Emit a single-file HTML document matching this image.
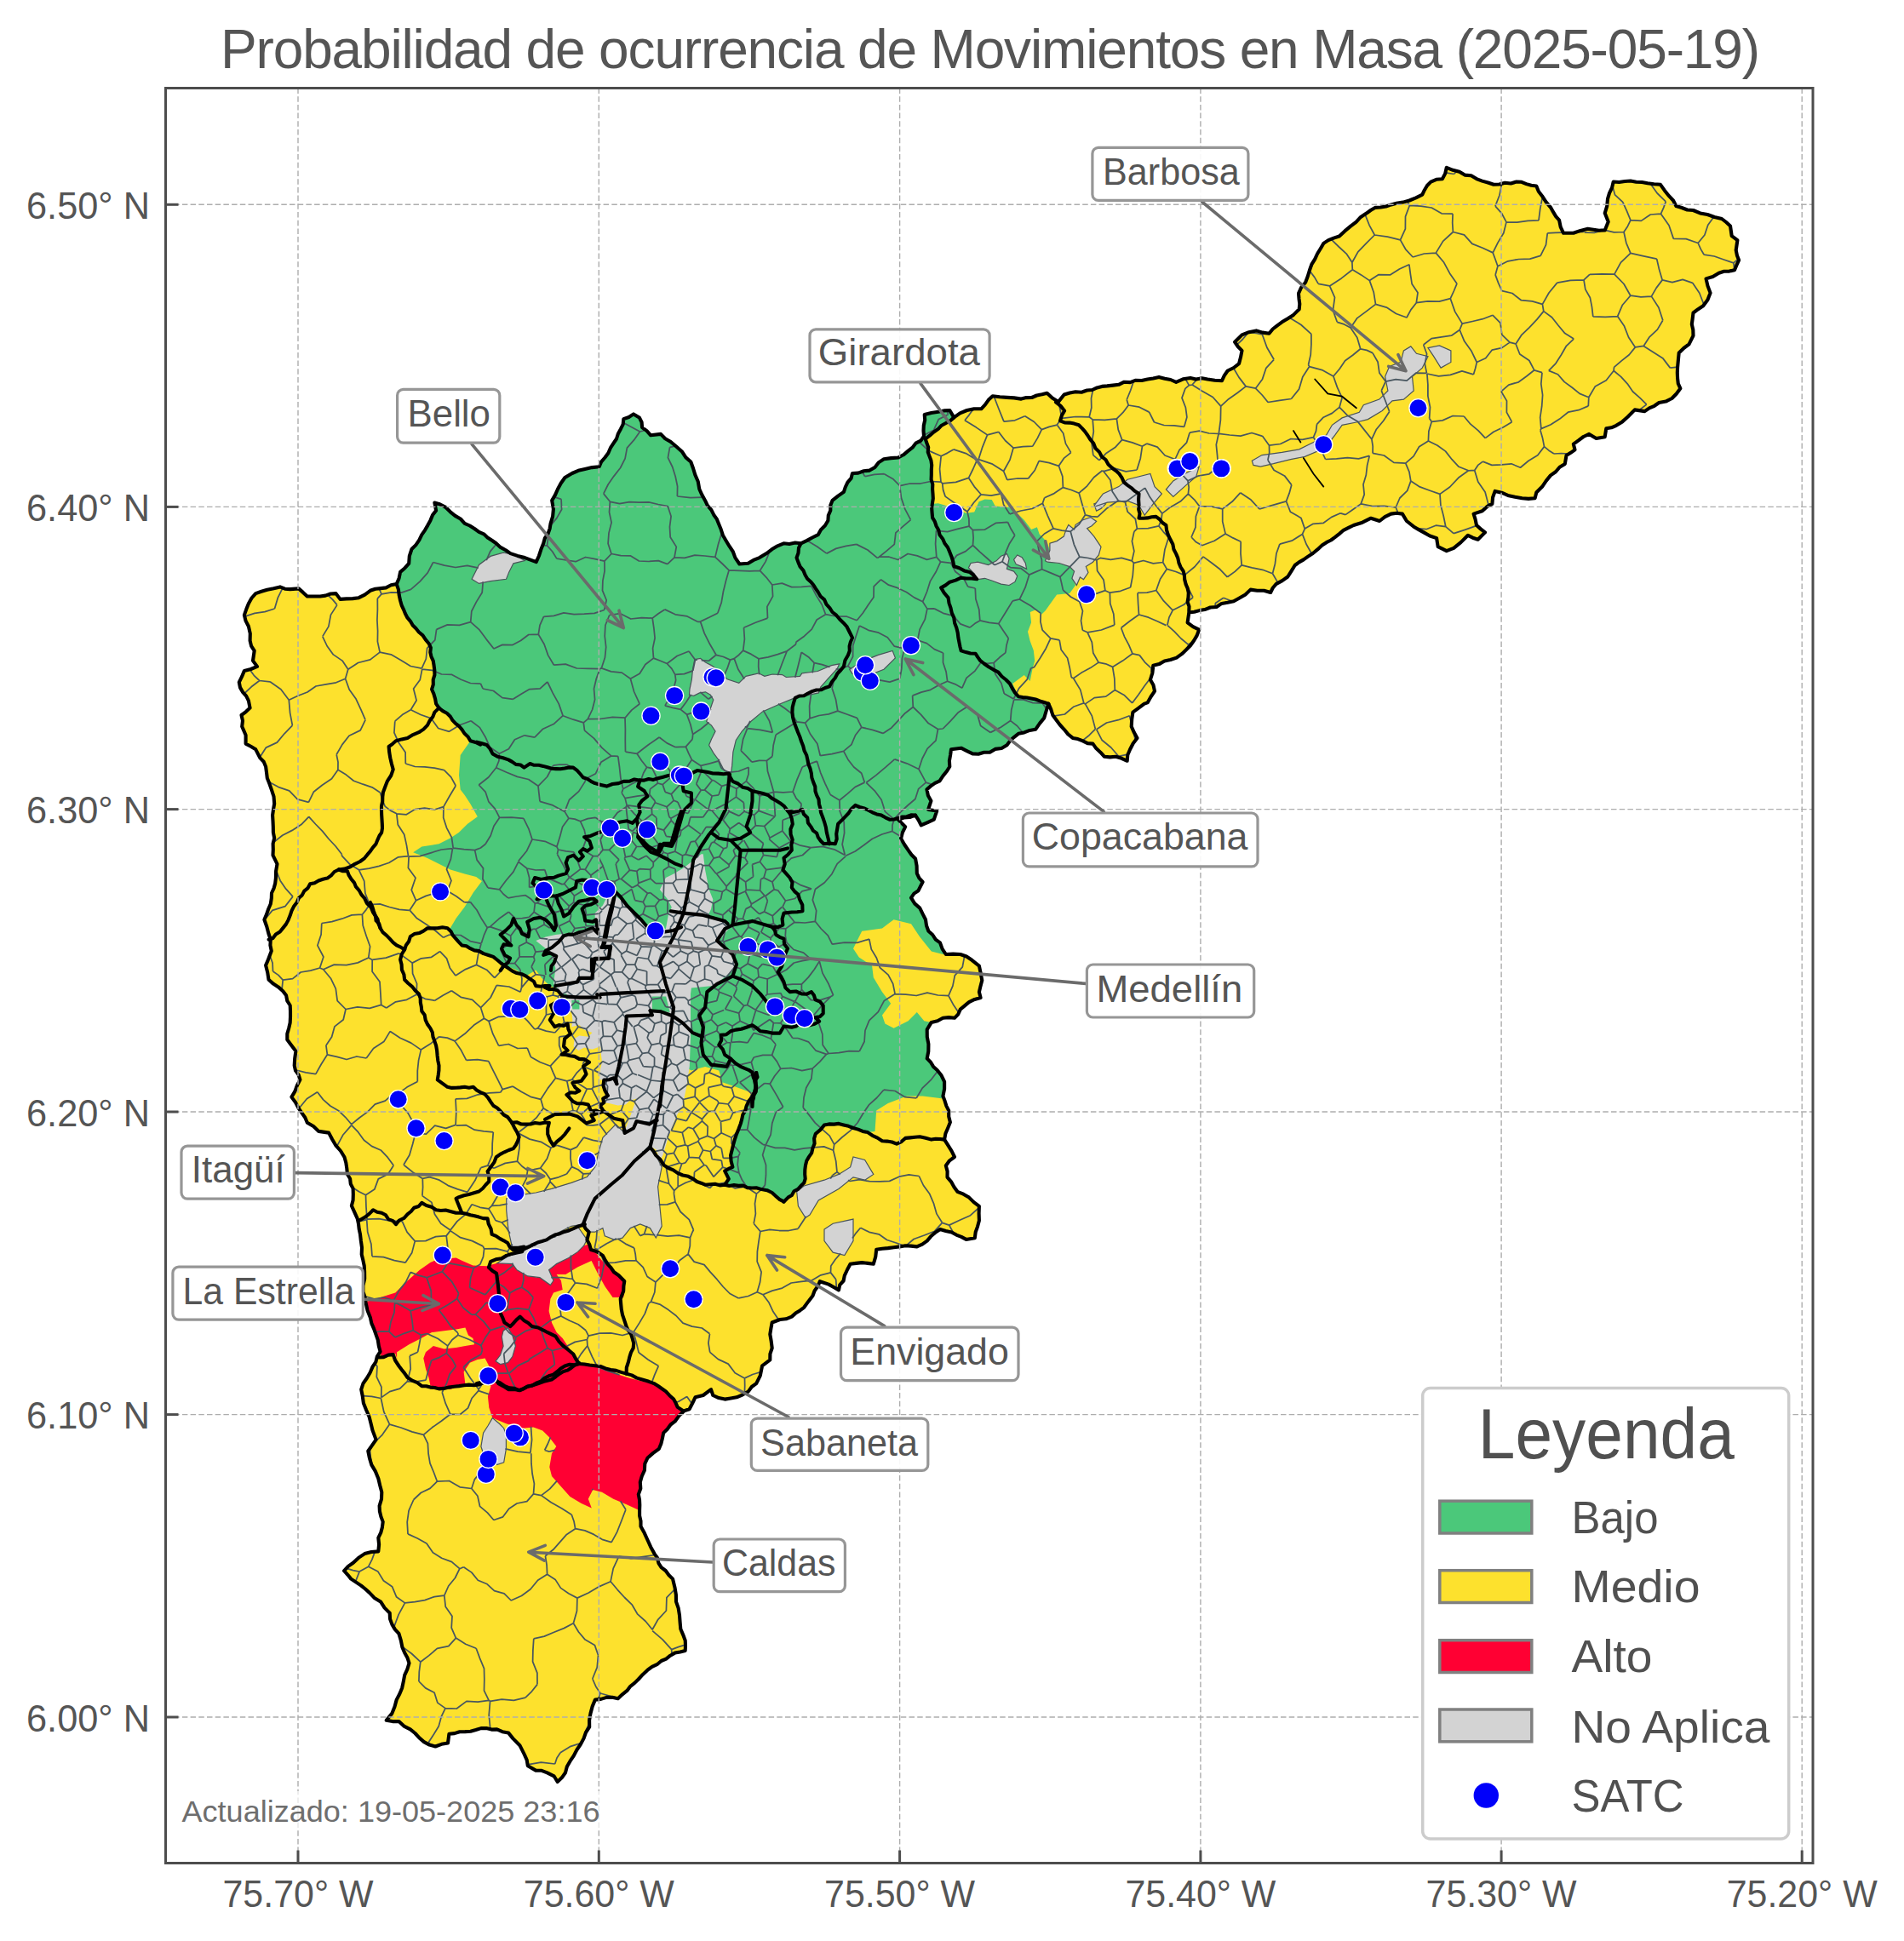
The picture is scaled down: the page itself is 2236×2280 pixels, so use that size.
<!DOCTYPE html><html><head><meta charset="utf-8"><title>Probabilidad de ocurrencia de Movimientos en Masa</title><style>html,body{margin:0;padding:0;background:#fff}body{width:2236px;height:2280px;position:relative;overflow:hidden}</style></head><body><svg width="2236" height="2280" viewBox="0 0 2236 2280" style="position:absolute;left:0;top:0">
<defs><clipPath id="mapclip"><path d="M300.3,697.1 L313.8,692.8 L328.9,689.4 L340.7,692.1 L350.8,691.4 L360.8,700.5 L376.0,700.5 L394.5,697.1 L399.5,703.9 L421.3,702.2 L434.8,693.8 L453.3,690.4 L465.7,686.1 L470.1,671.9 L480.2,661.8 L483.5,645.0 L495.3,628.2 L505.4,611.4 L512.1,599.7 L510.4,590.6 L515.5,591.9 L528.9,601.3 L545.7,614.8 L562.5,624.9 L582.7,638.3 L599.5,650.1 L616.3,655.1 L629.7,660.2 L638.2,638.3 L646.6,614.8 L649.9,598.0 L648.2,587.9 L655.0,574.5 L663.4,561.0 L671.8,556.0 L686.9,550.9 L703.7,548.2 L710.4,537.5 L720.5,520.7 L728.9,503.9 L732.3,492.1 L744.0,486.4 L750.8,490.4 L754.1,502.2 L764.2,511.3 L776.0,509.9 L787.7,519.0 L801.2,530.8 L811.3,542.5 L816.3,557.6 L821.3,574.5 L828.1,587.9 L838.2,604.7 L846.6,621.5 L856.6,641.7 L863.4,655.1 L868.4,662.5 L878.5,661.8 L891.9,655.1 L900.2,650.1 L920.3,638.3 L940.5,638.3 L960.7,628.2 L972.4,611.4 L977.5,587.9 L990.9,577.8 L1001.0,556.0 L1021.2,552.6 L1038.0,539.2 L1054.8,537.5 L1071.6,525.7 L1085.0,512.3 L1085.7,487.1 L1101.8,483.7 L1115.3,482.0 L1120.3,490.4 L1135.5,482.0 L1152.3,480.3 L1165.7,465.2 L1182.5,466.9 L1199.3,468.6 L1229.6,461.8 L1243.0,471.9 L1249.7,463.5 L1276.6,458.5 L1300.2,453.4 L1333.8,446.7 L1347.6,445.5 L1361.0,442.9 L1381.2,448.9 L1398.0,443.9 L1418.2,445.5 L1435.0,447.2 L1441.7,435.5 L1455.1,427.1 L1458.5,411.9 L1450.1,401.8 L1458.5,393.4 L1475.3,388.4 L1490.4,391.8 L1505.5,378.3 L1519.0,369.9 L1525.7,363.2 L1525.0,344.7 L1535.8,324.5 L1544.2,304.4 L1554.3,285.9 L1572.8,277.5 L1586.2,265.7 L1604.7,250.6 L1614.8,243.9 L1640.0,238.8 L1655.1,235.5 L1670.3,228.7 L1680.3,213.6 L1693.8,210.3 L1698.8,196.8 L1713.9,201.8 L1734.0,210.1 L1754.1,216.8 L1780.8,213.5 L1804.3,218.5 L1811.0,230.2 L1821.0,243.6 L1831.1,258.7 L1836.1,273.8 L1847.8,273.8 L1864.6,268.7 L1884.7,270.4 L1888.7,260.4 L1884.7,250.3 L1888.0,233.6 L1894.7,213.5 L1914.8,212.5 L1934.9,215.2 L1950.0,216.8 L1960.0,230.2 L1968.4,242.0 L1988.5,247.0 L2005.2,252.0 L2022.0,257.0 L2032.0,265.4 L2033.7,277.1 L2040.4,282.1 L2038.7,293.9 L2042.1,305.6 L2037.0,317.3 L2018.6,320.7 L2003.5,327.4 L2008.6,344.1 L2000.2,359.2 L1988.5,367.5 L1986.8,380.9 L1988.5,394.3 L1983.5,404.4 L1971.7,414.4 L1970.1,431.2 L1970.1,444.6 L1973.4,456.3 L1963.4,468.0 L1948.3,473.0 L1931.5,483.1 L1919.8,481.4 L1911.5,489.8 L1898.1,499.8 L1886.3,503.2 L1884.7,513.2 L1874.6,514.9 L1866.2,509.9 L1847.8,521.6 L1849.5,528.3 L1839.5,535.0 L1837.8,545.0 L1821.0,558.4 L1811.0,571.8 L1804.3,578.5 L1802.6,585.2 L1787.5,585.2 L1770.8,581.9 L1755.7,576.9 L1752.4,591.9 L1740.7,600.3 L1730.6,603.6 L1734.0,617.0 L1744.0,625.4 L1735.6,633.8 L1723.9,628.8 L1715.5,637.1 L1707.2,643.8 L1698.8,647.2 L1688.7,642.2 L1687.1,632.1 L1672.0,625.4 L1660.3,618.7 L1651.9,612.0 L1646.9,603.6 L1633.5,603.6 L1620.1,612.0 L1610.0,608.7 L1600.0,613.7 L1589.6,617.0 L1572.8,627.1 L1552.6,640.5 L1535.8,653.9 L1520.7,664.0 L1512.3,677.5 L1498.8,685.9 L1492.1,696.0 L1468.6,692.6 L1455.1,702.7 L1441.7,707.7 L1414.8,716.1 L1396.3,719.5 L1394.6,731.3 L1408.1,739.7 L1398.0,758.2 L1387.9,768.2 L1374.5,775.0 L1354.3,781.7 L1350.9,798.5 L1356.0,811.9 L1347.6,825.4 L1343.9,826.6 L1330.4,836.6 L1328.7,853.4 L1335.5,866.9 L1327.1,880.3 L1323.7,893.8 L1310.3,888.7 L1296.8,888.7 L1283.4,873.6 L1259.8,866.9 L1249.7,856.8 L1236.3,840.0 L1231.3,826.6 L1226.2,843.4 L1216.1,856.8 L1196.0,861.8 L1182.5,875.3 L1162.4,883.7 L1142.2,885.4 L1128.7,878.7 L1117.0,880.3 L1115.3,900.5 L1103.5,917.3 L1088.4,927.4 L1093.4,940.8 L1090.1,950.9 L1100.2,952.6 L1096.8,962.7 L1081.7,969.4 L1075.0,957.6 L1054.8,962.7 L1063.2,971.1 L1058.1,985.0 L1066.6,998.6 L1075.1,1008.8 L1076.8,1025.8 L1083.6,1036.0 L1078.5,1046.2 L1070.0,1054.7 L1080.2,1066.6 L1087.0,1080.2 L1090.4,1093.8 L1104.0,1107.4 L1110.8,1121.0 L1127.8,1121.0 L1141.4,1127.8 L1149.9,1134.6 L1153.3,1151.6 L1149.9,1165.2 L1151.6,1172.0 L1138.0,1177.1 L1127.8,1185.6 L1121.0,1195.8 L1107.4,1195.8 L1093.8,1200.9 L1088.7,1209.4 L1090.4,1226.4 L1088.7,1243.4 L1100.6,1257.0 L1109.1,1270.6 L1107.4,1287.6 L1114.2,1304.6 L1115.9,1318.2 L1109.1,1338.6 L1117.6,1352.2 L1121.0,1359.0 L1110.8,1369.2 L1112.5,1382.8 L1124.4,1399.8 L1138.0,1406.6 L1149.9,1416.8 L1149.9,1433.8 L1144.8,1454.2 L1134.6,1455.9 L1117.6,1447.4 L1104.0,1444.0 L1088.7,1457.6 L1076.8,1464.4 L1056.4,1464.4 L1042.8,1466.1 L1029.2,1467.8 L1025.8,1484.8 L1012.2,1483.1 L998.6,1484.8 L991.8,1498.4 L985.0,1515.4 L973.1,1508.6 L962.9,1505.2 L954.4,1522.2 L944.2,1535.8 L929.8,1546.6 L915.9,1550.0 L906.7,1553.5 L904.3,1567.4 L906.7,1583.5 L904.3,1597.4 L895.1,1604.3 L892.8,1615.9 L888.2,1625.1 L878.9,1634.4 L865.1,1641.3 L851.2,1643.6 L837.3,1639.0 L835.0,1632.1 L825.8,1639.0 L816.5,1641.3 L809.6,1655.2 L802.7,1657.5 L803.4,1657.6 L792.6,1669.7 L779.2,1683.1 L773.9,1701.8 L760.5,1712.5 L753.8,1734.0 L749.8,1755.4 L751.1,1774.2 L752.5,1792.9 L760.5,1809.0 L768.5,1825.1 L776.6,1841.2 L790.0,1854.6 L792.6,1865.3 L794.0,1881.4 L798.0,1897.4 L799.3,1913.5 L804.7,1926.9 L804.7,1939.0 L792.6,1941.6 L776.6,1951.0 L760.5,1961.7 L749.8,1972.5 L736.4,1985.9 L725.7,1995.2 L712.3,1993.9 L698.9,1996.6 L693.5,2012.6 L692.2,2028.7 L685.5,2042.1 L677.4,2055.5 L669.4,2068.9 L664.0,2082.3 L654.7,2093.0 L650.6,2086.3 L642.6,2082.3 L629.2,2079.6 L619.8,2074.3 L615.8,2060.9 L610.4,2050.2 L602.4,2042.1 L597.0,2035.4 L583.6,2031.4 L564.9,2030.1 L546.1,2034.1 L527.4,2036.8 L526.0,2047.5 L511.3,2051.5 L497.9,2046.1 L481.8,2031.4 L468.4,2022.0 L453.7,2020.7 L460.4,2012.6 L465.7,1996.6 L473.8,1975.1 L480.5,1953.7 L472.4,1934.9 L468.4,1918.9 L460.4,1908.1 L457.7,1894.7 L447.0,1881.4 L433.6,1870.6 L424.2,1862.6 L412.2,1854.6 L404.1,1845.2 L414.8,1835.8 L428.2,1825.1 L444.3,1822.4 L444.3,1806.3 L449.7,1787.6 L445.6,1768.8 L448.3,1752.7 L444.3,1736.7 L436.3,1720.6 L432.3,1704.5 L441.6,1691.1 L437.6,1680.4 L433.6,1664.3 L426.9,1648.2 L424.2,1632.2 L430.9,1618.8 L437.6,1605.4 L446.6,1587.7 L441.5,1567.6 L434.8,1547.4 L429.7,1530.6 L426.4,1510.4 L428.1,1493.6 L424.7,1473.4 L423.0,1449.9 L419.7,1431.4 L412.9,1416.3 L414.6,1396.1 L407.9,1379.3 L404.5,1359.2 L394.5,1345.7 L386.1,1330.6 L374.3,1328.9 L360.8,1318.8 L350.8,1302.0 L342.4,1288.6 L352.4,1268.4 L345.7,1251.6 L347.4,1234.8 L337.3,1221.3 L340.7,1201.2 L340.7,1181.0 L332.3,1164.2 L315.5,1150.8 L312.1,1133.9 L318.8,1117.1 L315.5,1097.0 L310.4,1080.2 L318.8,1055.1 L323.9,1031.6 L325.5,1014.8 L320.5,1004.7 L322.2,984.5 L320.5,964.4 L322.2,944.2 L318.8,927.4 L313.8,913.9 L312.1,900.5 L305.4,890.4 L300.3,880.3 L288.6,873.6 L288.6,863.5 L284.2,853.4 L283.5,840.0 L293.6,831.6 L291.9,823.2 L285.2,813.1 L280.8,801.3 L286.9,787.9 L302.0,782.9 L297.0,776.1 L298.7,764.4 L293.6,752.6 L291.9,735.8 L286.9,722.4 L291.9,708.9Z"/></clipPath></defs>
<rect x="0" y="0" width="2236" height="2280" fill="#fff"/>
<g clip-path="url(#mapclip)">
<rect x="200" y="150" width="1900" height="2000" fill="#fde12d"/>
<path d="M465.7,686.1 L440.0,600.0 L440.0,380.0 L1080.0,380.0 L1128.0,470.0 L1120.3,490.4 L1101.8,503.9 L1086.7,515.6 L1093.4,540.8 L1095.1,574.5 L1093.7,591.9 L1101.8,591.2 L1108.7,593.3 L1134.6,602.8 L1144.2,601.5 L1149.6,589.2 L1156.5,586.4 L1164.7,587.1 L1168.8,594.6 L1185.1,596.0 L1196.1,604.2 L1202.9,611.0 L1211.1,621.9 L1217.9,619.2 L1220.7,627.4 L1226.1,632.9 L1230.2,638.3 L1232.9,646.5 L1227.5,658.8 L1230.2,660.2 L1243.9,661.5 L1256.2,665.6 L1261.6,671.1 L1260.3,680.7 L1263.0,687.5 L1256.2,697.0 L1241.1,698.4 L1234.3,708.0 L1227.5,717.5 L1223.4,721.6 L1216.6,716.2 L1209.7,718.9 L1211.1,731.2 L1207.0,742.1 L1209.7,753.0 L1213.8,764.0 L1215.2,776.2 L1212.5,785.8 L1209.7,800.0 L1202.7,792.9 L1189.2,803.0 L1196.0,818.2 L1216.1,821.5 L1231.3,826.6 L1236.0,850.0 L1228.0,880.0 L1200.0,1000.0 L1200.0,1100.0 L1107.4,1121.0 L1093.8,1117.6 L1080.2,1100.6 L1070.0,1085.3 L1049.6,1080.2 L1042.8,1085.3 L1036.0,1090.4 L1012.2,1093.8 L1002.0,1114.2 L1008.8,1124.4 L1024.1,1134.6 L1025.8,1148.2 L1036.0,1165.2 L1046.2,1178.8 L1036.0,1192.4 L1039.4,1202.6 L1049.6,1207.7 L1066.6,1199.2 L1076.8,1189.0 L1085.3,1199.2 L1093.8,1200.9 L1200.0,1210.0 L1200.0,1285.0 L1105.7,1290.3 L1083.6,1287.6 L1064.9,1287.6 L1042.8,1296.1 L1029.2,1304.6 L1027.5,1329.1 L1019.0,1330.1 L1002.0,1325.0 L985.0,1319.9 L968.0,1321.6 L957.8,1331.8 L954.4,1348.8 L945.9,1369.2 L944.2,1389.6 L925.5,1406.6 L920.4,1411.7 L906.7,1401.0 L888.2,1395.2 L867.4,1392.9 L851.2,1391.7 L855.8,1384.8 L851.2,1375.6 L860.4,1370.9 L858.1,1357.1 L862.8,1338.6 L869.7,1320.1 L876.6,1299.3 L885.9,1283.1 L881.2,1283.1 L862.8,1276.2 L848.9,1271.6 L848.9,1273.7 L844.3,1257.5 L828.1,1252.9 L811.9,1257.5 L721.8,1206.7 L675.6,1183.5 L659.4,1167.4 L652.4,1160.4 L645.5,1158.1 L636.3,1148.9 L629.3,1139.6 L617.8,1146.6 L606.2,1139.6 L589.4,1132.2 L589.4,1132.3 L579.3,1123.9 L562.5,1117.1 L542.4,1110.4 L525.5,1090.3 L528.9,1090.1 L535.6,1078.7 L545.7,1065.2 L555.8,1048.4 L565.9,1035.0 L559.2,1029.9 L545.7,1026.6 L528.9,1021.5 L515.5,1014.8 L502.0,1008.1 L485.2,1001.3 L495.3,994.6 L515.5,991.3 L528.9,984.5 L539.0,977.8 L549.1,967.7 L560.8,959.3 L552.4,944.2 L545.7,934.1 L540.7,927.4 L539.0,910.6 L540.7,887.1 L552.4,870.3 L552.4,870.3 L542.4,856.8 L528.9,841.7 L515.5,831.6 L515.5,831.6 L512.1,826.6 L507.1,809.7 L510.4,792.9 L508.7,776.1 L503.7,756.0 L491.9,742.5 L478.5,725.7 L470.1,705.5 L465.7,686.1Z" fill="#4bc87a"/>
<path d="M429.5,1529.3 L464.3,1518.6 L476.8,1506.1 L492.9,1491.8 L505.4,1482.9 L514.3,1479.3 L535.7,1477.5 L542.9,1481.1 L555.4,1486.4 L571.4,1487.3 L583.9,1483.8 L601.8,1484.6 L607.1,1491.8 L619.6,1498.9 L633.9,1500.7 L646.4,1509.6 L650.0,1504.3 L644.6,1491.8 L653.6,1484.6 L667.9,1477.5 L678.6,1470.4 L685.7,1463.2 L691.1,1461.4 L700.0,1472.1 L707.1,1481.1 L719.6,1491.8 L730.4,1502.5 L733.9,1515.0 L732.1,1523.9 L719.6,1523.9 L710.7,1511.4 L701.8,1495.4 L694.6,1481.1 L678.6,1488.2 L664.3,1497.1 L653.6,1497.1 L658.9,1504.3 L660.7,1515.0 L650.0,1518.6 L646.4,1525.7 L644.6,1540.0 L648.2,1554.3 L653.6,1565.0 L660.7,1572.1 L667.9,1582.9 L675.0,1593.6 L678.6,1598.9 L685.7,1602.5 L703.6,1606.1 L721.4,1609.6 L723.0,1613.4 L739.1,1618.8 L755.1,1622.8 L768.0,1625.7 L781.9,1634.8 L791.0,1644.2 L795.9,1653.3 L802.6,1658.1 L819.4,1663.0 L808.7,1669.7 L781.9,1683.1 L776.6,1701.8 L763.2,1712.5 L756.5,1734.0 L752.5,1755.4 L751.1,1774.2 L736.4,1767.5 L720.3,1760.8 L706.9,1752.7 L696.2,1750.1 L690.8,1760.8 L694.8,1771.5 L682.8,1766.1 L669.4,1758.1 L658.7,1746.0 L648.0,1734.0 L645.3,1723.3 L648.0,1707.2 L653.3,1699.1 L645.3,1688.4 L637.2,1680.4 L626.5,1676.4 L613.1,1677.7 L594.4,1672.3 L578.3,1665.6 L574.3,1653.6 L572.9,1640.2 L576.9,1626.8 L578.3,1618.8 L576.8,1627.5 L571.4,1626.6 L560.7,1624.8 L551.8,1626.6 L541.1,1627.5 L528.6,1632.0 L516.1,1630.2 L505.4,1627.5 L492.9,1627.5 L478.6,1618.6 L469.6,1606.1 L466.1,1595.4 L464.3,1590.0 L458.9,1590.0 L451.8,1595.4 L447.3,1591.8 L442.9,1575.7 L435.7,1547.1 L426.8,1529.3Z" fill="#ff0033"/>
<path d="M466.1,1588.2 L480.4,1579.3 L494.6,1572.1 L507.1,1565.0 L521.4,1563.2 L535.7,1561.4 L546.4,1559.6 L550.0,1568.6 L555.4,1572.1 L557.1,1579.3 L546.4,1581.1 L535.7,1582.9 L521.4,1584.6 L508.9,1581.1 L500.0,1588.2 L497.3,1595.4 L500.0,1607.9 L503.6,1618.6 L505.4,1627.5 L492.9,1627.5 L478.6,1618.6 L469.6,1606.1 L466.1,1595.4Z" fill="#fde12d"/>
<path d="M546.4,1625.7 L544.6,1611.4 L551.8,1600.7 L560.7,1597.1 L569.6,1595.4 L573.2,1602.5 L576.8,1609.6 L578.6,1618.6 L571.4,1625.7 L560.7,1623.9 L551.8,1625.7Z" fill="#fde12d"/>
<path d="M554.1,680.3 L562.5,663.5 L576.0,653.4 L591.1,649.1 L602.9,651.1 L616.3,658.5 L602.9,661.8 L597.8,671.9 L594.5,680.3 L576.0,682.7 L562.5,685.4Z" fill="#d3d3d3" stroke="#4a545a" stroke-width="1.2"/>
<path d="M815.8,774.7 L822.7,773.5 L828.5,778.1 L835.5,781.6 L844.7,788.5 L853.9,797.8 L867.8,802.4 L875.9,794.3 L890.9,790.8 L897.9,794.3 L907.1,792.0 L918.6,792.6 L923.3,795.5 L939.4,794.3 L941.8,790.8 L960.2,788.5 L976.4,781.6 L985.7,779.9 L983.4,785.1 L971.8,797.8 L963.7,807.0 L961.4,813.9 L933.7,819.7 L916.3,826.7 L895.5,835.9 L881.7,847.5 L871.3,859.0 L864.3,869.4 L860.9,883.3 L859.7,899.4 L858.6,907.5 L850.5,905.2 L844.7,893.7 L837.8,884.4 L832.6,875.2 L835.5,868.2 L840.1,859.0 L835.5,852.1 L829.7,847.5 L834.3,832.4 L837.8,822.0 L834.3,816.3 L828.5,812.8 L821.6,813.9 L814.7,817.4 L809.5,816.3 L810.0,809.3 L812.4,797.8 L813.5,786.2Z" fill="#d3d3d3" stroke="#4a545a" stroke-width="1.2"/>
<path d="M997.6,786.2 L1014.5,776.1 L1031.3,769.4 L1048.1,764.4 L1051.4,772.8 L1038.0,786.2 L1021.2,792.9 L1001.0,791.3Z" fill="#d3d3d3" stroke="#4a545a" stroke-width="1.2"/>
<path d="M1137.4,667.0 L1140.1,661.5 L1148.3,660.2 L1160.6,663.6 L1170.1,658.8 L1175.6,653.3 L1182.4,650.6 L1185.1,656.1 L1182.4,668.4 L1190.6,671.1 L1194.7,676.6 L1192.0,683.4 L1185.1,687.5 L1175.6,686.1 L1164.7,682.0 L1156.5,679.3 L1148.3,680.7 L1144.2,673.8Z" fill="#d3d3d3" stroke="#4a545a" stroke-width="1.2"/>
<path d="M1190.6,657.4 L1194.7,652.0 L1200.2,654.7 L1204.3,661.5 L1205.6,668.4 L1200.2,665.6 L1193.3,662.9Z" fill="#d3d3d3" stroke="#4a545a" stroke-width="1.2"/>
<path d="M1284.8,591.9 L1293.0,589.2 L1298.5,591.9 L1293.0,597.4 L1287.6,600.1Z" fill="#d3d3d3" stroke="#4a545a" stroke-width="1.2"/>
<path d="M1227.5,658.8 L1232.9,646.5 L1232.9,638.3 L1241.1,635.6 L1249.3,630.1 L1252.1,621.9 L1254.8,616.5 L1261.6,621.9 L1263.0,616.5 L1271.2,611.0 L1280.7,607.6 L1287.6,612.4 L1282.1,617.8 L1276.6,620.6 L1284.8,630.1 L1293.0,642.4 L1290.3,652.0 L1283.5,660.2 L1275.3,665.6 L1278.0,672.5 L1272.5,680.7 L1268.4,677.9 L1264.4,687.5 L1258.9,679.3 L1261.6,671.1 L1256.2,665.6 L1243.9,661.5 L1230.2,660.2Z" fill="#d3d3d3" stroke="#4a545a" stroke-width="1.2"/>
<path d="M1285.4,593.4 L1295.5,580.0 L1313.9,571.6 L1324.0,563.2 L1350.9,556.5 L1356.0,571.6 L1364.4,580.0 L1354.3,591.8 L1344.2,605.2 L1337.5,593.4 L1324.0,588.4 L1300.5,590.1 L1285.4,595.1Z" fill="#d3d3d3" stroke="#4a545a" stroke-width="1.2"/>
<path d="M1369.4,575.0 L1377.8,564.9 L1391.3,556.5 L1408.1,548.1 L1404.7,559.8 L1392.9,569.9 L1377.8,583.4Z" fill="#d3d3d3" stroke="#4a545a" stroke-width="1.2"/>
<path d="M1470.3,541.3 L1482.0,534.6 L1505.5,531.3 L1525.7,527.9 L1542.5,519.5 L1557.6,511.1 L1564.4,499.3 L1576.1,490.9 L1596.3,484.2 L1601.3,475.8 L1619.8,469.1 L1629.9,459.0 L1626.6,442.2 L1631.6,430.4 L1645.0,425.4 L1648.4,411.9 L1656.8,406.9 L1663.5,415.3 L1677.0,418.7 L1670.3,432.1 L1658.5,442.2 L1660.2,459.0 L1648.4,469.1 L1635.0,470.8 L1623.2,482.5 L1606.4,492.6 L1592.9,496.0 L1576.1,499.3 L1567.7,511.1 L1556.0,526.2 L1532.4,536.3 L1515.6,539.7 L1495.5,544.7 L1480.3,548.1 L1471.9,546.4Z" fill="#d3d3d3" stroke="#4a545a" stroke-width="1.2"/>
<path d="M1677.0,408.6 L1690.4,405.9 L1703.9,411.9 L1703.9,425.4 L1692.1,432.1 L1683.7,418.7Z" fill="#d3d3d3" stroke="#4a545a" stroke-width="1.2"/>
<path d="M578.3,1665.6 L572.9,1675.0 L567.6,1683.1 L564.9,1699.1 L567.6,1707.2 L578.3,1712.5 L583.6,1720.6 L591.7,1717.9 L594.4,1701.8 L594.4,1685.7 L591.7,1677.7 L586.3,1672.3Z" fill="#d3d3d3" stroke="#4a545a" stroke-width="1.2"/>
<path d="M935.7,1399.8 L944.2,1393.0 L968.0,1386.2 L985.0,1379.4 L998.6,1370.9 L1002.0,1359.0 L1015.6,1362.4 L1025.8,1379.4 L1015.6,1386.2 L1002.0,1382.8 L985.0,1396.4 L961.2,1410.0 L951.0,1427.0 L945.9,1430.4 L937.4,1416.8Z" fill="#d3d3d3" stroke="#4a545a" stroke-width="1.2"/>
<path d="M968.0,1444.0 L978.2,1437.2 L1002.0,1432.1 L1002.0,1457.6 L991.8,1474.6 L978.2,1471.2 L968.0,1457.6Z" fill="#d3d3d3" stroke="#4a545a" stroke-width="1.2"/>
<path d="M823.5,1003.3 L825.8,1003.3 L828.1,1021.8 L832.7,1044.9 L837.3,1056.4 L835.0,1068.0 L830.4,1077.2 L851.2,1081.9 L855.8,1091.1 L844.3,1105.0 L860.4,1121.2 L865.1,1132.7 L858.1,1142.0 L846.6,1151.2 L837.3,1158.1 L811.9,1160.4 L811.0,1167.4 L663.1,1167.4 L659.4,1167.4 L650.1,1155.8 L652.4,1137.3 L647.8,1121.2 L640.9,1114.2 L629.3,1105.0 L640.9,1100.4 L652.4,1098.0 L670.9,1095.7 L689.4,1091.1 L698.7,1086.5 L698.7,1072.6 L707.9,1063.4 L712.5,1054.1 L721.8,1051.8 L731.0,1058.8 L740.3,1068.0 L749.5,1077.2 L758.8,1086.5 L768.0,1095.7 L781.9,1091.1 L785.3,1072.6 L788.8,1065.7 L784.2,1056.4 L774.9,1044.9 L781.9,1031.0 L791.1,1026.4 L802.7,1019.5 L811.9,1012.5Z" fill="#d3d3d3"/>
<path d="M663.1,1155.4 L811.0,1155.4 L811.0,1217.8 L809.8,1252.4 L806.4,1275.5 L804.1,1287.1 L801.8,1298.6 L794.8,1310.2 L790.2,1321.8 L785.6,1333.3 L782.1,1344.9 L778.6,1356.4 L775.2,1363.4 L770.6,1350.6 L762.5,1346.0 L767.1,1333.3 L770.6,1319.4 L769.4,1316.0 L762.5,1320.6 L747.5,1317.1 L744.0,1325.2 L733.6,1331.0 L734.7,1325.2 L740.5,1310.2 L747.5,1290.6 L739.4,1292.9 L734.7,1297.5 L725.5,1298.6 L716.3,1296.3 L709.9,1295.2 L708.2,1290.6 L713.9,1287.1 L710.5,1281.3 L709.3,1268.6 L704.1,1268.6 L704.7,1257.1 L707.0,1247.8 L705.9,1238.6 L704.7,1229.3 L695.5,1232.8 L686.2,1230.5 L679.3,1233.9 L673.5,1229.3 L674.7,1220.1 L680.4,1216.6 L690.8,1217.8 L695.5,1213.1 L686.2,1209.7 L680.4,1203.9 L671.2,1206.2 L672.4,1198.1 L671.2,1187.7 L666.6,1173.9Z" fill="#d3d3d3"/>
<path d="M723.2,1320.6 L733.6,1330.9 L744.0,1325.2 L747.4,1317.1 L762.4,1320.6 L768.0,1317.8 L765.7,1334.0 L762.4,1346.0 L744.9,1364.0 L731.0,1380.2 L717.2,1391.7 L698.7,1407.9 L689.4,1426.4 L684.8,1438.0 L670.9,1440.3 L652.4,1449.5 L636.3,1458.8 L615.5,1464.5 L601.6,1465.7 L597.0,1444.9 L594.7,1421.8 L594.7,1407.9 L613.2,1403.3 L629.3,1401.0 L647.8,1396.4 L670.9,1389.4 L689.4,1382.5 L698.7,1370.9 L703.3,1352.4 L707.9,1336.3Z" fill="#d3d3d3" stroke="#4a545a" stroke-width="1.2"/>
<path d="M762.4,1346.0 L770.3,1357.1 L777.2,1370.9 L772.6,1394.0 L774.9,1417.2 L777.2,1440.3 L770.3,1454.1 L763.4,1442.6 L751.8,1438.0 L740.3,1442.6 L731.0,1454.1 L721.8,1456.4 L710.2,1451.8 L707.9,1442.6 L698.7,1447.2 L691.7,1447.2 L684.8,1438.0 L689.4,1426.4 L698.7,1407.9 L717.2,1391.7 L731.0,1380.2 L744.9,1364.0Z" fill="#d3d3d3" stroke="#4a545a" stroke-width="1.2"/>
<path d="M583.9,1483.8 L596.4,1475.7 L614.3,1469.5 L632.1,1460.5 L650.0,1453.4 L667.9,1444.5 L678.6,1440.9 L689.3,1456.1 L685.7,1463.2 L678.6,1470.4 L667.9,1477.5 L653.6,1484.6 L644.6,1491.8 L650.0,1504.3 L646.4,1509.6 L633.9,1500.7 L619.6,1498.9 L607.1,1491.8 L601.8,1484.6Z" fill="#d3d3d3" stroke="#4a545a" stroke-width="1.2"/>
<path d="M591.1,1563.2 L596.4,1559.6 L601.8,1568.6 L605.4,1581.1 L601.8,1593.6 L596.4,1600.7 L587.5,1602.5 L582.1,1598.9 L587.5,1591.8 L591.1,1581.1 L589.3,1570.4Z" fill="#d3d3d3" stroke="#4a545a" stroke-width="1.2"/>
<path d="M765.9,1170.4 L782.1,1170.4 L786.7,1188.9 L765.9,1186.6Z" fill="#4bc87a"/>
<path d="M671.2,1175.0 L680.4,1175.0 L680.4,1185.4 L672.4,1185.4Z" fill="#4bc87a"/>
<path fill="none" stroke="#48565f" stroke-width="1.75" stroke-linejoin="round" d="M287.6,724.2 L299.0,720.4 L311.0,718.7 L322.5,715.0M332.0,690.6 L326.2,702.4 L322.5,715.0M292.9,785.9 L298.2,793.3 L304.7,799.5M304.7,799.5 L295.2,806.8 L286.5,815.0M304.7,799.5 L317.1,800.8M510.5,591.3 L511.8,593.4M511.8,593.4 L516.5,592.6M1709.6,200.4 L1709.7,202.1M1709.7,202.1 L1713.1,201.5M503.2,2046.7 L504.3,2048.7M651.7,2072.0 L635.4,2070.1 L619.3,2072.8M1938.0,215.5 L1946.2,227.0 L1956.3,236.8M384.9,698.9 L390.7,704.4 L395.9,710.6M395.9,710.6 L388.5,722.1 L385.9,735.9 L378.8,747.6M443.3,703.1 L448.0,697.8M445.4,691.8 L448.0,697.8M650.3,583.7 L659.1,586.4M1756.0,242.1 L1761.0,229.2 L1763.7,215.6M1709.7,202.1 L1707.5,204.5M2041.6,303.8 L2035.9,308.9M2035.9,308.9 L2036.9,317.3M448.0,697.8 L459.5,695.8 L471.4,696.2 L482.5,692.3M482.5,692.3 L493.1,683.2 L502.2,672.9 L508.7,660.5M659.1,586.4 L659.6,598.5 L653.8,608.6 L646.0,618.1 L644.0,629.5 L642.5,640.9M642.5,640.9 L637.3,640.7M508.7,660.5 L521.8,664.2 L534.9,666.5 L548.7,664.4 L561.8,667.1M583.2,638.8 L575.8,647.6 L571.2,658.2M1756.0,242.1 L1763.6,250.7 L1769.0,260.9M1811.5,231.1 L1808.8,244.9 L1807.0,258.9M1807.0,258.9 L1794.3,259.4 L1781.7,261.2 L1769.0,260.9M1817.3,273.8 L1826.6,273.4 L1835.9,273.2M1851.7,272.6 L1859.7,272.3M1859.7,272.3 L1860.0,270.1M1950.5,251.2 L1938.3,252.0 L1927.4,259.4 L1914.9,258.7M1956.3,236.8 L1953.6,244.1 L1950.5,251.2M1914.9,258.7 L1910.5,247.9 L1905.7,237.3 L1896.6,228.9 L1893.4,217.4M1970.1,431.1 L1961.4,432.1M2035.9,308.9 L2024.5,305.0 L2013.2,301.0 L2001.2,299.2M2001.0,357.7 L1995.8,344.3 L1987.7,332.3M1950.5,251.2 L1960.0,264.8 L1965.3,280.4M2013.0,254.3 L2005.8,264.2 L2001.9,276.0 L1994.1,285.5M1965.3,280.4 L1980.1,280.7 L1994.1,285.5M2001.2,299.2 L1997.3,292.6 L1994.1,285.5M407.3,1842.4 L414.6,1844.7 L422.1,1846.1M440.1,1823.1 L436.9,1831.9 L432.7,1840.2M422.1,1846.1 L432.7,1840.2M417.4,1858.1 L422.1,1846.1M462.7,1911.2 L468.1,1896.6 L475.5,1882.9M475.5,1882.9 L465.5,1875.7 L460.5,1863.7 L450.4,1856.7 L443.9,1846.1 L432.7,1840.2M485.8,1761.5 L480.1,1774.4 L478.2,1787.9 L479.0,1801.9M874.5,1618.9 L863.2,1612.7 L855.2,1602.1 L843.4,1596.6 L833.7,1588.3M874.5,1618.9 L874.7,1627.8 L874.4,1636.6M806.7,1640.6 L812.7,1648.9M804.7,1932.2 L796.6,1934.6 L788.7,1937.6M789.0,1943.7 L788.7,1937.6M317.1,800.8 L329.9,809.8 L339.3,822.2M305.0,889.7 L312.5,878.1 L325.4,872.1 L334.0,861.8 L343.4,852.2M339.3,822.2 L340.6,837.3 L343.4,852.2M1119.8,1448.5 L1114.7,1439.1M1114.7,1439.1 L1127.1,1433.3 L1139.6,1427.7 L1149.9,1418.4M1707.5,204.5 L1696.6,202.6M1961.4,432.1 L1953.0,421.1 L1941.6,413.7 L1930.2,406.4M1952.8,376.2 L1946.4,387.1 L1937.1,395.8 L1930.2,406.4M1895.1,435.5 L1895.5,431.3M1895.5,431.3 L1904.2,423.9 L1913.2,416.8 L1920.4,407.9M1933.7,475.1 L1925.9,467.3 L1917.5,460.0 L1911.2,450.8 L1903.7,442.6 L1895.1,435.5M1930.2,406.4 L1920.4,407.9M447.7,1180.4 L446.9,1166.8 L446.0,1153.2 L437.1,1141.2 L437.2,1127.4M447.7,1180.4 L434.1,1184.3 L419.8,1182.9 L406.0,1185.5M406.0,1185.5 L396.2,1175.6 L394.3,1161.3 L388.4,1149.2 L379.7,1138.7M379.7,1138.7 L392.4,1133.1 L406.8,1133.7 L420.2,1130.9 L432.8,1125.0M437.2,1127.4 L432.8,1125.0M453.7,1184.0 L464.7,1176.8 L477.7,1174.3 L489.1,1168.2M458.2,1211.4 L469.9,1219.2 L482.8,1225.1 L494.4,1233.1M510.6,1175.3 L499.3,1173.3 L489.1,1168.2M515.7,1217.8 L505.6,1226.1 L494.4,1233.1M468.6,1119.9 L453.2,1125.2 L437.2,1127.4M484.2,1131.1 L484.6,1143.6 L489.6,1155.5 L489.1,1168.2M468.6,1119.9 L476.4,1125.4 L484.2,1131.1M447.7,1180.4 L453.7,1184.0M412.8,1320.7 L405.6,1312.3 L397.6,1304.7 L387.8,1299.0 L379.5,1291.6 L372.7,1282.8M412.8,1320.7 L422.1,1313.0 L431.9,1305.9 L440.4,1297.2 L452.3,1293.1 L461.5,1285.2M430.2,1243.0 L418.9,1241.0 L407.0,1244.5 L395.7,1241.3 L384.4,1238.8M370.8,1261.6 L377.3,1250.0 L384.4,1238.8M412.8,1321.6 L402.7,1333.3 L395.4,1346.9M350.9,1302.2 L360.3,1290.8 L372.7,1282.8M458.2,1211.4 L450.8,1223.6 L438.6,1231.6 L430.2,1243.0M382.9,1227.9 L384.4,1238.8M382.9,1227.9 L389.6,1217.9 L392.9,1205.9 L403.2,1197.8 L406.0,1185.5M347.8,1257.0 L359.2,1259.9 L370.8,1261.6M833.5,1566.8 L831.9,1577.6 L833.7,1588.3M889.2,1517.7 L878.7,1522.5 L867.4,1524.9M874.5,1618.9 L883.8,1614.5 L893.7,1611.5M889.2,1517.7 L896.0,1520.7M896.0,1520.7 L903.0,1530.1 L908.0,1540.8 L914.6,1550.5M896.0,1520.7 L907.0,1516.1 L918.6,1513.1 L929.2,1507.0 L941.2,1505.3 L953.4,1504.1 L963.9,1497.8 L975.5,1494.9M982.4,1513.9 L981.7,1502.9M975.5,1494.9 L981.7,1502.9M1106.5,1436.3 L1097.6,1446.2 L1085.5,1451.0 L1073.1,1455.5 L1063.2,1463.9M1114.7,1439.1 L1106.5,1436.3M475.5,1882.9 L487.3,1881.7 L498.9,1879.6 L510.1,1875.6 L521.8,1874.1M479.0,1801.9 L490.2,1807.0 L501.0,1812.9 L508.4,1823.8 L518.7,1830.3 L530.5,1834.6 L539.8,1842.7M521.8,1874.1 L526.7,1863.0 L534.5,1853.5 L539.8,1842.7M480.6,1069.4 L468.9,1068.4 L457.4,1065.5 L446.1,1061.8 L434.1,1062.6M432.8,1125.0 L434.6,1111.8 L430.2,1099.5 L426.2,1087.1 L425.4,1074.2M434.1,1062.6 L430.0,1068.6 L425.4,1074.2M567.2,683.4 L566.2,696.0 L559.5,706.9 L553.8,718.0 L552.7,730.6M512.6,739.4 L525.4,733.9 L539.5,734.3 L552.7,730.6M512.6,739.4 L510.8,751.8 L501.6,761.4 L500.3,774.0 L495.3,785.2M564.5,803.2 L552.5,802.5 L541.4,798.3 L530.7,792.4 L518.6,792.0 L507.6,787.4 L495.7,786.2M552.7,730.6 L563.1,739.9 L571.3,751.1 L579.9,762.0M443.3,703.1 L443.4,715.7 L442.9,728.4 L443.6,741.0 L443.4,753.6 L446.1,766.1M495.3,785.2 L482.2,782.5 L470.8,775.5 L459.2,768.8 L446.1,766.1M378.8,747.6 L384.2,759.0 L391.4,768.9 L402.0,776.1 L408.8,786.3M446.1,766.1 L434.8,774.9 L420.6,778.5 L408.8,786.3M339.3,822.2 L350.0,817.2 L361.0,813.0 L371.0,806.0 L382.9,803.9 L394.7,801.8 L405.6,797.3M408.8,786.3 L405.6,797.3M1106.5,1436.3 L1100.0,1425.9 L1096.6,1413.9 L1091.8,1402.6 L1084.5,1392.5 L1079.3,1381.5M1101.3,1258.0 L1093.1,1268.7 L1083.2,1278.1 L1076.3,1289.8M653.8,656.1 L664.9,658.0 L676.1,659.7 L687.6,654.5 L698.8,656.6 L709.9,659.2M709.9,659.2 L710.1,670.7 L707.9,682.1 L707.5,693.6 L712.2,705.0 L709.6,716.5M709.6,716.5 L698.1,720.4 L686.2,721.2 L674.2,721.6 L662.0,719.9 L650.4,723.3 L638.5,724.3M642.5,640.9 L648.8,648.0 L653.8,656.1M632.3,745.2 L620.8,745.5 L611.5,752.5 L601.6,757.7 L590.0,757.4 L579.9,762.0M632.3,745.2 L634.0,734.3 L638.5,724.3M1933.7,475.1 L1924.4,482.1M1817.3,273.8 L1815.5,287.7 L1809.2,300.3M1809.2,300.3 L1796.8,304.2 L1783.5,304.5 L1770.8,306.8 L1758.9,312.7M1769.0,260.9 L1765.8,273.8 L1759.0,285.1 L1753.2,296.9M1753.2,296.9 L1756.1,304.8 L1758.9,312.7M1753.2,296.9 L1741.2,291.3 L1728.9,286.4 L1719.5,275.8 L1706.4,272.5M1706.1,251.1 L1705.7,261.8 L1706.4,272.5M1548.2,333.4 L1543.7,325.6 L1538.3,318.5M1987.7,332.3 L1976.1,328.3 L1963.9,331.7 L1952.2,328.9M1952.2,328.9 L1948.5,316.6 L1945.7,304.2M1952.8,376.2 L1947.9,361.3 L1939.4,348.1M1952.2,328.9 L1945.2,338.1 L1939.4,348.1M1920.4,407.9 L1912.6,396.3 L1907.5,383.1 L1899.6,371.6M1870.8,371.8 L1885.2,372.4 L1899.6,371.6M1828.7,332.1 L1819.0,344.0 L1811.4,357.4M1828.7,332.1 L1844.2,329.3 L1860.0,328.9M1812.8,365.6 L1822.5,372.8 L1830.0,382.3 L1837.8,391.6 L1848.2,398.1M1812.8,365.6 L1811.4,357.4M1870.8,371.8 L1869.5,360.7 L1867.4,349.8 L1861.8,339.9 L1860.0,328.9M1939.4,348.1 L1927.0,348.9 L1914.8,347.2M1899.6,371.6 L1905.4,358.2 L1914.8,347.2M412.8,1321.6 L420.7,1329.9 L427.4,1339.3 L436.5,1346.4 L447.6,1351.3 L455.4,1359.7 L462.2,1369.1M414.2,1395.0 L421.6,1399.8 L429.5,1403.7M429.5,1403.7 L439.8,1397.1 L444.3,1384.9 L455.6,1379.3 L462.2,1369.1M494.4,1233.1 L491.6,1245.4 L490.3,1257.8 L490.3,1270.4M461.5,1285.2 L466.6,1285.4M466.6,1285.4 L477.9,1277.1 L490.3,1270.4M534.2,1222.9 L541.6,1233.8 L547.6,1245.4M515.7,1217.8 L525.3,1219.1 L534.2,1222.9M437.1,1722.3 L435.3,1712.0 L434.3,1701.6M889.2,1517.7 L892.6,1506.0 L894.1,1494.2 L889.2,1482.0 L889.4,1470.1 L891.0,1458.3 L892.9,1446.5M892.9,1446.5 L903.9,1444.4 L915.1,1445.5 L926.3,1445.5 L937.2,1443.3M975.5,1494.9 L975.8,1486.9M1063.2,1463.9 L1052.5,1460.0 L1041.6,1456.5 L1032.1,1449.8 L1020.8,1447.3 L1010.6,1442.2M975.8,1486.9 L981.1,1479.3 L987.1,1472.4M1001.0,1454.5 L1005.5,1448.1 L1010.6,1442.2M1079.3,1381.5 L1067.4,1379.9 L1055.9,1382.2 L1044.6,1387.4 L1033.0,1387.9 L1021.2,1387.6 L1009.4,1385.7 L997.8,1387.5M937.2,1443.3 L942.0,1436.0 L946.7,1428.7M975.2,1384.4 L977.8,1380.4M892.9,1446.5 L885.2,1437.2M885.2,1437.2 L887.4,1425.7 L886.5,1413.8 L888.5,1402.2M888.5,1402.2 L893.9,1397.7 L898.4,1392.1M1037.8,1280.2 L1051.1,1281.5 L1062.9,1288.7 L1076.3,1289.8M979.7,1344.4 L988.8,1336.0 L998.6,1328.1 L1007.0,1319.0 L1013.4,1308.2 L1020.4,1297.9 L1029.7,1289.5 L1037.8,1280.2M979.7,1344.4 L978.6,1351.3M997.8,1387.5 L996.1,1386.2M986.7,1379.5 L983.0,1376.8M978.6,1351.3 L981.7,1363.9 L983.0,1376.8M977.8,1380.4 L983.0,1376.8M764.5,1529.1 L768.8,1518.0 L769.9,1506.1M833.5,1566.8 L824.4,1560.0 L812.7,1558.1 L802.0,1554.1 L794.0,1545.5 L784.9,1538.6 L775.5,1532.4 L764.5,1529.1M867.4,1524.9 L857.1,1519.5 L849.2,1511.5 L841.9,1502.7 L834.3,1494.4 L827.0,1485.6 L815.2,1482.1 L808.1,1473.1M808.1,1473.1 L797.9,1480.7 L790.6,1491.4 L778.9,1497.2 L769.9,1506.1M651.7,2072.0 L654.0,2064.9 L658.1,2058.8M658.1,2058.8 L669.4,2051.7 L682.1,2047.7M726.2,1994.8 L715.6,1992.0 L705.0,1989.0M685.9,2041.2 L688.5,2031.7 L692.7,2022.8M702.5,1995.9 L705.0,1989.0M485.8,1761.5 L494.3,1753.5 L505.0,1748.4 L513.4,1740.2M539.8,1842.7 L544.5,1840.7M513.4,1740.2 L527.5,1739.5 L540.1,1746.8 L553.8,1748.5M579.8,1785.5 L572.4,1776.9 L563.5,1769.3 L560.9,1757.3 L553.8,1748.5M472.2,1934.1 L483.5,1942.5 L493.8,1952.2M521.8,1874.1 L523.2,1887.2 L531.0,1898.5 L530.2,1912.1 L535.4,1924.1M535.4,1924.1 L526.8,1933.7 L513.4,1936.4 L503.8,1944.6 L493.8,1952.2M503.2,2046.7 L509.4,2037.3 L515.2,2027.7 L518.2,2016.7 L523.0,2006.6M523.0,2006.6 L513.8,2000.1 L510.1,1988.2 L499.7,1982.9 L491.9,1975.0M491.9,1975.0 L492.3,1963.6 L493.8,1952.2M316.8,1122.0 L320.1,1131.2 L320.5,1141.0M425.4,1074.2 L413.1,1074.9 L401.6,1079.2 L389.8,1082.6 L377.8,1084.5M379.7,1138.7 L375.6,1137.0M377.8,1084.5 L377.1,1097.7 L372.9,1110.6 L379.9,1124.0 L375.6,1137.0M331.0,1163.2 L332.2,1151.1M375.6,1137.0 L364.6,1140.1 L353.2,1142.0 L343.7,1149.6 L332.2,1151.1M320.5,1141.0 L326.9,1145.4 L332.2,1151.1M405.6,797.3 L410.2,810.0 L418.1,821.1 L423.8,833.3 L429.1,845.6M429.1,845.6 L423.2,857.9 L410.0,864.2 L401.9,874.6 L395.2,886.3M315.4,918.3 L327.1,924.6 L339.7,928.8 L349.4,938.9 L362.4,942.3M362.4,942.3 L368.3,930.3 L378.4,922.2 L389.5,914.8 L396.9,904.3M395.2,886.3 L397.0,895.2 L396.9,904.3M362.7,959.4 L353.8,968.6 L343.1,975.4 L331.7,981.2 L321.8,989.1M310.5,1080.6 L319.9,1069.4 L334.8,1064.7 L343.9,1053.1M324.7,1023.2 L329.1,1034.4 L335.8,1044.2 L343.9,1053.1M421.5,1021.8 L410.5,1014.9 L401.6,1005.4M421.5,1021.8 L433.5,1020.1 L445.2,1017.3 L456.7,1013.5 L467.3,1006.9 L479.5,1005.7M479.5,1005.7 L477.5,992.9 L474.7,980.2 L467.3,968.8 L465.8,955.8M401.6,1005.4 L401.3,1003.3M452.1,947.1 L458.6,952.1 L465.8,955.8M434.1,1062.6 L428.9,1049.3 L427.7,1034.8 L421.5,1021.8M520.9,947.6 L520.7,960.4 L524.5,972.3 L530.4,983.7 L532.2,996.1M480.1,1006.1 L493.3,1005.6 L505.9,1001.8 L518.4,998.0 L531.5,996.7M520.9,947.6 L510.2,951.0 L498.6,949.2 L487.6,950.6 L477.3,956.8 L465.8,955.8M362.7,959.4 L370.5,968.0 L378.7,976.4 L386.1,985.5 L394.1,994.0 L401.3,1003.3M446.5,931.0 L437.0,924.8 L426.2,921.2 L415.4,917.3 L406.5,910.1 L396.9,904.3M446.5,931.0 L449.0,939.2 L452.1,947.1M715.7,722.5 L710.9,734.5 L710.2,747.1 L711.7,760.1 L710.4,772.6 L706.4,784.8M632.3,745.2 L639.1,756.8 L643.6,769.6 L650.5,781.2M706.4,784.8 L704.4,785.7M704.4,785.7 L690.9,785.4 L677.3,785.0 L664.2,780.1 L650.5,781.2M567.1,809.0 L564.5,803.2M567.1,809.0 L579.5,811.5 L589.9,819.6 L602.5,821.3M602.5,821.3 L612.1,815.2 L621.9,809.6 L634.2,808.9 L642.9,801.0M521.6,904.6 L510.3,902.2 L498.9,900.8 L487.3,900.5 L476.3,897.0M527.5,859.3 L514.7,855.5 L506.4,843.9 L494.0,839.5 L482.4,833.7M476.3,897.0 L476.1,883.8 L468.3,872.6 L462.9,860.7 L463.8,847.2M482.4,833.7 L472.5,839.6 L463.8,847.2M535.2,923.0 L529.7,912.8 L521.6,904.6M520.9,947.6 L527.9,935.2 L535.2,923.0M553.1,846.7 L539.7,851.8 L527.5,859.3M495.7,786.2 L493.3,798.4 L485.6,809.0 L489.1,822.8 L482.4,833.7M534.2,1222.9 L545.9,1214.3 L556.4,1204.3 L568.5,1196.2M530.3,1163.8 L541.2,1171.3 L554.7,1174.3 L564.6,1183.7M510.6,1175.3 L520.2,1169.2 L530.3,1163.8M564.6,1183.7 L568.5,1196.2M573.8,1246.7 L560.8,1244.6 L547.6,1245.4M585.7,1228.3 L578.8,1214.4 L574.0,1199.6M568.5,1196.2 L574.0,1199.6M1125.5,1189.1 L1119.3,1179.7 L1113.9,1169.7M1113.9,1169.7 L1118.9,1158.2 L1121.3,1145.8 L1130.3,1135.9 L1132.6,1123.4M1468.1,390.6 L1475.2,391.5 L1482.3,392.8M1707.1,626.7 L1720.3,622.3 L1733.5,617.7M1707.1,626.7 L1697.8,618.7M1697.8,618.7 L1686.2,617.2 L1674.9,621.7 L1663.4,620.5M1465.4,391.4 L1459.4,398.5 L1452.7,404.9M1400.1,452.0 L1406.4,444.6M1400.1,452.0 L1396.4,452.6M1396.4,452.6 L1392.4,445.6M1427.4,708.4 L1436.8,702.2M1413.0,653.9 L1423.0,661.2 L1432.8,668.8 L1441.4,677.8M1391.0,675.6 L1403.0,665.8 L1413.0,653.9M1401.0,701.7 L1394.5,689.2 L1391.0,675.6M1427.0,712.3 L1427.4,708.4M1436.8,702.2 L1446.3,706.0M1706.1,251.1 L1693.0,250.8 L1681.2,244.0 L1668.4,242.1 L1655.4,241.3M1652.2,236.1 L1655.4,241.3M1780.1,404.0 L1773.0,402.1M1780.1,404.0 L1787.0,393.3 L1796.1,384.6 L1804.8,375.4 L1812.8,365.6M1811.4,357.4 L1799.4,353.8 L1786.5,352.7 L1776.0,344.5 L1763.8,341.7M1773.0,402.1 L1763.8,393.1 L1762.0,379.3 L1752.9,370.2M1758.9,312.7 L1756.1,322.9M1763.8,341.7 L1759.6,332.4 L1756.1,322.9M1548.2,333.4 L1561.5,335.9M1539.9,392.3 L1527.9,381.5 L1514.0,373.0M1561.5,335.9 L1567.5,349.4 L1565.4,364.5 L1570.3,378.3M1907.0,272.5 L1895.4,272.9 L1883.8,270.1 L1872.2,273.4 L1860.6,273.2M1907.0,272.5 L1909.8,285.3 L1914.9,297.4M1914.9,297.4 L1903.4,308.3 L1895.9,322.2M1866.9,322.3 L1881.4,321.8 L1895.9,322.2M1914.9,258.7 L1911.4,265.9 L1907.0,272.5M1945.7,304.2 L1930.3,300.8 L1914.9,297.4M1914.8,347.2 L1907.0,333.5 L1895.9,322.2M1860.0,328.9 L1866.9,322.3M466.6,1285.4 L470.4,1297.5 L479.1,1307.4 L485.2,1318.5 L487.9,1331.1M474.0,1368.2 L480.9,1356.7 L484.6,1344.0 L487.9,1331.1M535.0,1290.8 L535.8,1306.1 L535.1,1321.4M487.9,1331.1 L500.4,1332.2 L510.7,1322.2 L523.6,1325.4 L535.1,1321.4M568.6,1466.9 L567.5,1476.4 L563.8,1485.3M596.1,1470.1 L582.6,1466.7 L568.6,1466.9M596.1,1470.1 L598.5,1476.0M601.5,1483.6 L602.6,1486.5M602.6,1486.5 L592.9,1494.4 L582.3,1500.8M420.4,1435.2 L430.7,1432.6M437.0,1475.8 L435.9,1461.3 L431.7,1447.2 L430.7,1432.6M429.5,1403.7 L430.0,1418.0 L431.0,1432.2M495.9,1404.6 L496.6,1394.5 L496.3,1384.4M474.0,1368.2 L484.8,1376.9 L496.3,1384.4M431.0,1432.2 L444.8,1431.6 L458.5,1434.2 L472.3,1434.6M583.2,1157.4 L576.0,1172.0 L564.6,1183.7M580.8,1148.7 L571.5,1139.2 L559.5,1133.4M559.5,1133.4 L546.7,1138.6 L535.0,1145.9M484.2,1131.1 L494.7,1125.8 L506.7,1124.3 L516.7,1117.6M535.0,1145.9 L528.3,1136.9 L524.6,1125.9 L516.7,1117.6M425.5,1639.7 L436.5,1640.3 L447.4,1642.5M443.0,1604.8 L439.7,1601.2M443.0,1604.8 L442.3,1617.4 L447.9,1629.1 L447.8,1641.6M438.5,1695.6 L449.0,1685.3 L457.5,1673.1M447.4,1642.5 L450.8,1658.4 L457.5,1673.1M513.4,1740.2 L509.4,1729.5 L505.0,1718.8 L503.1,1707.5 L502.4,1695.7 L497.4,1685.3M457.5,1673.1 L470.9,1677.0 L483.9,1681.9 L497.4,1685.3M813.1,1447.3 L810.5,1453.9M810.5,1453.9 L797.4,1451.2 L784.1,1452.2 L770.9,1450.7M769.4,1450.6 L756.6,1449.6M759.7,1440.1 L756.6,1449.6M814.5,1444.8 L813.1,1447.3M808.1,1473.1 L810.3,1463.6 L810.5,1453.9M744.7,1465.9 L746.2,1473.2 L747.0,1480.7M769.9,1506.1 L760.1,1499.5 L755.2,1488.7 L747.0,1480.7M751.8,1451.6 L756.6,1449.6M544.5,1840.7 L553.9,1847.1 L561.3,1856.3 L572.1,1860.8 L580.5,1868.6 L592.1,1871.9 L600.2,1880.0M640.4,1827.7 L642.1,1838.4 L642.6,1849.2M642.6,1849.2 L631.6,1856.3 L623.0,1866.8 L612.5,1874.5 L600.2,1880.0M559.2,1936.2 L563.6,1948.1 L568.5,1959.9 L568.8,1972.8 L568.5,1985.9 L574.1,1997.4M626.8,1924.8 L625.9,1938.4 L625.6,1951.9 L630.9,1965.1 L631.0,1978.6M617.0,1994.2 L624.5,1986.8 L631.0,1978.6M617.0,1994.2 L603.4,1997.4 L589.3,1996.2 L575.6,1998.3M575.6,1998.3 L574.1,1997.4M535.4,1924.1 L546.8,1931.2 L559.2,1936.2M523.0,2006.6 L536.3,2007.0 L547.9,1998.4 L561.2,1999.1 L574.1,1997.4M705.0,1989.0 L699.7,1980.9 L695.8,1972.0M575.8,2030.9 L574.2,2014.6 L575.6,1998.3M673.0,1304.5 L677.2,1305.5M673.0,1304.5 L665.8,1269.8M677.2,1305.5 L689.3,1279.2M689.3,1279.2 L671.8,1268.1M671.8,1268.1 L665.8,1269.8M689.3,1279.2 L695.2,1278.8M677.2,1305.5 L682.4,1308.8M695.2,1278.8 L703.7,1295.4M682.4,1308.8 L692.0,1300.5 L703.7,1295.4M611.1,1165.2 L597.8,1159.0 L583.2,1157.4M574.0,1199.6 L585.7,1194.3 L598.5,1193.9 L610.6,1190.5M585.7,1228.3 L597.1,1226.5 L607.9,1231.5 L619.2,1231.0M610.6,1190.5 L619.7,1199.4 L627.9,1209.0M587.8,1115.7 L600.0,1107.0M587.8,1115.7 L595.2,1131.5M610.2,1123.7 L604.5,1131.5M610.2,1123.7 L609.4,1111.6M595.2,1131.5 L604.5,1131.5M1113.9,1169.7 L1101.4,1169.0 L1088.9,1166.1 L1076.2,1169.5 L1063.7,1168.1 L1051.1,1167.6M1051.1,1167.6 L1048.7,1155.7 L1043.1,1145.2 L1033.4,1136.6 L1029.4,1125.3 L1023.3,1115.1 L1020.8,1103.1M1062.3,761.9 L1059.4,773.4 L1058.8,785.4 L1056.8,797.1M1062.3,761.9 L1050.4,759.2 L1042.3,748.8 L1031.8,743.2 L1019.9,740.3 L1009.3,735.0M1056.8,797.1 L1044.8,801.1 L1031.5,798.6 L1019.8,804.2M1019.8,804.2 L1011.8,797.9 L1004.8,790.6M999.8,786.0 L995.8,782.4M1009.3,735.0 L1005.4,746.7 L1001.7,758.5 L1001.6,771.3 L995.8,782.4M983.8,835.1 L995.2,839.2 L1006.5,843.4M977.1,808.4 L981.5,821.5 L983.8,835.1M977.1,808.4 L979.9,797.0 L985.0,786.4M985.0,786.4 L995.8,782.4M1034.4,680.8 L1043.6,687.2 L1054.3,690.7 L1064.4,695.5 L1073.6,701.9 L1083.6,706.8M1099.8,654.4 L1104.6,659.8M1099.8,654.4 L1088.5,657.4 L1077.3,652.9 L1066.1,650.5 L1054.8,657.5 L1043.6,654.0 L1032.4,654.2M1032.4,654.2 L1030.3,655.4M1083.6,706.8 L1088.6,695.0 L1092.5,682.6 L1099.3,671.5 L1104.6,659.8M1083.6,706.8 L1088.9,715.1M1034.4,680.8 L1026.2,688.9 L1026.0,701.6 L1019.5,710.7 L1013.4,720.0 L1006.3,728.7M1062.3,761.9 L1070.3,757.5 L1077.6,752.0M1077.6,752.0 L1080.1,739.3 L1086.2,727.7 L1088.9,715.1M892.5,670.3 L900.0,678.3 L906.8,687.0M903.8,648.0 L899.1,659.6 L892.5,670.3M947.5,634.8 L959.5,642.0 L970.8,650.1M906.8,687.0 L918.4,685.1 L929.7,689.6 L941.2,689.3 L952.8,688.3M1030.3,655.4 L1019.0,646.0 L1005.8,639.4M970.8,650.1 L981.8,644.4 L993.6,641.3 L1005.8,639.4M1006.3,728.7 L994.5,724.2 L981.8,724.0 L969.6,721.7M952.8,688.3 L958.5,699.4 L965.1,710.0 L969.6,721.7M1400.2,754.2 L1395.5,757.1M1395.5,757.1 L1395.3,760.8M1351.9,784.9 L1352.5,790.4M1167.1,778.5 L1173.8,772.3 L1180.9,766.6M1179.3,814.7 L1175.9,802.4 L1168.7,791.4 L1167.1,778.5M1179.3,814.7 L1190.4,821.0M1210.7,784.8 L1206.2,798.1 L1196.6,808.6 L1190.4,821.0M1316.6,737.5 L1320.5,747.8 L1325.7,757.6 L1330.0,767.8M1277.1,742.8 L1293.4,740.0 L1308.8,734.1M1277.1,742.8 L1282.3,754.3 L1283.8,767.0 L1290.1,778.1M1330.0,767.8 L1318.6,776.1 L1306.6,783.4M1290.1,778.1 L1298.6,779.8 L1306.6,783.4M1325.7,885.9 L1313.6,888.3M1312.6,889.6 L1313.6,888.3M1050.0,962.3 L1048.0,969.2 L1047.9,976.4M1050.0,962.3 L1057.6,953.8 L1066.1,946.0 L1074.9,938.5 L1078.7,926.6 L1087.4,919.1M1058.8,983.2 L1047.9,976.4M1096.4,922.1 L1087.4,919.1M959.4,894.1 L963.6,907.6 L969.1,920.6 L975.2,933.5M975.2,933.5 L985.9,940.0M985.9,940.0 L995.3,932.4 L1004.4,924.4 L1015.4,919.1M963.3,887.7 L977.1,885.6 L990.7,882.3M990.7,882.3 L995.9,892.2 L1002.7,901.0 L1011.7,908.2 L1015.4,919.1M1411.7,640.8 L1426.2,635.3 L1439.1,626.9M1458.2,663.8 L1450.3,671.4 L1441.4,677.8M1458.2,663.8 L1457.0,650.1 L1457.2,636.3M1457.2,636.3 L1448.0,631.9 L1439.1,626.9M784.2,594.6 L773.0,592.5 L761.8,589.9 L750.4,590.1 L739.1,589.6 L727.6,591.6 L716.4,589.3M795.4,583.0 L795.6,571.2 L793.2,559.8 L789.7,548.5 L784.4,537.6 L786.6,525.4M716.4,589.3 L708.8,579.9M708.8,579.9 L714.2,569.0 L721.1,559.1 L728.6,549.5 L734.1,538.7 L736.4,526.1 L744.5,516.9 L751.5,507.0M751.5,507.0 L755.8,506.0M839.9,654.4 L827.9,653.0 L815.9,652.1 L804.0,655.4 L792.0,654.9M792.0,654.9 L794.3,642.4 L787.2,631.0 L786.5,618.9 L788.1,606.4 L784.2,594.6M826.2,584.2 L810.8,584.6 L795.4,583.0M848.0,624.4 L843.5,639.3 L839.9,654.4M718.0,650.5 L729.0,652.7 L740.3,652.8 L750.4,659.0 L761.7,659.5 L773.2,658.6 L783.8,662.6M718.0,650.5 L714.1,638.4 L715.0,626.1 L718.1,613.8 L715.5,601.6 L716.4,589.3M792.0,654.9 L783.8,662.6M718.0,650.5 L709.9,659.2M731.1,496.1 L741.3,501.6 L751.5,507.0M1012.6,554.0 L1015.6,559.7M756.5,504.4 L755.8,506.0M786.6,525.4 L793.4,524.0M839.9,654.4 L848.1,662.0 L856.1,669.8M892.5,670.3 L880.3,670.9 L868.2,670.4 L856.1,669.8M1580.1,604.6 L1589.2,598.3 L1598.2,591.9M1642.3,603.6 L1639.2,596.0M1598.2,591.9 L1611.8,594.5 L1625.6,594.4 L1639.2,596.0M1697.8,618.7 L1695.2,606.0 L1691.9,593.4 L1691.0,580.4M1691.0,580.4 L1679.2,576.2 L1667.4,571.9 L1656.8,565.1M1639.2,596.0 L1643.9,585.0 L1652.7,576.4 L1656.8,565.1M1678.6,491.6 L1679.5,478.3 L1676.9,465.3 L1676.9,452.1 L1675.9,439.0M1675.5,438.4 L1662.8,438.1 L1652.1,447.1 L1639.2,445.6 L1627.2,448.1M1631.7,483.5 L1627.1,471.2 L1622.3,458.9M1622.3,458.9 L1627.2,448.1M1598.2,591.9 L1602.2,580.9 L1601.0,569.1 L1604.3,558.0 L1605.6,546.6 L1608.3,535.4M1580.1,604.6 L1574.3,602.8M1556.6,539.5 L1569.6,538.9 L1582.4,537.7 L1595.5,538.8 L1608.3,535.4M1576.1,467.3 L1573.0,478.4M1631.7,483.5 L1624.7,494.3 L1616.4,504.2 L1610.9,515.9M1610.9,515.9 L1602.5,505.4 L1594.2,494.9 L1582.3,487.9 L1573.0,478.4M1650.7,544.2 L1636.9,543.4 L1625.4,535.0 L1612.1,532.4M1656.8,565.1 L1655.0,554.3 L1650.7,544.2M1400.1,452.0 L1412.0,459.4 L1424.3,466.5 L1433.7,477.2M1448.1,431.5 L1454.9,443.1 L1463.1,453.9M1433.7,477.2 L1442.9,468.7 L1453.2,461.5 L1463.1,453.9M1347.0,521.1 L1341.4,524.3M1335.1,552.0 L1339.3,538.4 L1341.4,524.3M1380.0,539.5 L1382.1,546.5 L1382.4,553.7M1380.0,539.5 L1368.1,535.0 L1359.2,525.1 L1347.0,521.1M1397.1,508.2 L1393.6,519.8 L1385.0,528.7 L1380.0,539.5M1390.7,501.3 L1378.9,499.9 L1367.0,499.5 L1355.5,496.0M1706.4,272.5 L1694.6,283.4 L1686.3,297.1M1711.0,333.2 L1702.6,321.2 L1695.7,308.3 L1686.3,297.1M1608.4,329.6 L1598.5,322.9 L1588.3,316.8M1608.4,329.6 L1619.1,322.6 L1632.8,322.8 L1643.5,316.0 L1654.9,310.7M1614.3,276.0 L1629.5,278.2 L1644.5,281.9M1614.3,276.0 L1604.4,285.9 L1594.8,295.9 L1587.9,308.2M1587.9,308.2 L1588.3,316.8M1644.5,281.9 L1650.7,292.8 L1659.2,302.0M1603.1,251.9 L1608.0,264.3 L1614.3,276.0M1655.4,241.3 L1650.5,254.4 L1650.4,268.9 L1644.5,281.9M1563.8,281.6 L1572.4,290.0 L1581.2,298.1 L1587.9,308.2M1561.5,335.9 L1575.3,326.9 L1588.3,316.8M1686.3,297.1 L1672.5,298.0 L1659.2,302.0M1570.3,378.3 L1578.5,380.9 L1586.1,384.9M1608.4,329.6 L1613.2,343.2 L1615.5,357.4M1586.1,384.9 L1593.9,373.6 L1604.7,365.6 L1615.5,357.4M1576.1,467.3 L1570.4,454.9 L1565.9,442.0M1565.9,442.0 L1573.2,433.2 L1579.6,423.7 L1588.9,417.0 L1597.7,409.8M1627.2,448.1 L1619.9,438.0 L1618.1,425.3 L1612.0,414.6M1612.0,414.6 L1605.1,411.4 L1597.7,409.8M504.5,1382.6 L496.3,1384.4M481.2,1592.6 L490.6,1588.2M481.2,1592.6 L482.2,1607.8 L478.4,1622.6M506.7,1598.0 L503.1,1609.6 L500.0,1621.2M500.0,1621.2 L489.3,1622.9 L478.4,1622.6M447.8,1641.6 L457.7,1634.6 L469.6,1631.2 L478.4,1622.6M535.4,1604.9 L528.1,1614.1 L524.4,1625.2 L519.2,1635.6M524.4,1589.6 L530.9,1596.5 L535.4,1604.9M524.4,1589.6 L515.9,1594.6 L506.7,1598.0M519.2,1635.6 L523.3,1648.7 L528.8,1661.2M497.4,1685.3 L507.5,1676.8 L518.3,1669.2 L528.8,1661.2M675.6,1506.9 L666.4,1520.1 L657.3,1533.4M675.6,1506.9 L689.0,1508.4 L701.6,1513.3M688.0,1562.8 L679.1,1555.8 L668.8,1551.3 L658.9,1545.9M657.3,1533.4 L658.9,1545.9M670.5,1474.6 L670.4,1488.6 L672.5,1502.5M672.5,1502.5 L675.6,1506.9M698.3,1465.9 L701.3,1467.7M709.7,1483.6 L706.4,1475.2 L701.3,1467.7M709.7,1483.6 L706.7,1498.7 L701.6,1513.3M764.5,1529.1 L761.7,1531.1M747.0,1480.7 L734.6,1480.9 L722.2,1483.2 L709.7,1483.6M691.1,1569.1 L688.0,1562.8M744.0,1564.9 L731.0,1568.5 L717.5,1565.9 L704.2,1566.1 L691.1,1569.1M761.7,1531.1 L757.3,1543.1 L750.8,1554.1 L744.0,1564.9M691.1,1569.1 L689.4,1573.5M658.9,1545.9 L646.0,1551.4 L634.8,1559.9M643.0,1583.4 L638.5,1571.8 L634.8,1559.9M643.0,1583.4 L648.3,1586.5M689.4,1573.5 L675.3,1576.4 L662.3,1583.0 L648.3,1586.5M558.4,1543.9 L568.0,1552.4 L575.9,1562.6M591.5,1557.7 L583.8,1560.2 L575.9,1562.6M558.4,1543.9 L565.0,1537.2 L571.1,1530.1M593.7,1540.2 L583.2,1533.3 L571.1,1530.1M563.8,1485.3 L556.3,1489.5M551.5,1512.5 L552.7,1500.8 L556.3,1489.5M551.5,1512.5 L560.7,1516.7 L569.8,1520.9M582.3,1500.8 L582.4,1506.0M582.4,1506.0 L576.1,1513.4 L569.8,1520.9M652.5,1453.3 L648.1,1450.8M628.1,1463.0 L632.6,1458.8M567.2,1463.9 L554.5,1457.6 L540.7,1453.7 L528.8,1445.6M528.8,1445.6 L524.2,1451.6M556.3,1489.5 L541.2,1486.3 L526.0,1483.6M568.6,1466.9 L567.2,1463.9M524.2,1451.6 L526.1,1467.6 L526.0,1483.6M495.9,1404.6 L506.9,1412.4 L510.5,1426.3 L517.8,1437.2 L528.9,1445.0M472.3,1434.6 L478.1,1447.4 L487.3,1457.9M524.2,1451.6 L511.7,1452.6 L499.9,1457.6 L487.3,1457.9M437.0,1475.8 L450.4,1476.7 L463.2,1480.7 L476.2,1483.1M487.3,1457.9 L483.8,1471.4 L476.2,1483.1M580.8,1148.7 L588.5,1140.5 L595.2,1131.5M559.5,1133.4 L561.7,1120.7 L565.1,1108.3M599.7,1099.2 L600.0,1107.0M599.7,1099.2 L588.0,1092.9 L575.5,1088.6M565.3,1108.1 L568.3,1098.7 L572.3,1089.7M575.5,1088.6 L572.3,1089.7M482.2,1494.4 L476.5,1506.1 L468.4,1516.4 L462.2,1527.8M462.2,1527.8 L451.3,1524.0 L439.4,1525.8 L428.4,1522.5M806.7,1640.6 L796.2,1646.7M793.0,1411.9 L791.4,1402.1M793.0,1411.9 L783.5,1414.8 L773.7,1415.2M814.5,1444.8 L809.3,1432.6 L799.2,1423.5 L793.0,1411.9M785.6,1390.5 L773.1,1386.3M791.7,1398.6 L785.6,1390.5M791.7,1398.6 L791.4,1402.1M876.5,1393.6 L863.4,1395.9 L850.7,1389.4 L837.6,1391.5M888.5,1402.2 L882.3,1398.2 L876.5,1393.6M837.6,1391.5 L833.5,1395.5M876.5,1393.6 L871.5,1386.1 L867.9,1377.9M838.0,1382.3 L848.7,1371.2M848.7,1371.2 L858.4,1374.1 L867.9,1377.9M717.1,1857.7 L725.1,1867.3 L733.5,1876.5 L742.4,1885.2 L748.8,1896.2 L758.2,1904.5 L766.1,1914.2M717.1,1857.7 L703.8,1863.6 L691.2,1871.0 L677.9,1877.1M673.4,1906.8 L677.5,1892.2 L677.9,1877.1M673.4,1906.8 L679.5,1917.0 L687.2,1926.1 L698.4,1932.4 L702.5,1944.3M792.7,1866.5 L782.9,1876.7 L782.4,1892.0 L772.8,1902.3 L766.1,1914.2M726.8,1828.1 L741.1,1830.6 L755.1,1828.6 L769.2,1826.5M726.8,1828.1 L720.2,1842.3 L717.1,1857.7M718.1,1811.6 L707.2,1808.3 L697.3,1802.4 L686.9,1797.9 L675.6,1795.7M640.4,1827.7 L649.7,1820.3 L657.6,1811.3 L665.5,1802.4 L675.6,1795.7M642.6,1849.2 L652.1,1855.4 L658.5,1865.4 L667.7,1871.8 L677.9,1877.1M626.8,1924.8 L639.2,1922.1 L650.7,1917.3 L662.3,1912.6 L673.4,1906.8M695.8,1972.0 L701.2,1958.6 L702.5,1944.3M788.7,1937.6 L778.1,1925.9 L766.2,1915.6M687.0,915.2 L699.5,908.7 L705.9,895.3 L717.7,887.9M665.5,898.1 L677.2,905.4 L687.0,915.2M686.5,858.2 L697.6,867.4 L706.9,878.4 L717.7,887.9M704.4,785.7 L700.3,797.2 L697.5,809.0 L698.6,821.7 L695.6,833.5 L690.3,844.7M642.9,801.0 L649.2,814.1 L656.3,826.9 L661.1,840.7M661.1,840.7 L673.1,845.2 L685.3,848.9M690.3,844.7 L685.3,848.9M632.0,923.3 L620.7,915.5 L607.5,912.4 L595.0,907.3 L582.7,901.8M632.0,923.3 L642.6,912.5 L649.7,899.2M586.3,885.2 L585.9,893.8 L582.7,901.8M586.3,885.2 L597.4,879.7 L604.5,868.7 L616.0,863.8M616.0,863.8 L627.9,866.2M634.0,941.3 L633.0,932.3 L632.0,923.3M562.3,922.0 L570.2,930.4 L573.8,941.6 L581.4,950.2 L586.6,960.4M586.6,960.4 L600.8,960.2 L614.9,961.3M562.3,922.0 L573.7,913.0 L582.7,901.8M687.0,915.2 L687.5,917.4M663.2,953.4 L668.5,939.5 L679.7,929.6 L687.5,917.4M665.5,898.1 L657.5,898.0 L649.7,899.2M663.2,953.4 L649.2,945.9 L634.0,941.3M661.1,840.7 L650.7,850.2 L637.7,856.2 L627.9,866.2M686.5,858.2 L685.3,848.9M553.1,846.7 L563.4,854.6 L570.0,865.7 L575.4,877.8 L586.3,885.2M881.0,846.8 L877.1,854.9M877.1,854.9 L874.8,853.6M834.8,834.1 L830.8,828.9M836.5,818.0 L831.8,821.2M931.1,930.0 L936.2,915.3 L942.3,901.0M931.1,930.0 L919.8,930.9 L908.6,930.2M908.6,930.2 L905.1,918.1 L901.5,906.1 L900.4,893.5M907.0,888.5 L900.4,893.5M959.4,894.1 L950.8,897.4 L942.3,901.0M941.2,944.4 L935.1,937.9 L931.1,930.0M704.0,1353.6 L695.2,1358.2M695.2,1358.2 L700.2,1369.1M677.3,1347.4 L681.3,1341.7 L685.5,1336.1M707.5,1341.5 L696.3,1339.4 L685.5,1336.1M688.8,1321.7 L696.5,1321.9 L704.1,1320.8M704.1,1320.8 L712.7,1332.8M611.1,1165.2 L612.5,1160.1M604.5,1131.5 L610.8,1138.8M612.5,1160.1 L612.9,1149.4 L610.8,1138.8M599.7,1099.2 L606.5,1090.2M609.4,1111.6 L618.3,1106.9M606.5,1090.2 L617.9,1096.8M617.9,1096.8 L618.3,1106.9M1051.1,1167.6 L1038.4,1175.4 L1031.3,1188.7 L1020.8,1198.7M1009.3,1234.9 L1015.1,1223.5 L1016.0,1210.5 L1020.8,1198.7M1050.0,962.3 L1039.4,953.3 L1035.1,939.6 L1027.1,928.8 L1017.3,919.3M1047.9,976.4 L1035.8,980.0 L1024.5,985.3 L1014.5,992.8 L1004.3,1000.0 L993.1,1005.3M985.9,940.0 L986.3,953.0 L991.2,965.5 L991.6,978.5 L989.1,991.8 L992.3,1004.5M941.2,944.4 L939.4,955.1M992.3,1004.5 L979.8,997.8 L966.0,994.4M1088.9,715.1 L1097.1,714.9M1104.6,659.8 L1116.6,661.4M1116.6,661.4 L1122.0,671.5 L1131.4,678.8 L1136.7,689.1M1139.0,737.1 L1127.8,732.9 L1119.5,723.3 L1107.6,720.3 L1097.1,714.9M1139.0,737.1 L1144.7,732.6 L1150.8,728.9M1150.8,728.9 L1149.8,716.1 L1145.9,703.8 L1145.3,691.0M1136.7,689.1 L1145.3,691.0M1107.6,767.0 L1107.5,778.3 L1111.1,789.1 L1112.6,800.2M1112.6,800.2 L1121.5,803.6 L1129.9,808.2M1129.9,808.2 L1135.0,796.4 L1145.0,788.1 L1152.3,777.8M1077.6,752.0 L1088.3,755.6 L1097.3,762.6 L1107.6,767.0M1071.6,817.1 L1081.9,813.1 L1092.7,810.3 L1102.5,804.8 L1112.6,800.2M1167.1,778.5 L1159.6,779.4 L1152.3,777.8M1180.9,766.6 L1182.0,758.0 L1184.3,749.7M1184.3,749.7 L1178.5,741.2 L1172.7,732.6M1150.8,728.9 L1161.7,731.4 L1172.7,732.6M1329.3,658.8 L1317.1,655.3 L1304.3,657.3 L1291.9,655.4M1329.3,658.8 L1331.4,661.4M1287.9,657.8 L1291.9,655.4M1297.9,693.7 L1303.4,696.2M1297.9,693.7 L1296.1,681.3 L1288.6,670.5 L1287.9,657.8M1303.4,696.2 L1315.8,694.3 L1327.6,690.0M1331.4,661.4 L1330.3,675.8 L1327.6,690.0M1224.2,740.2 L1233.8,749.8M1224.2,740.2 L1221.9,730.4 L1222.2,720.4M1244.2,751.9 L1233.8,749.8M1271.4,740.3 L1269.5,729.2 L1271.5,717.7 L1267.7,706.8M1267.7,706.8 L1257.3,701.0 L1248.4,693.1M1214.3,783.9 L1210.7,784.8M1214.3,783.9 L1221.5,773.0 L1228.3,761.7 L1233.8,749.8M1308.8,734.1 L1307.8,721.3 L1303.8,709.0 L1303.4,696.2M1297.9,693.7 L1282.3,699.2 L1267.7,706.8M1277.1,742.8 L1271.4,740.3M1244.9,677.6 L1246.7,685.3 L1248.4,693.1M1244.9,677.6 L1256.4,665.8 L1267.8,654.1M1267.8,654.1 L1277.9,655.5 L1287.9,657.8M1208.7,675.1 L1204.1,689.9 L1197.4,703.9M1208.7,675.1 L1199.2,667.7 L1186.7,666.6 L1177.0,659.7M1189.2,705.9 L1197.4,703.9M1177.0,659.7 L1167.9,663.7M1222.2,720.4 L1210.3,711.5 L1197.4,703.9M1244.9,677.6 L1234.3,673.1 L1223.6,668.8M1223.6,668.8 L1216.1,671.9 L1208.7,675.1M1142.5,640.5 L1134.0,647.6 L1123.6,652.4 L1116.6,661.4M1142.5,640.5 L1150.8,648.4 L1159.5,656.0 L1167.9,663.7M1172.7,732.6 L1181.0,719.2 L1189.2,705.9M856.1,669.8 L852.5,682.3 L849.4,695.0 L847.2,707.9 L842.8,720.2M906.8,687.0 L907.6,700.4 L900.9,712.7 L901.5,726.1M873.5,737.2 L887.4,731.3 L901.5,726.1M969.6,721.7 L959.2,728.0 L953.3,739.1 L944.6,747.2 L934.8,754.2M819.2,730.3 L807.0,723.9 L793.1,721.8 L780.7,715.9M809.0,765.0 L795.2,770.5 L783.3,779.5M766.2,726.1 L773.2,720.7 L780.7,715.9M766.2,726.1 L767.9,737.8 L769.1,749.5 L766.6,761.4 L767.5,773.1M767.5,773.1 L775.5,776.2 L783.3,779.5M842.8,720.2 L832.7,725.3 L822.5,730.1M822.5,730.1 L819.2,730.3M715.7,722.5 L728.5,720.7 L740.8,727.0 L753.6,725.6 L766.2,726.1M706.4,784.8 L717.8,788.8 L730.2,790.1 L740.4,797.3M740.4,797.3 L751.2,791.2 L757.9,780.5 L767.5,773.1M983.8,835.1 L973.1,838.8 L961.8,840.5 L951.0,843.9M952.6,814.7 L950.6,829.2 L951.0,843.9M985.0,786.4 L981.7,785.5M974.4,783.6 L965.4,780.7 L956.2,778.7M956.2,778.7 L954.1,790.3M963.3,887.7 L959.9,873.7 L951.4,862.0 L945.6,849.1M990.7,882.3 L999.9,874.6 L1004.6,863.5 L1011.8,854.3M1006.5,843.4 L1011.8,854.3M951.0,843.9 L945.6,849.1M1279.2,489.8 L1281.8,479.0 L1281.5,467.8 L1283.7,457.0M1279.2,489.8 L1263.0,489.5 L1246.8,491.3M1246.8,491.3 L1245.1,481.5 L1242.8,471.8M1244.2,751.9 L1246.2,763.3 L1253.6,773.0 L1256.2,784.2 L1258.2,795.6M1290.1,778.1 L1280.5,784.6 L1270.2,790.1 L1260.6,796.7M1258.2,795.6 L1260.6,796.7M1309.3,810.5 L1298.7,818.1 L1285.2,819.6 L1274.5,826.9M1309.3,810.5 L1320.6,816.8 L1329.7,825.8M1326.5,840.8 L1313.4,845.7 L1299.6,849.0 L1287.7,856.8M1274.5,826.9 L1282.3,840.9 L1286.4,856.4M1272.8,825.9 L1268.8,810.4 L1260.6,796.7M1272.8,825.9 L1274.5,826.9M1306.6,783.4 L1308.8,796.9 L1309.3,810.5M1338.2,769.6 L1330.0,767.8M1338.2,769.6 L1344.4,777.8 L1351.9,784.9M1351.3,796.3 L1343.9,806.0 L1337.0,816.0 L1329.7,825.8M1333.5,870.0 L1330.3,856.6M1328.9,850.9 L1326.5,840.8M1313.6,888.3 L1304.7,878.0 L1294.0,869.2 L1287.7,856.8M1271.0,870.1 L1279.1,863.7 L1286.4,856.4M1079.0,903.5 L1083.1,891.0 L1089.1,879.4 L1099.0,869.8 L1101.5,856.5M1079.0,903.5 L1065.1,896.8 L1050.6,891.8M1037.0,861.4 L1046.9,854.9 L1054.9,846.3 L1063.0,837.7 L1072.3,830.5M1072.3,830.5 L1081.7,839.6 L1090.2,849.6 L1101.5,856.5M1087.4,919.1 L1083.2,911.2 L1079.0,903.5M1017.3,919.3 L1028.8,910.6 L1039.8,901.4 L1050.6,891.8M1011.8,854.3 L1024.6,857.3 L1037.0,861.4M1071.6,817.1 L1072.3,830.5M1848.2,398.1 L1839.5,406.3 L1833.5,416.8 L1827.1,426.8 L1818.8,435.4M1895.1,435.5 L1886.3,446.8 L1873.2,454.1 L1865.8,466.8M1818.8,435.4 L1829.5,439.7 L1837.2,448.6 L1846.3,455.3 L1855.1,462.4 L1865.8,466.8M1865.3,476.9 L1865.8,466.8M1574.3,602.8 L1563.8,607.4 L1554.3,614.3 L1542.2,615.3 L1532.3,621.1M1516.8,569.6 L1514.1,579.4 L1510.5,588.9M1532.3,621.1 L1527.9,608.4 L1515.4,601.2 L1510.5,588.9M1433.7,477.2 L1433.4,493.3 L1431.3,509.3M1397.1,508.2 L1408.5,506.1 L1419.8,509.0 L1431.1,509.5M1396.4,452.6 L1392.0,456.3M1390.7,501.3 L1393.9,490.1 L1392.4,478.8 L1388.0,467.4 L1392.0,456.3M1556.6,539.5 L1550.4,526.1 L1542.5,513.7M1610.9,515.9 L1612.2,524.1 L1612.1,532.4M1573.0,478.4 L1564.4,485.4 L1554.2,490.2 L1546.5,498.4M1546.5,498.4 L1545.5,506.3 L1542.5,513.7M1488.9,540.4 L1490.7,531.9 L1490.5,523.2M1516.8,569.6 L1508.5,558.9 L1496.1,552.2 L1488.9,540.4M1542.5,513.7 L1529.6,516.4 L1516.0,515.5 L1503.6,521.5 L1490.5,523.2M1431.1,509.5 L1428.3,522.4 L1429.6,535.4 L1430.5,548.4M1382.4,553.7 L1389.2,558.5 L1394.9,564.7M1394.9,564.7 L1406.7,559.2 L1420.0,556.8 L1430.5,548.4M1431.3,509.3 L1444.1,511.0 L1456.9,512.1 L1470.0,508.5 L1482.6,512.3M1490.5,523.2 L1482.6,512.3M1439.1,626.9 L1435.7,612.6 L1435.7,597.9M1479.1,598.0 L1469.0,587.1 L1456.6,578.8M1435.7,597.9 L1447.0,589.3 L1456.6,578.8M1510.5,588.9 L1494.7,593.3 L1479.1,598.0M1331.5,447.2 L1327.7,458.5 L1323.2,469.5M1349.6,484.1 L1338.0,478.2 L1325.2,476.0M1323.2,469.5 L1325.2,476.0M1355.5,496.0 L1349.6,484.1M1311.4,491.8 L1313.2,504.6 L1317.7,516.6M1311.4,491.8 L1318.9,484.4 L1325.2,476.0M1317.7,516.6 L1329.8,519.9 L1341.4,524.3M1279.2,489.8 L1283.2,492.9M1283.2,492.9 L1297.3,493.4 L1311.4,491.8M1703.3,350.7 L1690.2,354.2 L1676.6,353.9 L1663.3,355.7M1703.3,350.7 L1708.7,366.1 L1717.2,380.1M1717.2,380.1 L1714.2,387.5M1714.2,387.5 L1704.5,394.2 L1692.8,395.9 L1681.1,397.6 L1671.7,405.0M1663.3,355.7 L1656.9,363.9 L1652.0,373.0M1711.0,333.2 L1707.3,342.0 L1703.3,350.7M1654.9,310.7 L1656.4,322.1 L1658.1,333.4 L1665.0,343.8 L1663.3,355.7M1752.9,370.2 L1741.3,374.7 L1729.3,377.5 L1717.2,380.1M1773.0,402.1 L1763.7,408.6 L1752.1,411.2 L1744.7,420.8 L1734.3,425.5M1734.3,425.5 L1728.1,412.6 L1719.7,400.8 L1714.2,387.5M1734.3,425.5 L1732.6,432.7 L1730.5,439.8M1730.5,439.8 L1716.9,435.8 L1703.2,440.4 L1689.5,441.9 L1675.9,439.0M1675.5,438.4 L1673.3,427.4 L1675.6,415.8 L1671.7,405.0M1586.1,384.9 L1593.8,396.5 L1597.7,409.8M1615.5,357.4 L1628.3,361.1 L1639.6,368.5 L1652.0,373.0M504.5,1382.6 L516.0,1386.2 L526.2,1392.6 L537.4,1396.9 L548.9,1400.3M564.7,1371.6 L557.9,1386.6 L548.9,1400.3M528.9,1445.0 L536.9,1434.6 L547.2,1426.1 L554.1,1414.8M652.6,1266.3 L649.4,1259.3 L646.4,1252.2M652.6,1266.3 L643.3,1278.4 L635.1,1291.3M646.4,1252.2 L634.4,1247.8 L623.3,1241.4M635.1,1291.3 L623.1,1288.3 L612.4,1282.6 L602.0,1276.1M623.3,1241.4 L619.2,1231.0M573.8,1246.7 L579.2,1257.7 L584.8,1268.6 L590.2,1279.6M602.0,1276.1 L590.2,1279.6M535.0,1290.8 L548.4,1290.4 L561.2,1285.8 L574.4,1283.9 L587.7,1283.2M590.2,1279.6 L587.7,1283.2M596.1,1470.1 L601.7,1461.5M623.5,1461.3 L625.2,1461.4M628.1,1463.0 L625.2,1461.4M672.5,1502.5 L660.0,1500.5 L647.3,1500.6M564.9,1580.5 L566.5,1585.8M575.9,1562.6 L569.9,1571.3 L564.9,1580.5M591.5,1557.7 L597.7,1565.2 L605.7,1570.7M605.7,1570.7 L605.4,1574.3M591.7,1590.2 L599.0,1582.6 L605.4,1574.3M605.7,1570.7 L617.7,1563.3 L631.0,1558.9M631.0,1558.9 L634.8,1559.9M643.0,1583.4 L632.5,1590.1 L621.6,1596.4M635.6,1619.2 L642.2,1609.9 L651.3,1603.0M651.3,1603.0 L650.3,1594.7 L648.3,1586.5M621.3,1598.1 L621.6,1596.4M689.4,1573.5 L689.9,1580.8M689.9,1580.8 L682.4,1590.4 L676.0,1600.8 L667.6,1609.7M595.4,1538.6 L597.2,1528.7 L598.8,1518.8M595.4,1538.6 L608.2,1536.9 L621.0,1538.3M598.8,1518.8 L605.5,1514.9 L612.8,1512.2M612.8,1512.2 L620.2,1517.3 L626.2,1524.1M621.0,1538.3 L623.6,1531.2 L626.2,1524.1M593.7,1540.2 L595.4,1538.6M582.4,1506.0 L591.4,1511.4 L598.8,1518.8M631.0,1558.9 L626.7,1548.3 L621.0,1538.3M614.6,1494.9 L614.9,1503.7 L612.8,1512.2M668.5,1445.4 L666.3,1441.5M554.1,1414.8 L563.8,1418.3 L573.9,1419.9M582.0,1433.6 L578.1,1426.6 L573.9,1419.9M526.0,1483.6 L519.3,1493.7M482.2,1494.4 L491.5,1498.1 L501.1,1500.7M519.3,1493.7 L510.2,1497.3 L501.1,1500.7M519.3,1493.7 L530.5,1505.3 L538.6,1519.3M558.4,1543.9 L554.0,1544.3M554.0,1544.3 L544.0,1536.2 L536.8,1525.5M538.6,1519.3 L536.8,1525.5M501.7,1566.5 L514.4,1572.5 L525.7,1580.9M515.4,1538.7 L522.6,1548.1 L529.3,1557.7 L537.9,1565.9M525.7,1580.9 L531.0,1573.8 L537.9,1568.2M537.9,1568.2 L537.9,1565.9M524.4,1589.6 L525.7,1580.9M494.4,1568.2 L492.6,1578.3 L490.6,1588.2M494.4,1568.2 L501.7,1566.5M506.5,1532.9 L506.3,1516.4 L501.1,1500.7M536.8,1525.5 L526.3,1532.5 L515.4,1538.7M544.2,1606.0 L553.5,1597.2 L564.8,1591.1M566.5,1585.8 L564.8,1591.1M564.9,1580.5 L551.7,1573.7 L537.9,1568.2M525.4,1046.6 L535.8,1052.7 L545.4,1059.9M525.4,1046.6 L512.6,1048.6 L500.3,1052.4 L488.6,1057.8M481.1,1069.2 L488.6,1057.8M481.1,1069.2 L489.7,1078.8 L500.5,1085.7 L511.0,1093.0 L520.7,1101.3M520.7,1101.3 L527.6,1098.0M480.1,1006.1 L479.4,1019.5 L488.0,1031.3 L483.2,1045.4 L488.6,1057.8M531.5,996.7 L529.4,1009.1 L524.5,1021.2 L530.0,1034.5 L525.4,1046.6M552.4,1059.6 L560.0,1069.0 L565.7,1079.6 L572.3,1089.7M552.4,1059.6 L545.4,1059.9M565.1,1108.3 L552.3,1105.6 L540.9,1098.5 L527.6,1098.0M532.2,996.1 L544.8,997.7 L557.6,998.6M573.0,1042.8 L566.9,1032.5 L567.5,1019.9 L560.1,1010.1 L557.6,998.6M586.6,960.4 L580.0,970.2 L576.2,981.5 L570.1,991.5M570.1,991.5 L564.4,996.0 L557.6,998.6M573.0,1042.8 L586.5,1044.8M586.5,1044.8 L591.2,1050.3 L596.8,1054.9M575.5,1088.6 L585.9,1079.3 L597.3,1071.2M606.5,1090.2 L605.2,1078.8M605.2,1078.8 L597.3,1071.2M725.4,1076.7 L728.5,1067.1M725.4,1076.7 L736.3,1085.0M737.9,1065.8 L731.3,1065.1M728.5,1067.1 L731.3,1065.1M737.9,1065.8 L747.0,1078.5M746.3,1080.7 L747.0,1078.5M746.3,1080.7 L742.5,1084.2M742.5,1084.2 L736.3,1085.0M757.9,1064.6 L769.5,1064.1M769.5,1064.1 L773.5,1076.4M755.0,1073.6 L770.4,1081.6M755.0,1073.6 L757.9,1064.6M773.5,1076.4 L770.4,1081.6M755.0,1073.6 L747.0,1078.5M757.9,1091.1 L770.5,1082.6M757.9,1091.1 L746.3,1080.7M794.0,1171.4 L789.1,1164.5M792.4,1155.5 L789.1,1164.5M794.0,1171.4 L804.4,1171.6M792.4,1155.5 L805.4,1155.9M482.1,1539.8 L473.1,1534.4 L463.6,1529.9M482.1,1539.8 L484.0,1551.2 L485.3,1562.7M463.6,1529.9 L463.0,1541.6 L459.0,1552.7 L456.9,1564.1M485.3,1562.7 L474.5,1566.3 L464.0,1570.9M464.0,1570.9 L456.9,1564.1M462.2,1527.8 L463.6,1529.9M506.5,1532.9 L494.1,1535.6 L482.1,1539.8M494.4,1568.2 L485.3,1562.7M440.5,1564.6 L448.7,1563.9 L456.9,1564.1M744.0,1564.9 L747.2,1576.8 L750.1,1588.8M773.4,1604.4 L761.3,1597.3 L750.1,1588.8M701.3,1467.7 L712.5,1460.8 L724.1,1454.9M744.7,1465.9 L734.6,1461.1 L725.3,1454.9M869.1,1354.3 L864.4,1348.5 L859.0,1343.4M869.1,1354.3 L867.1,1358.4M867.1,1358.4 L858.3,1360.3 L849.3,1360.3M847.2,1348.8 L849.3,1360.3M848.7,1371.2 L847.3,1363.1M867.9,1377.9 L866.2,1368.2 L867.1,1358.4M787.0,1183.4 L794.0,1171.4M791.8,1188.0 L802.7,1187.3M787.0,1183.4 L791.8,1188.0M808.3,1175.5 L804.4,1171.6M808.3,1175.5 L808.3,1179.3M779.7,1147.3 L775.6,1137.2M779.7,1147.3 L772.7,1156.3M772.7,1156.3 L759.6,1156.8M759.6,1156.8 L759.6,1141.0M775.6,1137.2 L771.9,1134.7M771.9,1134.7 L766.8,1134.5M778.0,1166.7 L789.1,1164.5M787.7,1149.3 L779.7,1147.3M778.0,1166.7 L772.7,1156.3M790.4,1124.2 L781.9,1116.6M777.5,1117.0 L781.9,1116.6M777.5,1117.0 L771.9,1134.7M790.7,1129.4 L775.6,1137.2M898.4,1392.1 L899.5,1380.4 L899.5,1368.6 L895.6,1356.8 L899.1,1345.1M895.9,1344.3 L899.1,1345.1M978.6,1351.3 L967.6,1346.9 L956.1,1347.9 L944.6,1348.9 L933.0,1350.8 L921.8,1348.3 L910.4,1348.4 L899.2,1345.0M635.4,1621.4 L631.0,1625.1M635.6,1619.2 L635.4,1621.4M654.2,1739.4 L645.7,1748.9 L635.7,1756.6M626.5,1754.9 L627.4,1742.9 L625.1,1731.0 L624.0,1719.2 L623.8,1707.2M626.5,1754.9 L635.7,1756.6M639.6,1703.5 L645.1,1705.2M675.6,1795.7 L674.1,1787.3 L671.3,1779.2M579.8,1785.5 L590.6,1781.8 L597.7,1772.2 L607.1,1766.0 L618.8,1763.6 L626.5,1754.9M671.3,1779.2 L659.5,1771.7 L647.1,1764.8 L635.7,1756.6M646.5,1688.3 L643.3,1696.0 L639.6,1703.5M651.7,1703.3 L645.1,1705.2M717.7,887.9 L725.8,888.4M731.7,926.8 L728.9,914.1 L727.5,901.2 L725.8,888.4M731.7,926.8 L730.1,931.4M811.6,815.7 L805.8,824.8 L799.3,833.4M793.7,799.0 L789.4,814.9 L780.9,828.9M780.9,828.9 L790.0,831.4 L799.3,833.4M831.8,821.2 L822.3,812.8M830.8,828.9 L819.1,835.2 L806.6,839.3M799.3,833.4 L806.6,839.3M832.6,848.5 L823.5,856.0 L813.7,862.5M806.6,839.3 L810.8,850.7 L813.7,862.5M663.2,953.4 L667.9,961.2M699.2,960.3 L690.2,961.6 L681.6,964.8M667.9,961.2 L675.0,962.1 L681.6,964.8M870.2,881.9 L872.6,868.4 L877.6,855.7M813.7,862.5 L813.1,868.4M883.0,895.1 L876.8,888.3 L870.2,881.9M879.2,901.3 L867.4,906.0 L854.8,907.3M843.8,893.9 L847.1,902.2M843.8,893.9 L844.6,891.9M854.8,907.3 L847.1,902.2M704.1,1320.8 L715.3,1312.2M715.3,1312.2 L726.2,1324.9M682.4,1308.8 L686.4,1314.8 L688.8,1321.7M703.7,1295.4 L708.5,1296.1M715.3,1312.2 L715.9,1309.4M671.9,1216.1 L664.3,1216.9 L656.7,1217.9M671.9,1216.1 L678.3,1226.4M656.7,1217.9 L656.7,1228.0 L659.9,1237.6M678.3,1226.4 L670.7,1237.5M670.7,1237.5 L659.9,1237.6M627.9,1209.0 L631.5,1207.8M631.5,1207.8 L641.4,1211.1 L651.7,1213.0M646.4,1252.2 L653.0,1244.8 L659.9,1237.6M626.7,1123.9 L629.0,1118.1M610.2,1123.7 L626.7,1123.9M618.3,1106.9 L626.1,1110.7M629.0,1118.1 L626.1,1110.7M908.5,930.3 L910.4,959.1M939.4,955.1 L929.4,959.5 L919.2,963.3M993.1,1005.9 L983.2,1014.6 L976.9,1026.7 L968.3,1036.7 L957.4,1044.5M977.3,1109.1 L972.3,1098.9 L964.3,1091.0 L957.3,1082.3M1020.8,1103.1 L1006.6,1107.4 L991.8,1107.1 L977.3,1109.1M957.4,1044.5 L954.3,1057.1 L958.7,1069.7 L957.3,1082.3M1099.8,654.4 L1098.6,638.9 L1099.5,623.3M1099.5,623.3 L1112.7,624.6 L1125.4,621.2 L1138.1,618.2M1142.5,640.5 L1143.1,631.6 L1142.4,622.7M1142.4,622.7 L1138.1,618.2M1177.0,659.7 L1181.0,648.9 L1185.5,638.4 L1191.8,628.8M1223.6,668.8 L1223.4,657.4 L1220.1,646.6 L1217.9,635.6M1142.4,622.7 L1156.7,622.1 L1169.3,614.4 L1183.5,613.4M1191.8,628.8 L1187.2,621.3 L1183.5,613.4M1329.3,658.8 L1331.9,647.4 L1329.4,635.7 L1331.9,624.4M1357.8,693.5 L1347.0,696.1 L1336.0,696.4M1357.8,693.5 L1366.6,705.9 L1377.2,716.8M1336.0,696.4 L1336.6,709.2 L1337.5,722.0M1337.5,722.0 L1348.6,725.2 L1359.1,729.8 L1369.5,734.6M1377.2,716.8 L1373.0,725.1 L1370.9,734.3M1331.4,661.4 L1342.8,658.5 L1354.3,661.8 L1365.7,660.5M1370.2,668.4 L1365.7,660.5M1370.2,668.4 L1362.5,680.2 L1357.8,693.5M1391.0,675.6 L1380.8,671.5 L1370.2,668.4M1401.0,701.7 L1389.9,710.5 L1377.2,716.8M1316.6,737.5 L1326.9,729.5 L1337.5,722.0M1395.5,757.1 L1386.9,750.0 L1379.2,741.8 L1370.9,734.3M849.6,794.9 L854.1,785.2 L857.5,775.1M857.5,775.1 L862.2,773.6M862.2,773.6 L866.9,786.2 L874.1,797.5M822.5,730.1 L827.2,743.9 L833.7,756.8 L841.0,769.3M841.0,769.3 L849.5,771.5 L857.5,775.1M873.5,737.2 L874.4,750.7 L872.7,764.1M862.2,773.6 L867.8,769.2 L872.7,764.1M956.2,778.7 L949.4,771.7 L941.2,766.3M934.8,754.2 L934.7,756.8M877.6,855.7 L892.7,857.3 L907.4,860.4M896.4,834.4 L903.5,846.7 L907.4,860.4M907.0,888.5 L908.2,875.5 L911.2,862.9M945.6,849.1 L935.8,847.9M935.8,847.9 L923.6,855.5 L911.2,862.9M883.0,895.1 L891.6,893.4 L900.4,893.5M813.8,787.9 L816.4,775.0M816.4,775.0 L818.9,775.2M823.7,775.6 L832.4,776.3M793.7,799.0 L792.8,792.4M792.8,792.4 L803.6,791.6 L813.8,787.9M841.0,769.3 L832.4,776.3M783.3,779.5 L788.8,785.4 L792.8,792.4M809.0,765.0 L816.4,775.0M1190.1,526.1 L1180.5,517.5 L1172.7,507.3M1190.1,526.1 L1201.4,524.7 L1212.7,524.1M1203.7,488.7 L1191.8,493.8 L1178.9,495.1M1203.7,488.7 L1214.4,495.5 L1223.3,504.6M1212.7,524.1 L1218.4,514.6 L1223.3,504.6M1167.1,465.3 L1172.9,480.3 L1178.9,495.1M1241.3,499.1 L1246.8,491.3M1241.3,499.1 L1232.1,501.4 L1223.3,504.6M1163.2,860.4 L1151.6,852.6 L1147.5,838.1 L1136.1,830.1M1136.1,830.1 L1125.1,837.1 L1116.3,846.8 L1107.3,856.0M1101.5,856.5 L1107.3,856.0M1224.2,826.1 L1229.3,833.2M1224.2,826.1 L1212.9,825.7 L1202.1,821.9 L1190.8,821.6M1190.8,821.6 L1187.7,834.0 L1186.7,846.6M1186.7,846.6 L1194.6,852.8 L1201.1,860.5M1272.8,825.9 L1260.6,830.3 L1250.4,839.0 L1237.3,841.2M1163.2,860.4 L1175.4,854.2 L1186.7,846.6M1762.9,459.8 L1769.5,470.9 L1769.4,484.4 L1775.5,495.7M1762.9,459.8 L1771.8,452.1 L1783.4,448.8 L1792.7,442.0 L1801.8,434.8M1801.8,434.8 L1811.0,437.6M1811.0,437.6 L1809.8,450.8 L1811.6,464.0 L1810.7,477.2 L1808.7,490.4 L1809.9,503.6M1808.9,505.2 L1809.9,503.6M1780.1,404.0 L1784.8,416.0 L1795.9,423.5 L1801.8,434.8M1865.3,476.9 L1853.9,481.7 L1841.5,484.2 L1831.7,492.1 L1821.2,498.7 L1809.9,503.6M1744.3,514.6 L1736.1,505.9 L1726.9,498.2 L1719.2,489.0M1741.4,542.1 L1735.7,546.4 L1731.7,552.4M1719.2,489.0 L1706.1,488.5 L1694.0,493.9 L1681.3,495.3M1724.5,552.8 L1713.2,548.3 L1705.1,539.7 L1697.6,530.1 L1688.1,523.3 L1677.4,518.0M1724.5,552.8 L1731.7,552.4M1677.4,518.0 L1677.9,506.4 L1681.3,495.3M1775.5,495.7 L1765.1,502.0 L1754.1,507.3 L1744.3,514.6M1678.6,491.6 L1681.3,495.3M1650.7,544.2 L1660.1,535.9 L1666.6,524.8 L1677.4,518.0M1691.0,580.4 L1702.7,572.0 L1712.7,561.3 L1724.5,552.8M1744.7,597.4 L1747.7,591.9M1747.7,591.9 L1744.1,578.0 L1735.8,566.1 L1731.7,552.4M1785.5,549.2 L1795.1,541.3 L1805.8,534.7 L1813.5,524.6M1825.0,533.0 L1819.0,529.2 L1813.5,524.6M1747.7,591.9 L1752.4,591.9M1741.4,542.1 L1752.0,546.4 L1763.4,545.9 L1774.9,544.8 L1785.5,549.2M1842.3,533.1 L1833.7,532.5 L1825.0,533.0M1808.9,505.2 L1811.6,514.8 L1813.5,524.6M1502.9,639.1 L1517.1,635.2 L1529.5,627.4M1502.9,639.1 L1498.9,650.3 L1497.4,662.2 L1494.5,673.7M1529.5,627.4 L1534.1,639.3 L1540.3,650.3M1500.8,684.6 L1494.5,673.7M1532.3,621.1 L1529.5,627.4M1458.2,663.8 L1470.3,666.9 L1482.7,669.3 L1494.5,673.7M1474.5,456.2 L1482.2,464.0 L1489.1,472.5M1474.5,456.2 L1482.5,445.4 L1486.9,432.3 L1496.1,422.3M1489.1,472.5 L1502.7,470.4 L1516.4,468.5M1516.4,468.5 L1525.6,457.0 L1529.8,442.8 L1537.7,430.6M1537.7,430.6 L1536.5,428.5M1463.1,453.9 L1474.5,456.2M1482.3,392.8 L1487.9,408.2 L1496.1,422.3M1565.9,442.0 L1552.5,434.6 L1537.7,430.6M1539.9,392.3 L1539.9,404.5 L1539.2,416.6 L1536.5,428.5M1408.6,594.6 L1402.5,586.8 L1395.4,580.1M1408.6,594.6 L1404.4,606.5 L1404.0,619.3 L1399.1,631.0M1395.4,580.1 L1386.2,589.1 L1375.0,595.4 L1364.8,603.1M1372.4,631.2 L1366.3,624.8 L1360.9,617.9M1360.9,617.9 L1363.8,610.7 L1364.8,603.1M1394.9,564.7 L1396.2,572.3 L1395.4,580.1M1435.7,597.9 L1422.3,594.8 L1408.6,594.6M1411.7,640.8 L1404.7,636.8 L1399.1,631.0M1344.7,573.1 L1350.3,583.8 L1357.3,593.7 L1364.8,603.1M1365.7,660.5 L1367.9,645.6 L1372.4,631.2M1335.4,621.0 L1331.9,624.4M1335.4,621.0 L1348.3,620.7 L1360.9,617.9M1344.7,573.1 L1333.0,581.6 L1321.4,590.0M1335.4,621.0 L1333.3,609.5 L1324.2,601.2 L1321.4,590.0M535.7,1322.2 L547.1,1321.6 L557.3,1327.2 L568.3,1328.8 L579.3,1329.9M564.7,1371.6 L572.8,1369.1M572.8,1369.1 L578.0,1356.6 L578.2,1343.2 L579.3,1329.9M597.6,1613.5 L601.1,1622.2 L605.3,1630.5M597.0,1613.2 L586.3,1613.1 L575.9,1615.5M605.3,1630.5 L602.4,1633.4M574.6,1637.9 L561.9,1633.7M575.9,1615.5 L568.0,1622.9 L562.1,1631.9M561.9,1633.7 L562.1,1631.9M591.7,1590.2 L593.0,1602.0 L597.0,1613.2M621.3,1598.1 L608.3,1604.1 L597.6,1613.5M544.2,1606.0 L552.7,1619.3 L562.1,1631.9M528.8,1661.2 L540.4,1661.5M540.4,1661.5 L549.6,1653.9 L554.1,1642.5 L561.9,1633.7M622.9,1706.6 L624.6,1691.2 L623.5,1675.7M622.9,1706.6 L608.0,1705.1 L593.4,1701.8M553.8,1748.5 L557.3,1737.9 L564.3,1729.1 L569.5,1719.3 L573.8,1709.2M689.9,1580.8 L695.3,1593.4 L701.5,1605.5M701.5,1605.5 L714.4,1610.6 L727.5,1614.8M684.6,1435.7 L686.9,1435.4M698.3,1465.9 L700.4,1455.5 L701.1,1444.9M596.8,1432.7 L589.3,1436.0M598.9,1448.8 L594.6,1442.0 L589.3,1436.0M582.0,1433.6 L589.3,1436.0M621.4,1077.4 L627.1,1071.3M627.1,1071.3 L638.5,1079.0M629.1,1091.6 L626.6,1091.0M629.1,1091.6 L639.1,1086.0M639.1,1086.0 L638.5,1079.0M596.8,1054.9 L606.8,1053.0 L616.8,1051.6M616.8,1051.6 L623.1,1055.7 L628.3,1061.2M605.2,1078.8 L613.3,1078.6 L621.4,1077.4M628.3,1061.2 L627.1,1071.3M617.9,1096.8 L626.6,1091.0M634.3,1102.1 L629.1,1091.6M645.5,1089.9 L639.1,1086.0M634.3,1102.1 L643.3,1103.2M639.7,1021.6 L629.1,1022.0 L618.7,1020.0M625.0,986.0 L640.0,988.3 L653.9,994.6M625.0,986.0 L618.4,999.8 L608.7,1011.6M654.4,1003.3 L655.5,998.0M618.7,1020.0 L608.8,1012.3M653.9,994.6 L655.5,998.0M667.9,961.2 L660.6,971.2 L657.5,983.1 L653.9,994.6M614.9,961.3 L620.8,973.3 L625.0,986.0M621.6,1042.4 L621.6,1031.0 L618.7,1020.0M586.5,1044.8 L594.3,1034.2 L602.9,1024.1 L608.8,1012.3M703.9,1073.1 L706.9,1069.9M720.0,1079.8 L717.6,1087.2M703.9,1073.1 L704.0,1086.9M717.6,1087.2 L704.0,1086.9M731.3,1065.1 L729.0,1053.1M729.0,1053.1 L741.9,1044.6M745.7,1057.6 L741.9,1044.6M757.9,1064.6 L755.2,1059.7M745.7,1057.6 L755.2,1059.7M755.2,1059.7 L760.4,1049.3M760.4,1049.3 L748.6,1039.6M748.6,1039.6 L742.4,1042.7M791.0,1102.7 L796.3,1103.8M790.4,1124.2 L799.4,1117.1M799.4,1117.1 L796.3,1103.8M764.0,1032.1 L763.7,1021.3M764.0,1032.1 L749.9,1037.4M763.7,1021.3 L750.9,1020.6M749.9,1037.4 L747.9,1023.3M750.9,1020.6 L747.9,1023.3M759.0,1005.2 L749.8,1009.9M759.0,1005.2 L767.2,1012.9M767.2,1012.9 L767.3,1017.5M767.3,1017.5 L763.7,1021.3M774.5,1057.3 L763.7,1048.6M774.5,1057.3 L779.1,1056.1M779.1,1056.1 L779.7,1037.4M770.0,1037.6 L779.7,1037.4M760.4,1049.3 L763.7,1048.6M769.5,1064.1 L774.5,1057.3M784.0,1058.4 L784.0,1073.0M773.5,1076.4 L784.0,1073.0M784.0,1058.4 L779.1,1056.1M748.6,1039.6 L749.9,1037.4M764.0,1032.1 L770.0,1037.6M780.1,1037.1 L779.0,1022.2M908.5,930.3 L900.5,932.7 L892.3,934.8M879.2,901.3 L879.0,909.6 L876.4,917.6M876.4,917.6 L884.6,925.7 L891.9,934.6M772.0,1100.9 L788.7,1100.1M772.0,1100.9 L772.7,1085.7M788.7,1100.1 L787.2,1089.6M770.5,1082.6 L772.7,1085.7M791.9,1082.8 L791.0,1077.1M791.9,1082.8 L787.2,1089.6M784.0,1073.0 L791.0,1077.1M728.7,1763.2 L734.9,1773.2M718.1,1811.6 L724.8,1799.3 L729.9,1786.2 L734.9,1773.2M695.2,1749.9 L696.7,1749.2M796.2,1646.7 L791.3,1646.8M773.4,1604.4 L768.7,1615.1 L764.7,1626.0M751.8,1451.6 L744.4,1439.9M730.9,1381.6 L729.0,1380.6M717.4,1390.3 L717.8,1392.5M800.7,1367.0 L804.8,1365.9M800.7,1367.0 L796.2,1380.2 L796.2,1394.1M815.5,1376.7 L815.1,1385.7M796.2,1394.1 L805.3,1389.2 L815.1,1385.7M791.7,1398.6 L796.2,1394.1M833.5,1395.5 L824.2,1390.8 L815.1,1385.7M847.3,1363.1 L836.3,1361.7M838.0,1382.3 L829.2,1368.9M815.5,1376.7 L827.0,1368.5M809.3,1359.4 L804.8,1365.9M809.3,1359.4 L821.1,1360.2M821.1,1360.2 L827.0,1368.5M829.2,1368.9 L827.0,1368.5M838.5,1337.5 L841.0,1345.9M838.5,1337.5 L830.7,1334.4M841.0,1345.9 L834.3,1352.5M834.3,1352.5 L825.6,1351.0M830.7,1334.4 L821.1,1338.3M825.6,1351.0 L819.9,1340.7M819.9,1340.7 L821.1,1338.3M847.2,1348.8 L841.0,1345.9M836.3,1361.7 L834.3,1352.5M821.1,1360.2 L825.6,1351.0M807.6,1346.3 L819.9,1340.7M809.3,1359.4 L807.6,1346.3M790.1,1199.3 L797.1,1204.4M791.8,1188.0 L790.1,1199.3M802.7,1187.3 L808.2,1198.6M797.1,1204.4 L808.2,1198.6M808.3,1179.3 L820.7,1187.3M820.7,1187.3 L819.1,1196.6M819.1,1196.6 L811.6,1200.0M808.2,1198.6 L811.6,1200.0M728.1,1289.5 L712.7,1291.9M728.1,1289.5 L726.7,1278.1M712.7,1291.9 L713.6,1275.7M943.2,1301.1 L950.3,1309.9 L957.2,1318.9 L965.7,1326.6 L974.2,1334.2 L979.7,1344.4M899.2,1345.0 L905.1,1332.8 L906.8,1319.4 L911.1,1306.7M919.7,1300.2 L911.1,1306.7M877.6,1327.0 L879.8,1314.8 L881.8,1302.6M877.6,1327.0 L886.0,1336.4 L895.9,1344.3M846.5,1317.4 L857.3,1314.7M846.5,1317.4 L847.1,1330.8M847.1,1330.8 L859.0,1336.3M859.0,1336.3 L868.2,1327.1M860.8,1307.1 L881.5,1302.3M860.8,1307.1 L857.3,1314.7M877.6,1327.0 L868.2,1327.1M859.0,1343.4 L859.0,1336.3M838.5,1337.5 L847.1,1330.8M857.8,1250.6 L860.1,1251.5M860.1,1251.5 L871.3,1250.2 L882.3,1247.6M882.3,1247.6 L885.3,1242.0M857.8,1250.6 L856.7,1237.7 L857.8,1224.9M858.7,1224.4 L868.3,1223.6 L877.8,1224.9M904.0,1197.5 L885.0,1210.3M887.6,1186.8 L903.2,1192.5M887.6,1186.8 L882.0,1205.2M882.0,1205.2 L885.0,1210.3M905.4,1220.2 L895.6,1216.2 L885.3,1213.3M905.4,1220.2 L908.4,1201.5M908.4,1201.5 L904.0,1197.5M776.8,1199.8 L768.9,1202.4M766.5,1211.3 L768.9,1202.4M782.3,1202.9 L782.2,1213.2M782.3,1202.9 L776.8,1199.8M776.0,1216.4 L782.2,1213.2M731.4,1323.9 L726.2,1324.9M731.4,1323.9 L737.8,1329.8M763.5,926.9 L762.8,933.4M730.1,931.4 L734.1,937.6M731.7,926.8 L742.2,920.8 L753.0,915.5M734.1,937.6 L748.4,935.2 L762.8,933.4M783.0,947.8 L769.3,942.7M791.1,940.3 L783.0,947.8M788.3,932.8 L791.1,940.3M788.3,932.8 L781.2,930.4M769.3,942.7 L769.1,940.9M718.1,963.7 L706.3,965.1M718.1,963.7 L728.6,975.8M706.3,965.1 L708.2,972.1 L708.6,979.4M708.6,979.4 L724.1,984.0M728.6,975.8 L724.1,984.0M690.3,844.7 L704.9,844.5 L719.4,842.4 L734.0,843.2M734.5,883.1 L734.3,869.8 L734.4,856.5 L734.0,843.2M740.4,797.3 L744.6,812.5 L751.2,826.8M734.0,843.2 L741.8,834.1 L751.2,826.8M754.0,964.3 L742.8,976.4M754.0,964.3 L744.6,955.6 L736.1,945.9M735.2,947.9 L736.1,945.9M735.2,947.9 L736.7,960.8 L738.1,973.7M738.1,973.7 L742.8,976.4M765.7,956.2 L765.3,949.6M755.6,964.3 L765.7,956.2M765.3,949.6 L736.1,945.9M755.6,964.3 L754.0,964.3M699.2,960.3 L706.3,965.1M718.1,963.7 L725.3,954.4 L735.2,947.9M734.1,937.6 L736.1,945.9M762.8,933.4 L769.1,940.9M765.3,949.6 L769.3,942.7M741.7,987.2 L743.4,977.7M741.7,987.2 L747.6,994.5M743.4,977.7 L757.3,981.8M757.3,981.8 L755.9,994.3M747.6,994.5 L755.9,994.3M763.6,978.0 L757.3,981.8M763.6,978.0 L773.9,992.6M759.0,997.1 L773.9,992.6M759.0,997.1 L755.9,994.3M749.8,1009.9 L741.3,1005.3M741.3,1005.3 L747.6,994.5M681.6,964.8 L686.2,974.8 L688.5,985.6M673.9,1000.9 L664.7,999.9 L655.5,998.0M684.0,997.9 L688.5,985.6M708.6,979.4 L705.1,986.5M684.0,997.9 L696.5,1005.5M705.1,986.5 L708.0,998.4M696.5,1005.5 L702.2,1005.5M708.0,998.4 L702.2,1005.5M724.1,984.0 L725.3,988.7M741.7,987.2 L731.5,992.1M731.5,992.1 L725.3,988.7M741.3,1005.3 L734.5,1006.8M731.5,992.1 L734.5,1006.8M708.0,998.4 L715.4,998.3M725.3,988.7 L715.4,998.3M715.9,1309.4 L729.6,1304.3M731.4,1323.9 L738.1,1314.1M729.6,1304.3 L738.1,1314.1M708.5,1296.1 L712.7,1291.9M728.1,1289.5 L733.4,1293.6M729.6,1304.3 L733.4,1293.6M731.3,1272.6 L741.7,1278.0M726.7,1278.1 L731.3,1272.6M741.7,1278.0 L740.2,1292.1M733.4,1293.6 L740.2,1292.1M746.8,1275.0 L759.4,1282.0M741.7,1278.0 L746.8,1275.0M759.5,1282.3 L744.8,1293.9M740.2,1292.1 L744.8,1293.9M705.1,1220.7 L707.2,1234.0M707.2,1234.0 L705.7,1236.0M687.4,1225.6 L692.5,1237.8M687.4,1225.6 L692.2,1218.5M692.5,1237.8 L705.7,1236.0M687.4,1225.6 L678.3,1226.4M692.5,1237.8 L684.6,1249.2M652.6,1266.3 L665.8,1269.8M671.8,1268.1 L677.7,1259.8 L685.1,1252.7M685.1,1252.7 L684.6,1249.2M631.5,1207.8 L636.9,1200.2 L641.5,1192.0M641.5,1192.0 L641.4,1181.5 L641.9,1171.0M634.7,1167.1 L641.9,1171.0M629.1,1144.7 L624.1,1135.7M629.1,1144.7 L639.7,1146.0M640.9,1145.2 L639.8,1133.1M624.1,1135.7 L627.9,1127.8M612.5,1160.1 L619.9,1151.4 L629.1,1144.7M634.7,1167.1 L639.7,1146.0M626.7,1123.9 L627.9,1127.8M905.4,1220.2 L911.0,1226.7M885.3,1242.0 L895.8,1239.3 L906.6,1239.4M877.8,1224.9 L885.3,1213.3M911.0,1226.7 L906.6,1239.4M943.2,1301.1 L944.0,1289.2 L946.8,1277.7 L952.9,1267.0 L954.2,1255.1M919.7,1300.2 L912.1,1286.6 L904.2,1273.2M904.2,1273.2 L909.8,1263.7 L916.8,1255.3M916.8,1255.3 L929.3,1254.5 L941.8,1257.7 L954.2,1255.1M1009.3,1234.9 L997.2,1234.7 L985.2,1236.7 L973.1,1237.5M973.1,1237.5 L970.5,1238.3M954.2,1255.1 L962.8,1247.1 L970.5,1238.3M907.5,1186.0 L903.2,1192.5M887.4,1186.2 L898.6,1170.8M908.4,1201.5 L916.7,1201.8M916.7,1201.8 L924.5,1209.9 L930.7,1219.3M906.6,1239.4 L912.4,1246.9 L916.8,1255.3M970.5,1238.3 L958.2,1234.2 L949.4,1223.8 L937.1,1219.5M930.7,1219.3 L937.1,1219.5M973.1,1237.5 L966.2,1227.4 L965.8,1214.7 L962.0,1203.3 L955.2,1193.1M978.6,1169.1 L975.4,1170.8M955.2,1193.1 L964.8,1181.5 L975.4,1170.8M1207.5,562.1 L1195.1,562.0 L1182.8,563.6M1220.2,541.4 L1215.2,552.5 L1207.5,562.1M1190.1,526.1 L1185.9,540.4 L1178.6,553.5M1182.8,563.6 L1178.6,553.5M1159.5,510.9 L1172.7,507.3M1159.5,510.9 L1153.8,525.1 L1149.2,539.6M1178.6,553.5 L1164.8,544.8 L1149.2,539.6M1267.8,654.1 L1261.3,639.6 L1257.2,624.3M1217.9,635.6 L1226.5,627.0 L1237.1,620.8M1257.2,624.3 L1247.0,623.2 L1237.1,620.8M1185.7,603.8 L1198.8,600.0 L1212.2,597.5 L1224.4,591.2M1237.1,620.8 L1230.5,606.1 L1224.4,591.2M1185.7,603.8 L1178.6,592.7 L1175.7,579.8M1226.6,584.8 L1224.4,591.2M891.7,792.3 L890.7,783.1 L890.9,773.8M890.9,773.8 L902.2,771.8 L913.3,768.6 L924.2,764.8M913.3,793.3 L918.6,779.0 L924.2,764.8M872.7,764.1 L882.1,768.4 L890.9,773.8M934.7,756.8 L924.2,764.8M929.6,838.1 L921.9,832.2 L913.9,826.7M935.8,847.9 L929.6,838.1M941.2,766.3 L937.6,781.0 L933.8,795.7M1159.5,510.9 L1146.5,502.1 L1133.0,493.8M1142.6,481.3 L1138.0,487.6 L1133.0,493.8M635.1,1291.3 L638.1,1301.8M609.1,1330.0 L619.9,1321.8 L630.0,1312.9 L638.1,1301.8M673.0,1304.5 L663.0,1307.9 L652.6,1310.4M670.1,1350.6 L677.3,1347.4M670.1,1350.6 L662.2,1347.9 L654.4,1345.3M652.6,1310.4 L645.3,1306.2 L638.1,1301.8M577.6,1416.3 L573.9,1419.9M577.6,1416.3 L584.2,1405.0 L589.9,1393.4M572.8,1369.1 L580.1,1372.3M605.4,1406.3 L607.4,1395.8M623.2,1402.4 L613.7,1393.2M607.4,1395.8 L613.7,1393.2M577.6,1416.3 L586.7,1415.8 L595.7,1414.1M589.9,1393.4 L598.5,1395.9 L607.4,1395.8M688.5,1074.8 L703.9,1073.1M704.0,1086.9 L702.7,1088.2M702.7,1088.2 L688.1,1087.6M688.5,1074.8 L687.0,1077.2M687.0,1077.2 L688.1,1087.6M668.9,1030.7 L681.7,1020.9M668.9,1030.7 L685.9,1040.6M685.9,1040.6 L694.1,1030.8M681.7,1020.9 L687.2,1021.4M687.2,1021.4 L693.8,1028.2M694.1,1030.8 L693.8,1028.2M668.5,1030.8 L661.8,1016.8 L654.4,1003.3M673.9,1000.9 L678.1,1010.8 L681.7,1020.9M696.5,1005.5 L687.2,1021.4M708.3,1017.4 L702.2,1005.5M708.2,1017.5 L693.8,1028.2M714.3,1034.7 L707.0,1039.3M714.3,1034.7 L708.2,1017.5M707.0,1039.3 L694.1,1030.8M685.9,1040.6 L686.4,1045.0M662.6,1038.0 L674.5,1052.2M668.5,1030.8 L662.6,1038.0M674.5,1052.2 L686.4,1045.0M713.6,1062.3 L707.0,1069.0M713.6,1062.3 L713.8,1055.3M707.0,1069.0 L694.1,1056.0M713.8,1055.3 L704.9,1047.0M704.9,1047.0 L694.6,1052.8M694.6,1052.8 L694.1,1056.0M728.5,1067.1 L713.6,1062.3M720.0,1079.8 L725.4,1076.7M723.5,1050.0 L729.0,1053.1M688.5,1074.8 L686.8,1063.5M686.8,1063.5 L694.1,1056.0M707.0,1039.3 L704.9,1047.0M721.7,1035.4 L723.5,1050.0M721.7,1035.4 L714.3,1034.7M686.8,1063.5 L673.5,1060.2M674.5,1052.2 L673.5,1060.2M687.3,1088.8 L688.8,1101.3M704.3,1100.0 L702.7,1088.2M704.3,1100.0 L701.9,1102.6M688.8,1101.3 L701.9,1102.6M771.0,960.7 L771.2,972.7M771.2,972.7 L779.5,975.1M779.5,975.1 L788.3,963.9M785.9,959.6 L787.9,961.2M788.3,963.9 L787.9,961.2M765.7,956.2 L771.0,960.7M783.0,947.8 L785.9,959.6M763.8,977.4 L771.2,972.7M795.9,942.1 L791.1,940.3M801.1,953.7 L795.9,942.1M801.1,953.7 L787.9,961.2M727.1,1032.4 L729.5,1032.5M727.1,1032.4 L723.2,1014.8M729.5,1032.5 L739.5,1022.1M739.5,1022.1 L733.3,1008.2M723.2,1014.8 L727.0,1009.8M721.7,1035.4 L727.1,1032.4M742.4,1042.7 L729.5,1032.5M747.9,1023.3 L739.5,1022.1M734.5,1006.8 L733.3,1008.2M715.4,998.3 L727.0,1009.8M805.4,1155.9 L811.0,1151.3M811.0,1151.3 L818.4,1154.3M808.3,1175.5 L822.6,1168.2M818.4,1154.3 L822.6,1168.2M795.9,1048.7 L807.7,1048.8M790.5,1057.0 L800.1,1066.7M800.1,1066.7 L809.5,1059.4M807.7,1048.8 L809.5,1059.4M784.0,1058.4 L790.5,1057.0M790.2,1037.3 L795.9,1048.7M780.1,1037.1 L790.2,1037.3M791.0,1077.1 L799.9,1069.0M799.9,1069.0 L800.1,1066.7M825.4,1169.7 L822.6,1168.2M820.7,1187.3 L828.8,1182.1M825.4,1169.7 L829.6,1178.3M829.6,1178.3 L828.8,1182.1M738.9,1104.8 L735.7,1117.1M719.4,1108.2 L730.2,1120.4M719.4,1108.2 L720.2,1100.8M730.2,1120.4 L735.7,1117.1M720.2,1100.8 L722.5,1098.1M726.0,1097.8 L722.5,1098.1M744.5,1102.5 L738.9,1104.8M742.5,1084.2 L744.5,1102.5M736.3,1085.0 L726.0,1097.8M704.3,1100.0 L720.2,1100.8M731.3,1272.6 L731.2,1268.9M731.2,1268.9 L743.0,1260.8M748.0,1262.8 L743.0,1260.8M882.3,1247.6 L885.8,1260.6M904.2,1273.2 L897.8,1272.5M857.8,1224.9 L853.9,1224.5M853.9,1224.5 L847.3,1228.5 L839.7,1230.1M836.4,1240.8 L839.7,1230.1M836.4,1240.8 L840.0,1246.1M857.8,1250.6 L840.0,1246.1M821.6,1294.0 L816.1,1288.1M821.6,1294.9 L812.1,1306.8M816.1,1288.1 L802.4,1291.5M811.8,1306.8 L803.0,1300.0M803.0,1300.0 L802.4,1291.5M838.9,1305.0 L846.0,1317.1M838.9,1305.0 L832.0,1305.6M832.0,1305.6 L824.4,1314.6M831.2,1323.0 L824.5,1316.8M824.5,1316.8 L824.4,1314.6M843.9,1295.6 L838.9,1305.0M843.9,1295.6 L855.1,1297.0M855.1,1297.0 L860.8,1307.1M832.9,1287.3 L842.8,1293.0M842.8,1293.0 L843.9,1295.6M832.9,1287.3 L821.6,1294.0M821.6,1294.9 L832.0,1305.6M812.1,1306.8 L824.4,1314.6M830.7,1334.4 L831.2,1323.0M814.0,1326.0 L824.5,1316.8M821.1,1338.3 L814.0,1326.0M858.7,1224.4 L860.2,1214.9 L860.0,1205.3M882.0,1205.2 L869.1,1199.4M860.0,1205.3 L869.1,1199.4M782.3,1202.9 L790.1,1199.3M797.1,1204.4 L797.3,1212.0M797.3,1212.0 L790.6,1217.7M776.0,1216.4 L774.7,1225.3M774.7,1225.3 L778.3,1229.2M778.3,1229.2 L791.7,1227.4M790.6,1217.7 L791.7,1227.4M776.5,1238.6 L787.2,1244.8M778.3,1229.2 L776.5,1238.6M793.3,1229.2 L791.7,1227.4M747.1,1360.3 L748.8,1361.4M785.6,1390.5 L783.9,1380.9 L782.3,1371.2M800.7,1367.0 L798.0,1366.1M798.0,1366.1 L782.3,1371.2M774.7,1368.2 L779.1,1368.6M782.3,1371.2 L779.1,1368.6M753.0,915.5 L755.7,908.0 L759.6,901.2M734.5,883.1 L748.0,885.3M759.6,901.2 L753.5,893.5 L748.0,885.3M748.0,885.3 L760.9,875.3 L774.2,866.0M792.8,1000.2 L795.4,984.1M792.8,1000.2 L784.0,1002.8M774.1,992.6 L779.5,1001.2M795.4,984.1 L782.3,982.3M779.5,1001.2 L784.0,1002.8M779.5,975.1 L782.3,982.3M767.2,1012.9 L779.5,1001.2M785.4,1017.9 L784.0,1002.8M785.4,1017.9 L779.0,1022.2M876.4,917.6 L864.9,926.5M854.8,907.3 L854.5,921.3M854.5,921.3 L864.9,926.5M873.4,942.7 L864.5,936.1M864.9,926.5 L864.5,936.1M685.1,1252.7 L696.2,1257.3M695.2,1278.8 L696.7,1277.1M696.2,1257.3 L696.7,1277.1M713.6,1275.7 L711.7,1273.2M696.7,1277.1 L711.7,1273.2M715.0,1250.3 L707.9,1246.7M707.9,1246.7 L697.6,1257.1M697.6,1257.1 L713.1,1265.1M715.9,1262.7 L713.1,1265.1M711.7,1273.2 L713.1,1265.1M725.0,1262.5 L715.9,1262.7M731.2,1268.9 L725.0,1262.5M641.9,1171.0 L649.3,1169.0M649.3,1169.0 L652.4,1153.3M652.4,1153.3 L645.1,1145.8M649.5,1123.7 L658.9,1136.0M639.8,1133.1 L649.5,1123.7M645.1,1145.8 L658.9,1136.0M629.0,1118.1 L644.1,1116.6M644.2,1104.2 L644.1,1116.6M649.5,1123.7 L649.5,1122.0M644.1,1116.6 L649.5,1122.0M867.7,1190.1 L869.1,1199.4M887.4,1186.2 L877.5,1180.5M867.7,1190.1 L873.7,1181.3M873.7,1181.3 L877.5,1180.5M877.5,1180.5 L883.3,1163.4M865.3,1161.6 L861.6,1170.1M861.6,1170.1 L873.7,1181.3M955.2,1193.1 L946.9,1187.8M935.3,1197.6 L946.9,1187.8M952.2,995.7 L942.5,1004.5 L929.3,1008.1 L919.5,1016.8M952.2,995.7 L940.1,993.2 L928.7,988.4M912.3,1006.6 L915.1,996.1M915.1,996.1 L928.7,988.4M966.0,994.4 L952.2,995.7M919.2,963.3 L918.8,976.0M928.7,988.4 L918.8,976.0M894.5,997.6 L896.6,1004.3M912.3,1006.6 L896.6,1004.3M915.1,996.1 L903.4,985.9M894.5,997.6 L896.5,990.8M918.8,976.0 L904.0,984.2M904.0,984.2 L903.4,985.9M901.4,1058.2 L898.9,1052.5M898.9,1052.5 L909.1,1044.8M922.5,1058.0 L913.6,1045.8M922.5,1058.0 L919.0,1065.4M909.1,1044.8 L913.6,1045.8M953.0,1044.2 L942.0,1046.8 L933.6,1055.5 L922.5,1058.0M953.0,1044.2 L940.8,1039.9 L929.4,1033.6M933.1,1083.3 L919.0,1065.4M957.3,1082.3 L945.3,1084.0 L933.1,1083.3M879.3,997.0 L875.0,1008.0M879.3,997.0 L873.7,987.1M872.4,987.3 L861.2,998.8M875.0,1008.0 L863.7,1005.2M863.7,1005.2 L861.2,998.8M892.4,1012.2 L896.6,1004.3M892.4,1012.2 L883.5,1015.4M894.5,997.6 L879.3,997.0M878.3,1013.5 L875.0,1008.0M896.5,990.8 L881.2,978.2M1175.7,579.8 L1164.0,582.2 L1152.1,580.8M1149.2,539.6 L1147.4,540.4M1147.4,540.4 L1142.7,551.0 L1137.6,561.4M1137.6,561.4 L1144.2,571.6 L1152.1,580.8M1138.1,618.2 L1137.9,609.5 L1136.0,601.0M1136.0,601.0 L1143.5,590.5 L1152.1,580.8M1015.6,559.7 L1026.9,557.3 L1038.4,556.7M1056.7,570.6 L1068.7,568.0 L1080.8,568.0 L1092.8,565.5 L1105.0,566.2M1056.7,570.6 L1058.4,584.8 L1062.9,598.1 L1069.5,610.7M1110.1,583.1 L1107.6,575.6 L1106.7,567.8M1105.0,566.2 L1106.7,567.8M1032.4,654.2 L1041.5,646.9 L1050.3,639.4 L1051.9,625.8 L1060.7,618.2 L1069.5,610.7M1038.4,556.7 L1048.5,562.4 L1056.7,570.6M1136.0,601.0 L1123.0,592.2 L1110.1,583.1M1137.6,561.4 L1122.5,566.3 L1106.7,567.8M1321.4,590.0 L1313.3,588.0M1289.0,607.2 L1300.4,596.7 L1313.3,588.0M1257.2,624.3 L1267.3,615.8 L1274.5,604.8M1289.0,607.2 L1281.6,606.7 L1274.5,604.8M1335.1,552.0 L1322.2,553.9 L1309.0,550.1 L1296.1,553.7M1313.3,588.0 L1306.2,577.2 L1304.0,564.0 L1296.1,553.7M647.0,1348.2 L635.3,1341.3 L622.1,1338.1 L610.2,1331.9M647.0,1348.2 L642.5,1361.0 L634.7,1372.1M610.2,1331.9 L610.0,1348.1 L607.5,1364.2M607.5,1364.2 L613.1,1370.0 L619.6,1374.7M634.7,1372.1 L627.2,1373.6 L619.6,1374.7M609.1,1330.0 L610.2,1331.9M654.4,1345.3 L647.0,1348.2M580.1,1372.3 L593.3,1366.4 L607.5,1364.2M613.7,1393.2 L618.2,1384.4 L619.6,1374.7M700.4,1407.8 L699.5,1405.9M711.7,1397.8 L709.1,1397.5M693.4,1420.7 L691.7,1419.6M669.0,1081.7 L670.8,1075.2M669.0,1081.7 L656.4,1087.9M652.3,1071.6 L667.2,1067.6M652.3,1071.6 L655.2,1087.2M667.2,1067.6 L670.8,1075.2M675.0,1090.5 L669.0,1081.7M675.0,1090.5 L687.3,1088.8M638.5,1079.0 L649.9,1070.3M649.9,1070.3 L652.3,1071.6M645.5,1089.9 L655.2,1087.2M668.4,1064.3 L673.5,1060.2M668.4,1064.3 L667.2,1067.6M668.4,1064.3 L654.9,1050.7M662.6,1038.0 L660.5,1038.9M639.7,1021.6 L643.0,1031.4M660.5,1038.9 L643.0,1031.4M621.6,1042.4 L638.0,1039.7M638.0,1039.7 L643.0,1031.4M692.2,1218.5 L688.4,1208.6M671.9,1216.1 L679.1,1206.2M679.1,1206.2 L688.4,1208.6M776.8,1199.8 L776.4,1187.5M768.9,1202.4 L761.4,1195.4M761.4,1195.4 L764.7,1187.0M764.7,1187.0 L776.4,1187.5M787.0,1183.4 L781.8,1182.7M778.0,1166.7 L776.1,1172.1M776.1,1172.1 L781.8,1182.7M978.6,1169.1 L973.1,1155.8 L966.0,1143.1 L962.3,1129.1M810.7,1149.8 L815.1,1136.3M810.7,1149.8 L797.1,1138.1M815.1,1136.3 L806.9,1129.3M806.9,1129.3 L796.9,1134.9M796.9,1134.9 L797.1,1138.1M787.7,1149.3 L797.1,1138.1M811.0,1151.3 L810.7,1149.8M799.4,1117.1 L808.0,1121.0M808.0,1121.0 L806.9,1129.3M790.7,1129.4 L796.9,1134.9M907.2,1075.8 L908.5,1084.9M907.2,1075.8 L897.6,1070.9M908.5,1084.9 L897.1,1087.5M897.1,1087.5 L890.6,1077.8M897.6,1070.9 L891.7,1073.6M918.2,1065.5 L907.2,1075.8M901.4,1058.2 L897.6,1070.9M882.5,1062.0 L881.8,1064.6M881.8,1064.6 L891.7,1073.6M898.2,1052.3 L882.5,1062.0M808.4,969.3 L823.2,980.1M808.4,969.3 L799.8,975.9M799.8,975.9 L798.9,981.3M811.2,988.9 L816.4,988.2M816.4,988.2 L823.2,980.1M810.9,959.6 L808.4,969.3M810.9,959.6 L825.6,959.9M824.0,979.8 L829.3,971.4M808.1,955.5 L801.1,953.7M788.3,963.9 L799.8,975.9M795.4,984.1 L798.9,981.3M801.5,1005.0 L792.8,1000.2M805.0,1003.6 L801.5,1005.0M805.0,1003.6 L811.2,988.9M822.3,999.1 L816.4,988.2M819.0,1007.2 L822.3,999.1M805.0,1003.6 L819.0,1007.2M835.7,989.8 L832.5,997.0M832.5,997.0 L822.3,999.1M825.5,1016.6 L822.4,1014.8M825.5,1016.6 L832.7,1016.3M832.5,997.0 L838.2,1008.1M838.2,1008.1 L832.7,1016.3M838.6,989.1 L835.7,989.8M838.6,989.1 L849.8,996.9M849.8,996.9 L844.8,1006.4M838.2,1008.1 L844.8,1006.4M849.8,996.9 L853.8,995.5M863.7,1005.2 L856.1,1015.7M844.8,1006.4 L856.1,1015.7M864.5,1026.6 L878.3,1013.5M856.2,1018.3 L856.1,1015.7M814.0,1326.0 L808.3,1324.2M804.8,1344.9 L801.2,1330.3M807.6,1346.3 L804.8,1344.9M801.2,1330.3 L808.3,1324.2M811.8,1306.8 L806.1,1316.7M761.4,1195.4 L752.6,1198.4M766.5,1211.3 L762.2,1213.4M762.2,1213.4 L749.5,1203.6M749.5,1203.6 L752.6,1198.4M731.3,1248.7 L724.8,1245.3M731.3,1248.7 L736.4,1248.1M736.4,1248.1 L738.7,1245.4M738.7,1245.4 L735.6,1227.6M724.8,1245.3 L721.0,1233.9M725.0,1228.7 L721.0,1233.9M725.0,1228.7 L734.5,1227.1M725.0,1262.5 L731.3,1248.7M715.0,1250.3 L724.8,1245.3M743.0,1260.8 L736.4,1248.1M707.2,1234.0 L721.0,1233.9M705.1,1220.7 L708.5,1217.2M718.7,1217.5 L708.5,1217.2M718.7,1217.5 L725.0,1228.7M724.6,1210.1 L718.7,1217.5M733.6,1212.3 L724.6,1210.1M733.6,1212.3 L734.5,1227.1M761.3,1236.4 L765.1,1227.3M761.3,1236.4 L754.4,1237.4M754.4,1237.4 L747.1,1225.6M765.1,1227.3 L760.1,1219.1M748.7,1222.7 L747.1,1225.6M768.6,1242.1 L761.3,1236.4M774.7,1225.3 L765.1,1227.3M735.6,1227.6 L747.1,1225.6M750.7,1242.5 L738.7,1245.4M750.7,1242.5 L754.4,1237.4M762.2,1213.4 L760.1,1219.1M744.2,1206.0 L749.5,1203.6M744.2,1206.0 L748.7,1222.7M859.6,1171.0 L844.7,1165.3M859.6,1171.0 L851.6,1185.5M844.7,1165.3 L841.7,1175.7M854.0,1152.6 L864.2,1158.6M854.0,1152.6 L843.6,1163.1M843.6,1163.1 L844.7,1165.3M864.2,1158.6 L865.3,1161.6M867.7,1190.1 L851.6,1185.5M843.6,1163.1 L839.2,1160.9M829.6,1178.3 L841.7,1175.7M768.0,1110.4 L768.7,1104.3M768.0,1110.4 L765.1,1112.4M765.1,1112.4 L753.2,1111.8M768.7,1104.3 L757.7,1096.3M757.7,1096.3 L747.1,1103.0M747.1,1103.0 L753.2,1111.8M777.5,1117.0 L768.0,1110.4M791.0,1102.7 L788.7,1100.1M772.0,1100.9 L768.7,1104.3M766.8,1134.5 L761.3,1126.5M761.3,1126.5 L765.1,1112.4M761.3,1126.5 L748.8,1124.5M748.0,1122.5 L753.2,1111.8M757.9,1091.1 L757.7,1096.3M748.0,1122.5 L735.7,1117.1M749.2,1262.5 L764.1,1268.7M755.4,1252.7 L766.7,1253.5M764.1,1268.7 L766.7,1253.5M750.7,1242.5 L755.4,1252.7M764.2,1269.0 L759.4,1282.0M768.5,1252.1 L768.6,1242.1M768.5,1252.1 L766.7,1253.5M879.5,1294.0 L862.2,1287.9M879.5,1294.0 L882.7,1284.8M882.7,1284.8 L868.7,1271.4M862.2,1287.9 L859.3,1277.9M859.3,1277.9 L866.8,1271.2M855.1,1297.0 L862.2,1287.9M881.5,1302.3 L879.5,1294.0M897.8,1272.5 L890.2,1278.6 L882.7,1284.8M885.8,1260.6 L868.7,1271.4M849.8,1276.2 L859.3,1277.9M860.1,1251.5 L866.8,1271.2M832.9,1287.3 L831.9,1277.4M849.8,1276.2 L847.6,1273.9M847.6,1273.9 L831.9,1277.4M857.8,1250.6 L846.3,1265.6M847.6,1273.9 L846.3,1265.6M840.0,1246.1 L832.9,1259.9M846.3,1265.6 L832.9,1259.9M842.8,1205.3 L835.3,1197.7M842.8,1205.3 L852.5,1201.0M850.1,1186.5 L837.0,1191.8M837.0,1191.8 L835.3,1197.7M841.9,1210.8 L842.8,1205.3M853.9,1224.5 L841.9,1210.8M860.0,1205.3 L852.5,1201.0M828.8,1182.1 L837.0,1191.8M819.1,1196.6 L827.4,1201.3M827.4,1201.3 L835.3,1197.7M798.3,1260.6 L790.6,1268.9M798.3,1260.6 L794.8,1251.5M794.8,1251.5 L788.8,1249.1M788.8,1249.1 L779.8,1256.0M779.8,1256.0 L780.3,1268.1M780.3,1268.1 L790.6,1268.9M802.4,1230.8 L793.3,1229.2M805.1,1244.3 L802.4,1230.8M805.1,1244.3 L794.8,1251.5M787.2,1244.8 L788.8,1249.1M768.5,1252.1 L779.8,1256.0M764.2,1269.0 L778.0,1270.4M778.0,1270.4 L780.3,1268.1M807.3,1227.3 L808.8,1216.6M807.3,1227.3 L819.4,1231.4M819.4,1231.4 L828.1,1221.2M812.9,1213.3 L826.8,1216.2M828.1,1221.2 L827.5,1217.0M802.4,1230.8 L807.3,1227.3M797.3,1212.0 L808.8,1216.6M805.1,1244.3 L817.4,1248.1M817.4,1248.1 L821.8,1241.9M821.8,1241.9 L819.4,1231.4M839.7,1230.1 L828.1,1221.2M836.4,1240.8 L821.8,1241.9M811.6,1200.0 L812.9,1213.3M827.4,1201.3 L826.8,1216.2M841.9,1210.8 L827.5,1217.0M754.9,1352.3 L755.1,1355.0M769.7,1352.4 L768.2,1355.8M782.2,1337.5 L778.2,1350.6M783.6,1336.6 L794.8,1347.1M778.2,1350.6 L783.2,1355.8M783.2,1355.8 L791.3,1354.4M794.8,1347.1 L791.3,1354.4M769.7,1352.4 L778.2,1350.6M763.9,1336.8 L782.2,1337.5M779.1,1368.6 L783.2,1355.8M798.0,1366.1 L791.3,1354.4M804.8,1344.9 L794.8,1347.1M750.9,1303.4 L747.6,1313.1M750.9,1303.4 L761.5,1301.5M761.5,1301.5 L766.9,1309.3M750.4,1317.1 L763.4,1318.3M763.4,1318.3 L766.9,1309.3M738.1,1314.1 L747.6,1313.1M744.8,1293.9 L750.9,1303.4M750.3,1318.8 L750.4,1317.1M765.4,1329.2 L767.1,1323.5M764.9,1320.5 L763.4,1318.3M759.6,901.2 L766.0,902.7M763.5,926.9 L772.5,920.0M766.0,902.7 L770.1,911.0 L772.5,920.0M781.2,930.4 L778.2,921.6M778.2,921.6 L772.5,920.0M805.4,877.1 L793.4,877.7M805.4,877.1 L808.7,884.9 L812.4,892.4M812.4,892.4 L804.8,903.8 L800.1,916.7M781.5,898.8 L786.4,904.8 L788.8,912.2M800.1,916.7 L788.8,912.2M813.1,868.4 L805.4,877.1M774.2,866.0 L783.2,872.9 L793.4,877.7M823.0,899.4 L833.5,896.8 L843.8,893.9M823.0,899.4 L812.4,892.4M766.0,902.7 L773.4,899.4 L781.5,898.8M778.2,921.6 L788.8,912.2M808.1,955.5 L815.5,939.3M831.8,951.3 L825.6,959.9M831.7,950.9 L816.3,939.1M815.5,939.3 L806.1,935.2M788.3,932.8 L800.4,919.6M806.1,935.2 L800.4,919.6M800.6,918.1 L800.4,919.6M823.0,899.4 L824.2,904.6M824.2,904.6 L817.7,920.9M816.3,939.1 L823.2,928.2M817.7,920.9 L823.2,928.2M836.2,935.0 L827.5,927.9M836.2,935.0 L844.0,933.8M844.0,933.8 L847.7,923.4M827.5,927.9 L836.3,916.7M847.7,923.4 L838.1,916.6M838.1,916.6 L836.3,916.7M831.7,950.9 L836.2,935.0M823.2,928.2 L827.5,927.9M854.5,921.3 L847.7,923.4M853.2,943.9 L864.5,936.1M824.2,904.6 L836.3,916.7M652.4,1153.3 L663.2,1151.6M659.4,1136.1 L664.8,1143.9M664.8,1143.9 L663.2,1151.6M656.4,1087.9 L660.9,1097.9M675.0,1090.5 L671.6,1096.6M644.2,1104.2 L658.9,1103.0M660.9,1097.9 L658.9,1103.0M688.8,1101.3 L684.9,1106.5M684.9,1106.5 L678.9,1108.3M671.6,1096.6 L678.9,1108.3M885.1,1152.1 L891.0,1147.5M885.1,1152.1 L871.5,1144.1M891.0,1147.5 L890.0,1138.1M890.0,1138.1 L878.1,1131.9M878.1,1131.9 L869.3,1137.8M871.5,1144.1 L869.3,1137.8M901.0,1168.0 L898.7,1169.9M901.2,1150.0 L891.0,1147.5M901.2,1150.0 L901.0,1168.0M883.0,1162.7 L885.1,1152.1M864.2,1158.6 L871.5,1144.1M852.8,1148.1 L863.0,1135.5M863.0,1135.5 L869.3,1137.8M852.8,1148.1 L854.0,1152.6M923.9,1190.6 L925.9,1190.4M923.9,1190.6 L914.5,1184.0M925.9,1190.4 L933.3,1176.6M914.5,1184.0 L918.7,1170.4M918.7,1170.4 L933.3,1176.6M916.7,1201.8 L923.9,1190.6M935.3,1197.6 L925.9,1190.4M907.5,1186.0 L914.5,1184.0M916.8,1166.5 L901.0,1168.0M916.8,1166.5 L918.7,1170.4M952.6,1174.8 L941.4,1162.4M946.3,1185.7 L933.6,1176.5M941.4,1162.4 L933.6,1176.5M975.4,1170.8 L964.3,1174.3 L952.6,1174.8M946.9,1187.8 L946.3,1185.7M941.4,1156.2 L949.4,1147.9 L956.3,1138.8 L962.3,1129.1M941.4,1156.2 L941.4,1162.4M941.4,1156.2 L930.9,1156.1 L920.4,1157.2M809.5,1059.4 L820.5,1065.2M811.1,1045.0 L807.7,1048.8M827.4,1049.3 L827.6,1055.5M811.1,1045.0 L827.4,1049.3M827.6,1055.5 L820.5,1065.2M864.5,1026.6 L864.8,1028.3M884.6,1029.8 L883.5,1015.4M884.6,1029.8 L875.6,1036.0M864.8,1028.3 L875.6,1036.0M893.5,1032.8 L892.6,1046.0M892.6,1046.0 L876.4,1045.2M875.6,1036.0 L876.4,1045.2M898.2,1052.3 L892.6,1046.0M882.5,1062.0 L875.3,1047.0M876.4,1045.2 L875.3,1047.0M811.1,1045.0 L810.8,1035.1M822.0,1031.5 L831.2,1038.8M827.4,1049.3 L831.8,1044.0M831.2,1038.8 L831.8,1044.0M832.7,1016.3 L841.0,1026.2M822.0,1031.5 L825.5,1016.6M856.2,1018.3 L841.4,1026.2M864.8,1028.3 L853.2,1041.2M841.4,1026.2 L853.2,1041.2M907.0,1036.0 L919.5,1021.2M907.0,1036.0 L897.0,1031.1M897.0,1031.1 L899.8,1021.6M899.8,1021.6 L919.0,1019.1M919.0,1019.1 L919.5,1021.2M929.4,1033.6 L924.3,1027.5 L919.5,1021.2M909.1,1044.8 L907.0,1036.0M893.5,1032.8 L897.0,1031.1M892.4,1012.2 L899.8,1021.6M919.5,1016.8 L919.0,1019.1M1085.0,511.2 L1096.5,505.3 L1102.2,492.6 L1113.7,486.7M1078.8,518.5 L1090.5,529.4 L1105.2,535.7M1119.8,527.9 L1112.7,532.1 L1105.2,535.7M1111.7,482.5 L1113.7,486.7M1105.0,566.2 L1103.6,551.0 L1105.2,535.7M1147.4,540.4 L1134.3,532.6 L1119.8,527.9M1290.9,540.7 L1283.8,534.7M1294.5,552.7 L1284.6,560.7 L1276.7,570.8 L1267.2,579.2M1257.7,531.6 L1249.3,538.4 L1243.4,547.3M1243.4,547.3 L1247.8,559.6 L1248.4,572.6M1248.4,572.6 L1258.0,575.5 L1267.2,579.2M1317.7,516.6 L1309.6,525.6 L1299.4,532.2 L1290.9,540.7M1283.2,492.9 L1284.3,506.8 L1282.1,520.8 L1283.8,534.7M1296.1,553.7 L1294.5,552.7M1274.5,604.8 L1270.8,592.0 L1267.2,579.2M1241.3,499.1 L1248.7,509.0 L1251.5,521.1 L1257.7,531.6M1220.2,541.4 L1232.0,543.6 L1243.4,547.3M1226.6,584.8 L1238.0,579.6 L1248.4,572.6M638.7,1399.7 L646.0,1388.2M653.4,1395.7 L646.0,1388.2M634.7,1372.1 L641.2,1378.0 L646.1,1385.3M646.1,1385.3 L646.0,1388.2M641.0,1049.5 L652.2,1052.2M641.0,1049.5 L630.8,1060.6M652.2,1052.2 L647.9,1066.5M630.8,1060.6 L647.9,1066.5M638.0,1039.7 L641.0,1049.5M654.9,1050.7 L652.2,1052.2M628.3,1061.2 L630.8,1060.6M649.9,1070.3 L647.9,1066.5M651.7,1213.0 L662.6,1200.9M679.1,1206.2 L676.2,1201.2M662.6,1200.9 L676.2,1201.2M641.5,1192.0 L659.9,1188.1M662.6,1200.9 L659.9,1188.1M742.8,1205.9 L731.3,1191.3M724.6,1210.1 L721.1,1200.8M721.1,1200.8 L731.3,1191.3M701.9,1102.6 L703.4,1115.4M719.4,1108.2 L709.0,1117.3M684.9,1106.5 L695.8,1119.0M703.4,1115.4 L695.8,1119.0M764.7,1187.0 L761.5,1181.3M776.1,1172.1 L765.8,1173.8M765.8,1173.8 L761.5,1181.3M758.5,1157.8 L757.7,1160.3M759.6,1156.8 L758.5,1157.8M765.8,1173.8 L757.7,1160.3M901.2,1150.0 L913.0,1144.5M920.4,1157.2 L913.5,1144.6M827.5,1135.3 L827.6,1150.0M827.5,1135.3 L832.0,1133.7M832.0,1133.7 L842.1,1139.1M835.3,1152.0 L827.6,1150.0M843.0,1143.8 L842.1,1139.1M818.4,1154.3 L827.6,1150.0M822.3,1133.3 L815.1,1136.3M839.2,1160.9 L835.3,1152.0M852.8,1148.1 L843.0,1143.8M863.0,1135.5 L860.8,1132.3M860.8,1132.3 L849.9,1129.5M791.9,1082.8 L803.7,1086.8M803.7,1086.8 L809.2,1077.0M820.5,1065.2 L820.9,1068.3M820.9,1068.3 L815.5,1076.0M809.2,1077.0 L815.5,1076.0M808.0,1121.0 L814.3,1117.2M822.3,1133.3 L820.4,1118.9M820.4,1118.9 L814.3,1117.2M880.2,1122.6 L878.1,1131.9M880.2,1122.6 L868.6,1115.9M860.8,1132.3 L864.2,1118.2M868.6,1115.9 L864.2,1118.2M794.0,1033.5 L808.4,1032.7M794.0,1033.5 L793.1,1020.7M808.4,1032.7 L808.1,1021.4M808.1,1021.4 L801.1,1016.0M790.2,1037.3 L794.0,1033.5M810.8,1035.1 L808.4,1032.7M785.4,1017.9 L793.1,1020.7M822.4,1014.8 L808.1,1021.4M801.5,1005.0 L801.1,1016.0M829.3,971.4 L837.6,971.6M838.6,989.1 L844.7,980.0M837.6,971.6 L844.7,980.0M853.8,995.5 L855.5,978.8M881.4,975.7 L867.6,966.5M867.6,966.5 L857.3,973.8M881.2,978.2 L881.4,975.7M872.4,987.3 L856.3,978.1M857.3,973.8 L856.3,978.1M836.1,952.2 L845.2,963.0M836.1,952.2 L853.2,943.9M856.3,953.1 L853.2,943.9M856.3,953.1 L849.2,963.1M849.2,963.1 L845.2,963.0M831.8,951.3 L836.1,952.2M837.6,971.6 L845.2,963.0M874.1,953.2 L867.9,958.4M867.9,958.4 L856.3,953.1M873.4,942.7 L874.1,953.2M857.3,973.8 L849.2,963.1M786.5,1329.0 L778.6,1321.5M788.3,1328.2 L794.7,1313.8M778.6,1321.5 L779.3,1308.9M794.7,1313.8 L791.6,1307.5M791.6,1307.5 L783.5,1304.1M779.3,1308.9 L783.5,1304.1M767.1,1323.5 L778.6,1321.5M783.6,1336.6 L786.5,1329.0M801.2,1330.3 L788.3,1328.2M806.1,1316.7 L794.7,1313.8M766.9,1309.3 L779.3,1308.9M803.0,1300.0 L791.6,1307.5M818.7,1255.3 L807.0,1264.5M827.6,1261.9 L826.6,1272.9M826.6,1272.9 L816.7,1277.9M816.7,1277.9 L808.4,1273.0M807.0,1264.5 L808.4,1273.0M817.4,1248.1 L818.7,1255.3M832.9,1259.9 L827.6,1261.9M798.3,1260.6 L807.0,1264.5M816.1,1288.1 L816.7,1277.9M802.4,1291.5 L795.5,1285.3M796.6,1281.8 L808.4,1273.0M796.6,1281.8 L790.6,1268.9M790.6,1287.0 L779.0,1281.2M790.6,1287.0 L783.1,1302.1M783.1,1302.1 L767.9,1291.3M779.0,1281.2 L767.7,1289.6M778.0,1270.4 L779.0,1281.2M795.5,1285.3 L790.6,1287.0M761.5,1301.5 L767.9,1291.3M759.5,1282.3 L767.7,1289.6M887.4,969.7 L885.7,957.3M887.4,969.7 L897.7,970.5M910.0,959.2 L897.7,970.5M910.0,959.2 L890.9,952.4M890.9,952.4 L885.7,957.3M874.1,953.2 L885.7,957.3M881.4,975.7 L887.4,969.7M904.0,984.2 L897.7,970.5M892.3,934.8 L890.9,952.4M680.6,1140.0 L679.5,1141.9M680.6,1140.0 L684.5,1138.4M679.5,1141.9 L681.1,1153.5M684.5,1138.4 L697.1,1143.0M697.5,1150.2 L697.1,1143.0M697.5,1150.2 L684.5,1156.6M684.5,1156.6 L681.1,1153.5M663.2,1151.6 L667.2,1157.9M667.2,1157.9 L681.1,1153.5M703.7,1136.2 L693.2,1124.1M690.0,1125.6 L693.2,1124.1M703.7,1136.2 L697.1,1143.0M678.9,1108.4 L662.4,1112.6M678.8,1121.3 L671.8,1126.8M661.6,1114.9 L662.4,1112.6M661.6,1114.9 L670.8,1126.7M658.9,1103.0 L662.4,1112.6M695.8,1119.0 L693.2,1124.1M690.0,1125.6 L678.8,1121.3M680.6,1140.0 L671.8,1126.8M659.4,1136.1 L670.8,1126.7M875.3,1047.0 L864.6,1051.6M853.2,1041.2 L852.8,1044.4M864.6,1051.6 L852.8,1044.4M831.8,1044.0 L848.3,1047.5M848.3,1047.5 L852.8,1044.4M683.6,1385.7 L684.8,1378.8M684.8,1378.8 L678.7,1373.8 L671.6,1370.6M671.6,1370.6 L665.5,1379.0M694.0,1378.4 L684.8,1378.8M646.1,1385.3 L656.0,1382.8 L665.5,1379.0M670.1,1350.6 L670.0,1360.6 L671.6,1370.6M731.5,1189.6 L724.5,1179.8M731.5,1189.6 L746.2,1183.2M729.0,1171.8 L724.5,1179.8M729.0,1171.8 L742.3,1168.8M742.3,1168.8 L746.1,1170.5M746.1,1170.5 L748.3,1179.5M746.2,1183.2 L748.3,1179.5M731.3,1191.3 L731.5,1189.6M712.6,1164.2 L713.8,1179.4M713.8,1179.4 L724.5,1179.8M724.1,1159.6 L729.0,1171.8M737.0,1153.9 L742.3,1168.8M761.5,1181.3 L748.3,1179.5M699.9,1178.0 L713.2,1179.7M699.9,1178.0 L695.9,1193.9M698.5,1198.7 L695.9,1193.9M698.5,1198.7 L707.0,1200.2M707.0,1200.2 L709.5,1198.9M721.1,1200.8 L709.5,1198.9M688.4,1208.6 L698.5,1198.7M676.2,1201.2 L677.0,1195.9M685.1,1189.2 L695.9,1193.9M708.5,1217.2 L707.0,1200.2M704.4,1136.1 L712.5,1124.4M704.4,1136.1 L717.5,1144.9M721.5,1141.8 L717.6,1144.9M721.5,1141.8 L721.1,1127.1M721.1,1127.1 L712.5,1124.4M709.0,1117.3 L712.5,1124.4M704.0,1156.0 L717.5,1144.9M730.2,1120.4 L729.4,1122.2M704.5,1159.6 L712.6,1164.2M704.0,1156.0 L704.5,1159.6M723.3,1159.2 L717.6,1144.9M805.2,1090.4 L813.4,1093.1M805.2,1090.4 L796.3,1103.8M813.4,1093.1 L815.9,1101.0M796.3,1103.8 L811.9,1106.1M803.7,1086.8 L805.2,1090.4M820.3,1086.2 L813.4,1093.1M814.3,1117.2 L811.9,1106.1M863.9,1061.7 L855.5,1068.9M855.5,1068.9 L866.8,1079.5M875.9,1067.6 L872.4,1079.0M872.4,1079.0 L866.8,1079.5M864.6,1051.6 L863.9,1061.7M881.8,1064.6 L875.9,1067.6M878.7,1085.4 L872.4,1079.0M878.7,1085.4 L890.6,1077.8M860.0,1088.5 L868.5,1099.6M870.8,1100.3 L868.5,1099.6M878.7,1085.4 L878.8,1088.9M878.8,1088.9 L870.8,1100.3M860.0,1088.5 L866.8,1079.5M838.1,1061.2 L838.3,1071.6M838.1,1061.2 L846.5,1056.3M838.3,1071.6 L848.8,1074.8M848.8,1074.8 L855.3,1069.0M827.6,1055.5 L838.1,1061.2M820.9,1068.3 L832.7,1074.5M848.3,1047.5 L846.5,1056.3M699.9,1178.0 L695.9,1174.2M685.1,1189.2 L684.2,1180.8M684.2,1180.8 L695.9,1174.2M684.5,1156.6 L685.5,1162.6M704.5,1159.6 L695.4,1169.9M685.5,1162.6 L695.4,1169.9M662.6,1184.7 L654.9,1170.4M667.9,1184.3 L675.7,1176.6M654.9,1170.4 L666.2,1164.4M666.2,1164.4 L675.1,1171.4M675.1,1171.4 L675.7,1176.6M659.9,1188.1 L662.6,1184.7M677.0,1195.9 L667.9,1184.3M649.3,1169.0 L654.9,1170.4M684.2,1180.8 L675.7,1176.6M667.2,1157.9 L666.2,1164.4M685.5,1162.6 L675.1,1171.4M730.5,1141.9 L738.7,1150.1M730.5,1141.9 L735.6,1133.0M735.6,1133.0 L745.7,1133.1M741.5,1149.3 L738.7,1150.1M741.5,1149.3 L748.2,1138.4M748.2,1138.4 L745.7,1133.1M721.5,1141.8 L730.5,1141.9M737.0,1153.9 L738.7,1150.1M729.4,1122.2 L735.6,1133.0M748.8,1124.5 L745.7,1133.1M758.5,1157.8 L741.5,1149.3M759.6,1141.0 L748.2,1138.4M868.6,1115.9 L871.9,1102.4M871.9,1102.4 L886.6,1107.9M880.2,1122.6 L882.9,1120.9M882.9,1120.9 L886.6,1107.9M933.1,1083.3 L922.8,1090.9M908.5,1084.9 L915.2,1090.3M922.8,1090.9 L915.2,1090.3M895.4,1132.3 L907.7,1135.2M907.7,1135.2 L910.0,1122.8M910.0,1122.8 L899.2,1119.6M894.4,1124.3 L899.2,1119.6M890.0,1138.1 L895.4,1132.3M882.9,1120.9 L894.4,1124.3M913.0,1144.5 L907.7,1135.2M860.0,1088.5 L852.9,1088.1M848.8,1074.8 L849.0,1084.3M849.0,1084.3 L852.9,1088.1M898.0,1111.9 L886.8,1107.8M898.0,1111.9 L905.1,1105.6M904.9,1101.9 L905.1,1105.6M904.9,1101.9 L893.7,1095.1M886.8,1107.8 L892.0,1095.8M899.2,1119.6 L898.0,1111.9M915.2,1090.3 L904.9,1101.9M897.1,1087.5 L893.7,1095.1M871.9,1102.4 L870.8,1100.3M878.8,1088.9 L892.0,1095.8M913.0,1120.8 L914.7,1112.3M914.7,1112.3 L923.8,1107.2M923.8,1107.2 L932.1,1115.5 L943.6,1119.2 L952.4,1126.9M952.4,1126.9 L942.3,1128.6 L932.4,1131.0M905.1,1105.6 L914.7,1112.3M910.0,1122.8 L913.0,1120.8M913.5,1144.6 L923.7,1139.0 L932.4,1131.0M922.8,1090.9 L922.3,1099.1 L923.8,1107.2M962.4,1128.0 L952.4,1126.9M820.3,1086.2 L830.3,1088.2M815.9,1101.0 L825.6,1102.1M849.0,1084.3 L836.6,1089.5M832.7,1074.5 L831.4,1087.7M836.6,1089.5 L831.4,1087.7M830.6,1114.2 L831.9,1110.4M830.6,1114.2 L836.1,1122.8M831.9,1110.4 L843.1,1105.0M836.1,1122.8 L846.9,1124.3M846.9,1124.3 L851.6,1111.6M843.1,1105.0 L848.7,1105.7M851.6,1111.6 L849.6,1106.4M820.4,1118.9 L830.6,1114.2M825.6,1102.1 L831.9,1110.4M832.0,1133.7 L836.1,1122.8M836.6,1089.5 L843.1,1105.0M849.9,1129.5 L846.9,1124.3M852.9,1088.1 L848.7,1105.7M868.5,1099.6 L849.6,1106.4"/>

</g>
<g fill="none" stroke="#000" stroke-width="4.1" stroke-linejoin="round" stroke-linecap="round">
<path d="M300.3,697.1 L307.0,694.8 L313.8,692.8 L321.4,691.2 L328.9,689.4 L334.6,691.7 L340.7,692.1 L350.8,691.4 L355.9,695.9 L360.8,700.5 L368.4,700.5 L376.0,700.5 L382.2,699.6 L388.2,697.5 L394.5,697.1 L399.5,703.9 L406.8,703.4 L414.1,703.1 L421.3,702.2 L428.4,698.6 L434.8,693.8 L440.8,691.7 L447.0,691.1 L453.3,690.4 L459.2,687.3 L465.7,686.1 L468.6,679.2 L470.1,671.9 L475.5,667.2 L480.2,661.8 L480.8,653.2 L483.5,645.0 L488.4,640.1 L492.3,634.4 L495.3,628.2 L499.0,622.8 L502.3,617.1 L505.4,611.4 L508.0,605.1 L512.1,599.7 L510.4,590.6 L515.5,591.9 L522.9,595.6 L528.9,601.3 L534.5,605.9 L540.8,609.5 L545.7,614.8 L551.7,617.5 L557.2,621.0 L562.5,624.9 L568.2,627.3 L572.6,631.5 L577.7,634.8 L582.7,638.3 L587.8,642.9 L593.9,646.2 L599.5,650.1 L607.8,652.9 L616.3,655.1 L623.0,657.6 L629.7,660.2 L632.9,653.0 L635.3,645.6 L638.2,638.3 L639.8,632.2 L643.5,627.0 L645.6,621.1 L646.6,614.8 L649.1,606.6 L649.9,598.0 L648.2,587.9 L652.0,581.4 L655.0,574.5 L658.8,567.5 L663.4,561.0 L671.8,556.0 L679.1,552.8 L686.9,550.9 L695.2,549.1 L703.7,548.2 L706.2,542.3 L710.4,537.5 L714.3,532.2 L716.9,526.2 L720.5,520.7 L724.0,515.5 L725.9,509.4 L728.9,503.9 L731.7,498.3 L732.3,492.1 L738.5,490.0 L744.0,486.4 L750.8,490.4 L753.6,496.0 L754.1,502.2 L759.6,506.2 L764.2,511.3 L776.0,509.9 L781.2,515.2 L787.7,519.0 L794.5,524.8 L801.2,530.8 L805.4,537.4 L811.3,542.5 L814.0,550.0 L816.3,557.6 L819.8,565.8 L821.3,574.5 L824.4,581.3 L828.1,587.9 L830.9,593.8 L835.3,598.8 L838.2,604.7 L841.9,609.9 L844.2,615.7 L846.6,621.5 L848.9,628.7 L852.7,635.2 L856.6,641.7 L860.8,648.0 L863.4,655.1 L868.4,662.5 L878.5,661.8 L884.9,657.9 L891.9,655.1 L900.2,650.1 L906.4,645.3 L913.1,641.3 L920.3,638.3 L927.0,639.0 L933.8,637.5 L940.5,638.3 L947.3,635.1 L953.9,631.5 L960.7,628.2 L964.0,622.2 L969.0,617.3 L972.4,611.4 L972.8,605.3 L975.3,599.7 L975.3,593.6 L977.5,587.9 L984.1,582.7 L990.9,577.8 L992.8,572.1 L995.4,566.7 L999.5,561.9 L1001.0,556.0 L1007.9,555.6 L1014.4,553.3 L1021.2,552.6 L1027.4,548.9 L1032.0,543.1 L1038.0,539.2 L1046.4,538.1 L1054.8,537.5 L1060.9,534.3 L1066.2,529.9 L1071.6,525.7 L1075.4,520.6 L1081.4,517.6 L1085.0,512.3 L1084.5,506.0 L1084.8,499.7 L1086.2,493.4 L1085.7,487.1 L1093.7,485.0 L1101.8,483.7 L1108.5,482.4 L1115.3,482.0 L1120.3,490.4 L1127.4,485.3 L1135.5,482.0 L1143.8,480.2 L1152.3,480.3 L1156.9,475.4 L1160.8,469.8 L1165.7,465.2 L1174.1,466.3 L1182.5,466.9 L1190.9,467.4 L1199.3,468.6 L1205.3,467.1 L1211.7,467.0 L1217.5,464.5 L1223.6,463.3 L1229.6,461.8 L1235.8,467.6 L1243.0,471.9 L1249.7,463.5 L1256.3,461.5 L1263.0,460.2 L1270.1,460.7 L1276.6,458.5 L1282.7,458.0 L1288.3,455.4 L1294.1,453.9 L1300.2,453.4 L1307.0,452.6 L1313.8,451.8 L1320.2,448.7 L1327.3,449.1 L1333.8,446.7 L1340.8,447.0 L1347.6,445.5 L1354.3,444.4 L1361.0,442.9 L1367.8,444.7 L1374.7,446.0 L1381.2,448.9 L1389.3,445.3 L1398.0,443.9 L1404.6,445.5 L1411.5,444.3 L1418.2,445.5 L1426.6,446.8 L1435.0,447.2 L1437.8,441.1 L1441.7,435.5 L1448.8,432.0 L1455.1,427.1 L1457.0,419.6 L1458.5,411.9 L1453.9,407.2 L1450.1,401.8 L1458.5,393.4 L1466.7,390.2 L1475.3,388.4 L1482.7,390.6 L1490.4,391.8 L1494.7,386.5 L1500.0,382.3 L1505.5,378.3 L1512.3,374.2 L1519.0,369.9 L1525.7,363.2 L1526.3,357.0 L1525.5,350.9 L1525.0,344.7 L1528.1,337.7 L1533.1,331.7 L1535.8,324.5 L1537.9,317.5 L1540.3,310.7 L1544.2,304.4 L1547.1,298.0 L1550.8,292.0 L1554.3,285.9 L1560.0,282.1 L1566.3,279.6 L1572.8,277.5 L1579.3,271.4 L1586.2,265.7 L1592.5,260.8 L1598.0,254.9 L1604.7,250.6 L1609.6,247.0 L1614.8,243.9 L1621.3,243.5 L1627.6,242.5 L1633.8,240.4 L1640.0,238.8 L1647.6,237.6 L1655.1,235.5 L1662.8,232.3 L1670.3,228.7 L1672.9,223.2 L1676.0,218.0 L1680.3,213.6 L1686.8,210.8 L1693.8,210.3 L1697.2,203.9 L1698.8,196.8 L1706.2,199.8 L1713.9,201.8 L1720.2,205.6 L1727.7,206.3 L1734.0,210.1 L1740.6,212.6 L1747.4,214.5 L1754.1,216.8 L1760.8,216.5 L1767.4,214.7 L1774.3,215.5 L1780.8,213.5 L1786.9,213.8 L1792.5,216.1 L1798.3,217.8 L1804.3,218.5 L1806.8,224.8 L1811.0,230.2 L1815.5,237.2 L1821.0,243.6 L1824.0,248.9 L1827.1,254.1 L1831.1,258.7 L1832.7,266.6 L1836.1,273.8 L1847.8,273.8 L1856.1,270.9 L1864.6,268.7 L1871.3,269.7 L1877.9,270.8 L1884.7,270.4 L1888.7,260.4 L1884.7,250.3 L1887.2,242.1 L1888.0,233.6 L1890.0,226.8 L1893.1,220.4 L1894.7,213.5 L1901.4,214.0 L1908.1,213.0 L1914.8,212.5 L1921.5,213.7 L1928.2,214.0 L1934.9,215.2 L1942.4,216.2 L1950.0,216.8 L1954.8,223.7 L1960.0,230.2 L1965.0,235.5 L1968.4,242.0 L1975.0,244.0 L1981.5,246.5 L1988.5,247.0 L1996.6,250.4 L2005.2,252.0 L2013.4,255.0 L2022.0,257.0 L2027.2,261.0 L2032.0,265.4 L2033.7,277.1 L2040.4,282.1 L2038.7,293.9 L2039.9,299.9 L2042.1,305.6 L2039.4,311.4 L2037.0,317.3 L2030.9,318.6 L2024.6,318.8 L2018.6,320.7 L2011.5,325.0 L2003.5,327.4 L2005.5,335.9 L2008.6,344.1 L2005.4,352.2 L2000.2,359.2 L1994.2,363.2 L1988.5,367.5 L1987.7,374.2 L1986.8,380.9 L1988.3,387.5 L1988.5,394.3 L1983.5,404.4 L1977.3,409.0 L1971.7,414.4 L1970.9,422.8 L1970.1,431.2 L1969.8,437.9 L1970.1,444.6 L1970.8,450.7 L1973.4,456.3 L1968.8,462.5 L1963.4,468.0 L1956.2,471.6 L1948.3,473.0 L1942.9,476.8 L1936.9,479.4 L1931.5,483.1 L1919.8,481.4 L1911.5,489.8 L1905.2,495.4 L1898.1,499.8 L1892.4,502.3 L1886.3,503.2 L1884.7,513.2 L1874.6,514.9 L1866.2,509.9 L1859.5,513.0 L1853.7,517.4 L1847.8,521.6 L1849.5,528.3 L1844.6,531.8 L1839.5,535.0 L1837.8,545.0 L1831.6,548.7 L1826.9,554.3 L1821.0,558.4 L1815.7,564.9 L1811.0,571.8 L1804.3,578.5 L1802.6,585.2 L1795.0,585.9 L1787.5,585.2 L1779.1,583.7 L1770.8,581.9 L1763.5,578.7 L1755.7,576.9 L1753.1,584.2 L1752.4,591.9 L1746.0,595.4 L1740.7,600.3 L1730.6,603.6 L1732.6,610.2 L1734.0,617.0 L1738.9,621.4 L1744.0,625.4 L1735.6,633.8 L1729.6,631.7 L1723.9,628.8 L1715.5,637.1 L1707.2,643.8 L1698.8,647.2 L1688.7,642.2 L1687.1,632.1 L1679.2,629.5 L1672.0,625.4 L1666.1,622.1 L1660.3,618.7 L1651.9,612.0 L1646.9,603.6 L1640.2,602.8 L1633.5,603.6 L1626.4,607.1 L1620.1,612.0 L1610.0,608.7 L1600.0,613.7 L1589.6,617.0 L1583.7,619.9 L1577.8,622.8 L1572.8,627.1 L1568.0,630.9 L1563.1,634.5 L1557.7,637.2 L1552.6,640.5 L1547.3,645.4 L1541.8,650.0 L1535.8,653.9 L1530.9,657.4 L1525.6,660.4 L1520.7,664.0 L1516.5,670.8 L1512.3,677.5 L1505.8,682.1 L1498.8,685.9 L1494.8,690.5 L1492.1,696.0 L1484.4,693.7 L1476.4,693.8 L1468.6,692.6 L1462.5,698.5 L1455.1,702.7 L1448.8,706.3 L1441.7,707.7 L1434.7,708.9 L1428.6,713.0 L1421.4,713.5 L1414.8,716.1 L1408.6,717.1 L1402.5,718.8 L1396.3,719.5 L1394.6,731.3 L1401.0,736.1 L1408.1,739.7 L1405.7,746.4 L1402.1,752.5 L1398.0,758.2 L1393.0,763.3 L1387.9,768.2 L1381.7,772.6 L1374.5,775.0 L1367.5,776.5 L1361.2,780.1 L1354.3,781.7 L1353.4,790.3 L1350.9,798.5 L1354.5,804.8 L1356.0,811.9 L1351.5,818.5 L1347.6,825.4 L1343.9,826.6 L1337.2,831.7 L1330.4,836.6 L1329.2,845.0 L1328.7,853.4 L1331.8,860.3 L1335.5,866.9 L1330.7,873.2 L1327.1,880.3 L1324.3,886.8 L1323.7,893.8 L1317.2,890.8 L1310.3,888.7 L1303.5,889.4 L1296.8,888.7 L1292.3,883.7 L1287.3,879.1 L1283.4,873.6 L1277.2,873.1 L1271.6,870.3 L1265.8,868.1 L1259.8,866.9 L1254.2,862.4 L1249.7,856.8 L1244.8,851.5 L1240.5,845.8 L1236.3,840.0 L1234.2,833.1 L1231.3,826.6 L1228.7,835.0 L1226.2,843.4 L1220.9,849.9 L1216.1,856.8 L1209.3,857.9 L1202.8,860.4 L1196.0,861.8 L1191.0,865.8 L1186.3,870.1 L1182.5,875.3 L1176.2,879.0 L1168.7,879.9 L1162.4,883.7 L1155.6,883.7 L1149.0,885.7 L1142.2,885.4 L1135.4,882.1 L1128.7,878.7 L1117.0,880.3 L1116.1,887.0 L1114.9,893.7 L1115.3,900.5 L1111.6,906.3 L1107.3,911.6 L1103.5,917.3 L1098.0,919.9 L1093.0,923.4 L1088.4,927.4 L1089.9,934.5 L1093.4,940.8 L1090.1,950.9 L1100.2,952.6 L1096.8,962.7 L1089.3,966.1 L1081.7,969.4 L1078.7,963.3 L1075.0,957.6 L1068.4,960.0 L1061.4,960.5 L1054.8,962.7 L1063.2,971.1 L1059.9,977.8 L1058.1,985.0 L1062.1,992.0 L1066.6,998.6 L1070.4,1004.0 L1075.1,1008.8 L1076.6,1017.2 L1076.8,1025.8 L1079.4,1031.4 L1083.6,1036.0 L1078.5,1046.2 L1073.4,1049.6 L1070.0,1054.7 L1074.2,1061.4 L1080.2,1066.6 L1083.5,1073.4 L1087.0,1080.2 L1088.0,1087.2 L1090.4,1093.8 L1095.2,1098.0 L1098.8,1103.6 L1104.0,1107.4 L1106.6,1114.6 L1110.8,1121.0 L1119.3,1120.6 L1127.8,1121.0 L1135.0,1123.5 L1141.4,1127.8 L1149.9,1134.6 L1151.7,1143.1 L1153.3,1151.6 L1151.5,1158.4 L1149.9,1165.2 L1151.6,1172.0 L1144.6,1173.9 L1138.0,1177.1 L1132.9,1181.4 L1127.8,1185.6 L1125.3,1191.3 L1121.0,1195.8 L1114.2,1195.1 L1107.4,1195.8 L1101.0,1199.3 L1093.8,1200.9 L1088.7,1209.4 L1088.8,1218.0 L1090.4,1226.4 L1090.3,1235.0 L1088.7,1243.4 L1093.0,1247.7 L1096.1,1252.9 L1100.6,1257.0 L1105.6,1263.3 L1109.1,1270.6 L1109.1,1279.2 L1107.4,1287.6 L1109.6,1293.3 L1111.4,1299.1 L1114.2,1304.6 L1114.2,1311.5 L1115.9,1318.2 L1113.2,1324.9 L1110.4,1331.5 L1109.1,1338.6 L1113.4,1345.4 L1117.6,1352.2 L1121.0,1359.0 L1115.1,1363.3 L1110.8,1369.2 L1112.6,1375.9 L1112.5,1382.8 L1117.0,1388.1 L1120.4,1394.2 L1124.4,1399.8 L1131.4,1402.7 L1138.0,1406.6 L1143.6,1412.1 L1149.9,1416.8 L1149.6,1425.3 L1149.9,1433.8 L1148.1,1440.6 L1145.7,1447.2 L1144.8,1454.2 L1134.6,1455.9 L1129.0,1452.9 L1123.1,1450.6 L1117.6,1447.4 L1110.7,1446.0 L1104.0,1444.0 L1098.3,1447.9 L1093.2,1452.3 L1088.7,1457.6 L1083.1,1461.6 L1076.8,1464.4 L1070.0,1463.6 L1063.2,1463.3 L1056.4,1464.4 L1049.6,1465.2 L1042.8,1466.1 L1036.0,1466.8 L1029.2,1467.8 L1028.2,1476.4 L1025.8,1484.8 L1019.0,1483.9 L1012.2,1483.1 L1005.4,1483.9 L998.6,1484.8 L995.0,1491.5 L991.8,1498.4 L990.6,1504.5 L986.2,1509.3 L985.0,1515.4 L979.1,1512.0 L973.1,1508.6 L962.9,1505.2 L960.3,1511.0 L956.6,1516.2 L954.4,1522.2 L949.2,1528.9 L944.2,1535.8 L939.4,1539.4 L934.3,1542.6 L929.8,1546.6 L923.1,1549.3 L915.9,1550.0 L906.7,1553.5 L905.4,1560.4 L904.3,1567.4 L905.7,1575.4 L906.7,1583.5 L904.4,1590.3 L904.3,1597.4 L895.1,1604.3 L892.8,1615.9 L888.2,1625.1 L882.8,1629.0 L878.9,1634.4 L872.2,1638.3 L865.1,1641.3 L858.2,1642.5 L851.2,1643.6 L844.0,1642.1 L837.3,1639.0 L835.0,1632.1 L825.8,1639.0 L816.5,1641.3 L813.2,1648.3 L809.6,1655.2 L802.7,1657.5 L803.4,1657.6 L797.4,1663.1 L792.6,1669.7 L787.5,1673.5 L783.7,1678.7 L779.2,1683.1 L777.9,1689.5 L776.4,1695.8 L773.9,1701.8 L767.0,1706.9 L760.5,1712.5 L757.3,1719.4 L756.9,1727.1 L753.8,1734.0 L751.8,1741.0 L752.3,1748.5 L749.8,1755.4 L751.0,1761.6 L751.3,1767.9 L751.1,1774.2 L751.1,1780.5 L752.5,1786.6 L752.5,1792.9 L756.8,1800.8 L760.5,1809.0 L764.2,1817.2 L768.5,1825.1 L772.0,1830.0 L773.4,1836.1 L776.6,1841.2 L781.7,1845.0 L785.5,1850.2 L790.0,1854.6 L792.6,1865.3 L793.9,1873.3 L794.0,1881.4 L796.7,1889.2 L798.0,1897.4 L798.6,1905.5 L799.3,1913.5 L802.1,1920.1 L804.7,1926.9 L805.0,1933.0 L804.7,1939.0 L798.7,1940.5 L792.6,1941.6 L787.2,1944.7 L782.3,1948.6 L776.6,1951.0 L771.6,1955.2 L765.7,1957.9 L760.5,1961.7 L754.9,1966.9 L749.8,1972.5 L745.3,1976.9 L740.3,1980.8 L736.4,1985.9 L730.9,1990.3 L725.7,1995.2 L719.1,1993.7 L712.3,1993.9 L705.7,1995.9 L698.9,1996.6 L695.7,2004.4 L693.5,2012.6 L692.1,2020.6 L692.2,2028.7 L688.0,2035.0 L685.5,2042.1 L681.8,2049.0 L677.4,2055.5 L673.8,2062.4 L669.4,2068.9 L665.8,2075.2 L664.0,2082.3 L659.9,2088.1 L654.7,2093.0 L650.6,2086.3 L642.6,2082.3 L636.1,2079.8 L629.2,2079.6 L619.8,2074.3 L618.7,2067.3 L615.8,2060.9 L610.4,2050.2 L602.4,2042.1 L597.0,2035.4 L590.0,2034.2 L583.6,2031.4 L577.3,2031.6 L571.2,2030.0 L564.9,2030.1 L558.8,2032.0 L552.6,2033.7 L546.1,2034.1 L539.8,2034.2 L533.7,2036.1 L527.4,2036.8 L526.0,2047.5 L518.5,2048.8 L511.3,2051.5 L504.3,2049.6 L497.9,2046.1 L492.4,2041.4 L487.5,2036.0 L481.8,2031.4 L474.4,2027.6 L468.4,2022.0 L461.0,2022.1 L453.7,2020.7 L460.4,2012.6 L463.5,2004.7 L465.7,1996.6 L469.3,1989.8 L472.2,1982.7 L473.8,1975.1 L475.2,1967.7 L478.3,1960.8 L480.5,1953.7 L478.4,1947.2 L475.1,1941.2 L472.4,1934.9 L470.8,1926.8 L468.4,1918.9 L463.8,1913.9 L460.4,1908.1 L458.0,1901.6 L457.7,1894.7 L451.6,1888.6 L447.0,1881.4 L439.6,1876.9 L433.6,1870.6 L429.0,1866.5 L424.2,1862.6 L418.2,1858.6 L412.2,1854.6 L408.3,1849.8 L404.1,1845.2 L408.9,1839.9 L414.8,1835.8 L421.0,1829.9 L428.2,1825.1 L436.1,1823.0 L444.3,1822.4 L445.1,1814.3 L444.3,1806.3 L447.2,1800.4 L448.9,1794.1 L449.7,1787.6 L447.4,1781.5 L445.9,1775.3 L445.6,1768.8 L448.0,1760.9 L448.3,1752.7 L446.2,1744.7 L444.3,1736.7 L440.9,1728.4 L436.3,1720.6 L433.9,1712.7 L432.3,1704.5 L436.9,1697.8 L441.6,1691.1 L437.6,1680.4 L435.6,1672.3 L433.6,1664.3 L430.1,1656.3 L426.9,1648.2 L425.8,1640.2 L424.2,1632.2 L426.5,1625.0 L430.9,1618.8 L434.7,1612.3 L437.6,1605.4 L441.3,1599.9 L442.9,1593.3 L446.6,1587.7 L444.8,1581.0 L443.8,1574.2 L441.5,1567.6 L439.1,1560.9 L436.3,1554.4 L434.8,1547.4 L431.5,1539.2 L429.7,1530.6 L428.6,1523.9 L426.4,1517.3 L426.4,1510.4 L428.2,1502.1 L428.1,1493.6 L427.7,1486.7 L426.3,1480.1 L424.7,1473.4 L425.0,1465.5 L423.9,1457.7 L423.0,1449.9 L421.7,1443.8 L421.0,1437.5 L419.7,1431.4 L416.3,1423.8 L412.9,1416.3 L414.6,1409.7 L414.8,1402.9 L414.6,1396.1 L411.8,1390.7 L411.1,1384.5 L407.9,1379.3 L407.3,1372.5 L406.3,1365.8 L404.5,1359.2 L400.1,1352.0 L394.5,1345.7 L390.1,1338.3 L386.1,1330.6 L374.3,1328.9 L368.1,1323.1 L360.8,1318.8 L358.3,1312.7 L354.5,1307.4 L350.8,1302.0 L347.1,1295.0 L342.4,1288.6 L346.3,1282.1 L348.9,1275.0 L352.4,1268.4 L350.7,1262.6 L347.0,1257.6 L345.7,1251.6 L346.2,1243.2 L347.4,1234.8 L342.3,1228.1 L337.3,1221.3 L337.3,1214.4 L339.2,1207.8 L340.7,1201.2 L341.0,1194.5 L341.0,1187.7 L340.7,1181.0 L337.3,1175.7 L336.1,1169.3 L332.3,1164.2 L326.9,1159.4 L320.9,1155.6 L315.5,1150.8 L314.2,1142.3 L312.1,1133.9 L314.5,1128.4 L316.6,1122.7 L318.8,1117.1 L317.4,1110.4 L317.8,1103.5 L315.5,1097.0 L313.3,1088.5 L310.4,1080.2 L313.0,1074.1 L315.2,1067.8 L317.8,1061.7 L318.8,1055.1 L319.0,1049.0 L321.6,1043.4 L323.2,1037.6 L323.9,1031.6 L324.1,1023.1 L325.5,1014.8 L320.5,1004.7 L320.8,997.9 L320.6,991.1 L322.2,984.5 L320.9,977.9 L320.8,971.1 L320.5,964.4 L320.1,957.6 L321.0,950.9 L322.2,944.2 L321.5,935.6 L318.8,927.4 L316.4,920.6 L313.8,913.9 L313.0,907.2 L312.1,900.5 L309.7,894.8 L305.4,890.4 L300.3,880.3 L294.5,876.8 L288.6,873.6 L288.6,863.5 L284.2,853.4 L285.0,846.6 L283.5,840.0 L288.8,836.1 L293.6,831.6 L291.9,823.2 L289.2,817.7 L285.2,813.1 L282.0,807.6 L280.8,801.3 L284.1,794.7 L286.9,787.9 L294.6,786.0 L302.0,782.9 L297.0,776.1 L298.7,764.4 L295.1,758.9 L293.6,752.6 L293.8,744.1 L291.9,735.8 L288.6,729.4 L286.9,722.4 L289.3,715.6 L291.9,708.9 L295.5,702.5 L300.3,697.1Z"/>
<path d="M465.7,686.1 L467.9,692.4 L468.7,699.0 L470.1,705.5 L471.6,710.8 L473.9,715.8 L475.9,720.8 L478.5,725.7 L482.0,729.8 L484.7,734.5 L488.5,738.3 L491.9,742.5 L496.5,746.4 L499.8,751.4 L503.7,756.0 L505.9,760.8 L505.3,766.3 L506.5,771.3 L508.7,776.1 L509.6,781.7 L510.3,787.3 L510.4,792.9 L508.7,798.4 L508.8,804.2 L507.1,809.7 L509.4,815.1 L511.1,820.8 L512.1,826.6 L515.5,831.6"/>
<path d="M515.5,831.6 L519.9,835.1 L524.8,837.8 L528.9,841.7 L531.5,846.2 L535.0,849.9 L539.1,853.0 L542.4,856.8 L545.4,861.5 L549.6,865.4 L552.4,870.3 L558.5,871.9 L564.2,874.6"/>
<path d="M515.5,831.6 L510.4,836.6 L508.3,842.0 L504.6,846.6 L502.0,851.8 L497.4,856.6 L491.9,860.2 L485.0,863.1 L478.5,866.9 L471.7,868.4 L465.0,870.3 L461.0,873.8 L456.6,877.0 L457.2,883.7 L458.3,890.4 L459.9,897.2 L461.7,903.9 L459.2,911.0 L455.0,917.3 L452.4,924.0 L449.9,930.8 L449.3,936.1 L449.2,941.5 L448.0,946.8 L448.0,952.2 L448.2,957.6 L448.5,962.6 L448.8,967.7 L449.0,972.8 L448.2,977.8 L445.4,982.0 L443.4,986.6 L441.5,991.3 L438.0,995.4 L434.9,999.8 L431.4,1003.9 L428.1,1008.1 L422.8,1012.0 L416.9,1014.8 L411.3,1018.2 L404.7,1020.6 L397.8,1021.5"/>
<path d="M397.8,1021.5 L392.7,1024.0 L388.9,1028.3 L384.4,1031.6 L379.2,1032.8 L374.1,1034.5 L369.4,1037.2 L364.2,1038.3 L361.6,1043.1 L357.3,1046.6 L354.8,1051.4 L350.8,1055.1 L348.5,1060.3 L345.0,1064.8 L342.5,1069.9 L340.7,1075.3 L338.6,1080.6 L335.9,1085.6 L332.3,1090.1 L328.8,1094.5 L323.9,1097.5 L320.5,1102.0 L315.5,1103.7"/>
<path d="M397.8,1021.5 L402.7,1023.3 L407.9,1023.2 L409.7,1028.2 L412.5,1032.7 L416.0,1036.8 L418.0,1041.7 L421.7,1045.9 L424.4,1050.9 L428.1,1055.1 L430.9,1061.0 L435.7,1065.8 L438.2,1071.9 L441.0,1076.1 L441.6,1081.4 L445.3,1085.2 L446.6,1090.1"/>
<path d="M940.5,638.3 L938.0,643.7 L937.5,649.6 L935.5,655.1 L937.4,660.4 L939.6,665.6 L943.4,670.1 L945.5,675.3 L948.1,679.7 L951.9,683.2 L955.2,687.0 L957.9,691.3 L960.7,695.5 L963.6,700.5 L968.1,704.4 L970.5,709.8 L974.4,714.1 L977.5,719.0 L982.2,722.7 L986.0,727.3 L990.3,731.4 L994.3,735.8 L997.7,742.5 L1001.0,749.2 L998.9,754.0 L997.6,759.1 L997.8,764.5 L996.0,769.4 L992.4,775.8 L990.9,782.9 L987.3,787.2 L983.4,791.2 L980.8,796.3 L976.9,801.0 L974.1,806.4 L969.0,808.0 L964.2,810.3 L958.7,810.5 L953.6,812.1 L948.8,814.5 L944.1,817.3 L938.6,817.5 L933.8,819.8 L932.1,825.3 L930.7,830.8 L930.4,836.6 L931.1,842.8 L932.7,848.7 L934.9,854.4 L937.1,860.2 L939.3,865.5 L941.1,871.0 L943.2,876.3 L944.6,881.9 L947.2,887.1 L948.4,892.4 L949.4,897.8 L951.5,902.9 L952.8,908.2 L953.4,913.7 L955.2,918.9 L957.3,924.0 L957.5,929.3 L959.1,934.2 L961.5,939.0 L961.9,944.2 L963.3,949.2 L964.0,954.3 L966.2,960.0 L968.2,965.8 L969.9,971.7 L970.8,977.8 L972.5,984.5 L974.1,991.3"/>
<path d="M930.4,954.3 L936.4,953.0 L942.2,950.9 L943.9,956.3 L948.2,960.5 L948.9,966.5 L952.3,971.1 L954.8,975.6 L959.1,978.6 L960.8,983.6 L963.8,987.7 L967.4,991.3 L974.1,990.6 L980.8,991.3 L982.7,985.5 L982.2,979.5 L983.2,973.6 L984.2,967.7 L988.5,963.6 L992.6,959.3 L996.7,955.0 L1000.0,949.9 L1004.4,945.9 L1009.4,948.0 L1014.8,949.4 L1019.7,951.7 L1024.5,954.3 L1029.6,956.4 L1035.0,957.6 L1039.8,960.3 L1044.7,962.7 L1049.9,962.5 L1054.8,961.0 L1059.7,959.5 L1064.9,959.2 L1069.8,957.4 L1075.0,957.6"/>
<path d="M1120.3,490.4 L1116.0,494.2 L1110.9,497.0 L1105.8,499.7 L1101.8,503.9 L1096.6,507.5 L1091.8,511.7 L1086.7,515.6 L1088.4,520.5 L1090.2,525.5 L1089.7,531.0 L1091.5,535.9 L1093.4,540.8 L1094.2,546.4 L1093.8,552.0 L1093.8,557.7 L1093.6,563.3 L1095.3,568.9 L1095.1,574.5 L1095.5,580.1 L1095.8,585.7 L1094.9,591.3 L1094.2,596.9 L1094.6,602.5 L1095.1,608.1 L1097.9,612.8 L1099.6,618.0 L1102.3,622.8 L1103.5,628.2 L1107.1,632.9 L1109.4,638.3 L1113.0,643.0 L1115.3,648.4 L1117.5,653.9 L1119.2,659.4 L1120.3,665.2 L1126.5,667.3 L1132.4,670.4 L1138.8,671.9 L1143.4,675.7 L1147.2,680.3 L1141.1,679.5 L1134.8,679.5 L1128.7,678.7 L1122.2,681.6 L1115.3,683.7 L1110.5,687.4 L1105.2,690.4 L1108.9,696.7 L1113.6,702.2 L1114.5,708.3 L1116.5,714.1 L1117.8,720.1 L1120.3,725.7 L1121.1,731.7 L1123.3,737.4 L1124.7,743.2 L1125.4,749.2 L1126.4,754.3 L1127.4,759.4 L1128.7,764.4 L1134.2,766.1 L1139.7,767.5 L1145.5,767.7 L1148.4,772.1 L1151.4,776.2 L1155.6,779.5 L1161.0,783.2 L1166.6,786.6 L1172.4,789.6 L1176.4,794.5 L1181.4,798.5 L1185.9,803.0 L1188.7,808.4 L1191.9,813.6 L1196.0,818.2 L1201.0,819.1 L1206.1,819.5 L1211.1,820.4 L1216.1,821.5 L1221.1,823.4 L1226.2,825.0 L1231.3,826.6"/>
<path d="M1240.0,472.4 L1245.6,476.9 L1250.1,482.5 L1246.9,488.1 L1245.0,494.3 L1250.3,496.4 L1256.0,496.6 L1261.5,497.6 L1266.9,499.3 L1270.8,503.1 L1274.3,507.1 L1277.4,511.5 L1280.3,516.1 L1284.2,520.8 L1286.4,526.6 L1291.0,530.9 L1293.8,536.3 L1298.5,540.0 L1301.5,545.4 L1305.8,549.5 L1310.6,553.1 L1314.6,556.8 L1317.6,561.3 L1319.8,566.4 L1324.0,569.9 L1328.6,573.1 L1332.8,576.9 L1337.5,580.0 L1337.1,586.7 L1337.5,593.4 L1337.2,598.5 L1338.5,603.5 L1337.5,608.6 L1342.6,608.7 L1347.6,608.4 L1352.6,607.2 L1357.6,606.9 L1361.8,610.0 L1365.1,614.0 L1369.4,617.0 L1370.1,622.9 L1371.9,628.5 L1374.5,633.8 L1377.3,639.2 L1378.4,645.2 L1381.2,650.6 L1383.3,655.6 L1384.4,661.1 L1386.5,666.1 L1389.6,670.8 L1390.9,675.8 L1391.2,681.1 L1392.5,686.1 L1394.6,690.9 L1395.8,696.2 L1395.5,701.6 L1394.6,707.1 L1396.5,712.4 L1396.3,717.8"/>
<path d="M434.8,1060.0 L437.2,1064.9 L438.8,1070.1 L440.6,1075.2 L443.5,1079.9 L444.6,1085.3 L446.6,1090.3 L449.6,1095.2 L454.0,1098.8 L457.9,1102.9 L461.7,1107.1 L465.8,1110.4 L470.7,1112.6 L475.1,1115.5 L476.9,1110.2 L480.2,1105.7 L481.8,1100.3 L486.5,1097.1 L492.3,1096.1 L497.3,1093.6 L502.0,1090.3 L507.9,1090.4 L513.8,1090.3 L519.6,1089.3 L525.5,1090.3 L529.4,1093.9 L531.8,1098.7 L535.3,1102.7 L538.8,1106.6 L542.4,1110.4 L547.7,1111.3 L552.3,1114.2 L557.1,1116.4 L562.5,1117.1 L567.8,1120.1 L573.6,1122.0 L579.3,1123.9 L584.4,1128.0 L589.4,1132.3"/>
<path d="M475.1,1115.5 L471.7,1121.0 L470.1,1127.2 L471.6,1133.0 L471.9,1139.1 L474.4,1144.8 L475.1,1150.8 L479.3,1155.0 L483.9,1158.8 L487.6,1163.5 L491.9,1167.6 L493.7,1172.5 L493.8,1177.6 L494.8,1182.6 L495.3,1187.7 L498.7,1192.3 L499.7,1198.1 L502.1,1203.3 L505.4,1207.9 L507.8,1212.7 L508.5,1218.1 L510.4,1223.1 L512.1,1228.1 L513.1,1234.0 L513.6,1239.9 L514.3,1245.8 L515.5,1251.6 L515.4,1257.2 L514.7,1262.8 L513.8,1268.4 L519.6,1272.6 L525.5,1276.8 L530.5,1277.9 L535.6,1277.7 L540.6,1277.4 L545.7,1276.7 L550.8,1277.7 L555.8,1276.8 L559.7,1280.5 L564.3,1283.1 L569.2,1285.2 L573.1,1289.3 L576.1,1294.1 L579.3,1298.7 L583.9,1301.6 L587.8,1305.3 L591.4,1309.4 L596.1,1312.1 L601.2,1318.8 L604.0,1324.4 L607.1,1329.8 L609.6,1335.6 L608.0,1340.4 L605.8,1345.0 L602.9,1349.1 L597.5,1351.0 L592.4,1353.3 L587.4,1355.9 L582.7,1359.2 L580.3,1365.4 L576.4,1370.7 L572.6,1376.0 L574.2,1381.7 L574.3,1387.7 L570.4,1391.7 L566.9,1396.0 L562.5,1399.5 L556.6,1401.2 L550.8,1403.0 L544.8,1404.2 L539.0,1406.2 L535.6,1407.9 L537.8,1413.5 L540.1,1419.1 L542.4,1424.7 L535.5,1424.8 L528.9,1423.0 L523.4,1421.5 L517.7,1422.0 L512.1,1421.3 L506.9,1417.8 L500.7,1416.0 L495.3,1412.9 L491.7,1417.0 L486.2,1418.8 L482.7,1423.0 L478.5,1426.4 L474.5,1430.9 L468.8,1433.5 L465.0,1438.2 L461.4,1434.1 L456.1,1432.1 L453.0,1427.3 L448.2,1424.7 L442.9,1423.8 L438.2,1421.3 L433.6,1425.9 L428.5,1429.8 L423.0,1433.1"/>
<path d="M444.9,1594.5 L450.6,1594.1 L456.0,1591.6 L461.7,1591.1 L464.2,1598.2 L468.4,1604.5 L471.8,1609.0 L475.3,1613.4 L478.5,1618.0 L484.0,1621.6 L490.1,1624.1 L495.3,1628.1 L500.5,1628.3 L505.4,1629.6 L510.5,1630.0 L515.5,1631.4 L521.4,1630.9 L527.2,1629.6 L533.1,1628.7 L539.0,1628.1 L544.8,1627.2 L550.7,1626.6 L556.7,1627.3 L562.5,1626.4 L567.5,1624.4 L571.3,1620.5 L576.0,1618.0 L581.3,1621.9 L587.4,1624.4 L592.8,1628.1 L598.2,1630.3 L604.2,1630.9 L609.6,1633.1 L614.7,1631.1 L619.6,1628.7 L625.0,1627.6 L629.7,1624.7 L635.0,1622.7 L639.4,1618.9 L644.5,1616.3 L649.9,1614.6 L654.3,1611.2 L658.5,1607.4 L663.4,1604.5 L668.9,1602.8 L674.8,1603.3 L680.2,1601.2"/>
<path d="M542.4,1424.7 L547.4,1425.8 L552.4,1427.3 L557.4,1428.3 L562.4,1429.6 L567.4,1431.1 L572.6,1431.4 L573.7,1437.7 L576.6,1443.5 L577.6,1449.9 L582.5,1451.9 L586.9,1454.9 L591.6,1457.3 L596.1,1460.0 L598.7,1464.8 L602.9,1468.4 L609.7,1468.0 L616.3,1466.7 L621.3,1464.4 L626.3,1461.9 L631.2,1459.5 L636.6,1458.0 L641.9,1456.4 L646.6,1453.3 L651.7,1450.6 L657.3,1449.2 L662.6,1446.9 L668.1,1445.4 L673.4,1443.2 L680.0,1440.2 L686.9,1438.2"/>
<path d="M601.2,1318.8 L606.7,1318.2 L612.0,1320.5 L617.5,1320.6 L623.0,1320.5 L628.4,1319.0 L634.0,1319.8 L639.4,1318.7 L644.9,1318.8 L643.2,1325.4 L643.2,1332.3 L645.9,1339.3 L649.9,1345.7 L654.1,1340.9 L659.1,1336.9 L663.4,1332.3 L668.4,1325.5"/>
<path d="M763.4,1347.8 L767.3,1352.1 L770.3,1357.1 L775.6,1362.3 L779.6,1368.6 L784.8,1372.0 L790.6,1374.3 L795.7,1377.9 L801.8,1380.5 L808.3,1381.8 L814.2,1384.8 L818.4,1388.0 L823.3,1389.7 L828.1,1391.7 L833.9,1391.2 L839.7,1390.7 L845.4,1392.4 L851.2,1391.7 L856.5,1393.0 L862.0,1392.1 L867.4,1392.9 L872.7,1392.6 L877.7,1395.1 L882.9,1395.5 L888.2,1395.2 L894.4,1397.1 L900.8,1398.2 L906.7,1401.0 L911.0,1404.9 L915.3,1408.8 L920.5,1411.4"/>
<path d="M684.8,1438.0 L687.6,1443.1 L691.7,1447.2 L689.4,1456.4 L692.3,1462.0 L694.0,1468.0 L699.0,1469.5 L703.6,1471.8 L707.9,1474.9 L710.5,1479.8 L713.4,1484.6 L717.2,1488.8 L721.0,1494.2 L726.4,1498.0 L733.3,1505.0 L732.4,1510.7 L732.2,1516.5 L728.7,1525.8 L729.2,1532.0 L729.8,1538.2 L731.0,1544.3 L733.3,1551.2 L735.6,1558.1 L737.8,1562.8 L741.0,1567.0 L742.6,1572.0 L744.2,1577.7 L743.7,1583.5 L741.0,1588.6 L739.3,1594.1 L738.0,1599.7 L735.8,1606.5 L735.6,1613.6"/>
<path d="M601.6,1465.7 L608.6,1465.8 L615.5,1464.5 L613.2,1470.3 L607.0,1471.6 L600.7,1472.9 L594.7,1474.9 L588.9,1478.2 L582.3,1479.3 L576.2,1481.9 L573.9,1488.8 L578.2,1492.7 L583.1,1495.7 L583.9,1501.9 L584.7,1508.0 L585.4,1514.2 L586.0,1520.4 L585.6,1526.5 L585.4,1532.7 L587.0,1538.0 L588.1,1543.4 L590.5,1548.4 L592.4,1553.5 L599.3,1558.1 L603.1,1554.2 L606.7,1550.1 L610.8,1546.6 L615.1,1550.9 L620.3,1554.0 L624.7,1558.1 L632.0,1559.5 L638.6,1562.8 L643.1,1565.2 L647.8,1567.4 L652.4,1569.7 L656.5,1575.9 L661.7,1581.2 L667.5,1585.7 L673.2,1590.5 L676.4,1596.5 L680.2,1602.0 L686.4,1602.5 L692.5,1603.5 L698.7,1604.3 L705.1,1605.0 L711.1,1607.4 L717.2,1609.0 L723.5,1609.9 L729.5,1611.9 L735.6,1613.6 L741.9,1615.4 L747.8,1618.6 L754.1,1620.5 L761.1,1622.5 L768.0,1625.1 L772.8,1628.0 L777.4,1631.2 L781.9,1634.4 L786.3,1639.2 L791.1,1643.6 L793.6,1648.1 L795.7,1652.9 L802.7,1657.5"/>
<path d="M560.0,1625.1 L566.9,1623.4 L573.9,1622.8 L578.5,1617.1 L582.5,1620.6 L585.4,1625.1 L591.3,1628.4 L597.0,1632.1 L604.0,1631.9 L610.8,1633.2 L615.4,1631.1 L619.7,1628.6 L624.7,1627.5 L631.7,1625.2 L638.6,1622.8 L647.8,1620.5 L652.5,1617.2 L657.1,1613.6 L661.6,1611.0 L666.6,1609.6 L670.9,1606.7 L675.1,1603.4 L680.2,1602.0"/>
<path d="M888.2,1260.0 L887.2,1265.7 L887.7,1271.6 L887.4,1277.4 L885.9,1283.1 L883.1,1288.7 L879.2,1293.6 L876.6,1299.3 L875.3,1304.6 L872.3,1309.4 L871.2,1314.8 L869.7,1320.1 L867.4,1326.3 L864.9,1332.4 L862.8,1338.6 L861.1,1344.7 L859.6,1350.9 L858.1,1357.1 L858.6,1364.1 L860.4,1370.9 L855.6,1372.9 L851.2,1375.6 L853.5,1380.2 L855.8,1384.8 L851.2,1391.7"/>
<path d="M920.4,1411.7 L925.5,1406.6 L929.9,1403.9 L932.5,1399.3 L937.1,1396.9 L940.5,1393.1 L944.2,1389.6 L945.7,1384.6 L945.2,1379.4 L945.3,1374.3 L945.9,1369.2 L947.2,1363.7 L950.0,1358.9 L953.2,1354.3 L954.4,1348.8 L956.6,1343.3 L956.1,1337.4 L957.8,1331.8 L963.4,1327.2 L968.0,1321.6 L973.6,1320.4 L979.4,1320.6 L985.0,1319.9 L990.7,1321.4 L996.5,1322.8 L1002.0,1325.0 L1007.7,1326.6 L1013.2,1328.9 L1019.0,1330.1 L1024.5,1333.8 L1030.5,1336.6 L1036.0,1340.3 L1041.8,1340.6 L1047.5,1341.5 L1053.0,1343.7 L1058.6,1341.1 L1063.2,1336.9 L1068.9,1336.4 L1074.5,1335.8 L1080.2,1335.2 L1087.0,1336.7 L1093.8,1338.6 L1098.9,1337.7 L1104.0,1338.0 L1109.1,1338.6"/>
<path d="M560.0,871.6 L565.8,873.3 L571.6,875.0 L575.6,879.8 L578.5,885.4 L584.3,888.7 L590.7,890.3 L597.0,892.4 L601.5,894.9 L605.8,897.9 L611.3,898.5 L615.5,901.6 L622.4,897.0 L627.3,898.8 L632.7,898.7 L637.8,899.9 L642.8,901.3 L647.8,902.8 L652.9,903.1 L658.0,903.3 L663.1,902.5 L668.1,901.4 L673.2,901.6 L677.6,904.9 L681.3,909.0 L684.8,913.2 L689.7,914.9 L694.1,917.8 L698.7,920.1 L705.6,921.9 L712.5,923.6 L719.2,921.0 L726.4,920.1 L732.4,917.9 L738.9,917.8 L744.9,915.5 L750.6,916.5 L756.4,916.6 L761.7,915.0 L767.3,915.9 L772.6,914.3 L778.7,912.7 L784.9,911.0 L791.1,909.7 L798.0,910.9 L805.0,910.8 L812.1,908.3 L818.8,905.1 L825.0,906.1 L831.2,907.1 L837.3,908.5 L843.5,908.6 L849.6,909.2 L855.8,908.5 L857.7,913.4 L860.4,917.8 L866.7,920.5 L872.0,924.7 L878.1,926.0 L883.5,929.3 L889.7,930.6 L895.9,932.0 L902.0,934.0 L906.3,937.6 L911.1,940.3 L915.9,943.2 L921.1,947.2 L925.1,952.4 L930.5,953.6"/>
<path d="M751.6,916.4 L749.1,924.0 L756.6,929.0 L760.4,935.3 L754.1,940.3 L750.3,945.4 L751.6,954.2 L747.8,961.8 L742.8,966.8 L736.5,964.3 L728.9,965.5 L722.6,966.8 L715.0,970.6 L711.3,975.6 L702.4,978.2 L693.6,981.9 L686.1,983.2 L692.4,988.2 L694.9,995.8 L689.8,999.6 L684.8,997.1 L681.0,1000.8 L684.8,1005.9 L679.8,1010.9 L673.5,1004.6 L667.1,1007.1 L664.6,1013.5 L667.1,1021.0 L664.6,1026.1 L655.8,1028.6 L651.0,1030.7 L645.7,1031.1 L640.6,1031.9 L635.6,1033.0 L628.1,1031.1 L625.5,1037.4 L630.6,1042.4 L636.9,1048.7 L630.6,1056.3 L635.6,1054.6 L640.7,1053.8 L642.5,1058.6 L644.5,1063.2 L647.0,1067.7 L650.8,1074.1 L652.0,1081.5 L652.9,1087.4 L650.8,1092.9 L647.0,1086.6 L640.7,1080.3 L634.4,1077.7 L626.8,1079.0 L619.2,1082.8 L621.8,1091.6 L620.5,1100.4 L612.9,1096.6 L610.7,1091.0 L606.6,1086.6 L602.9,1079.0 L600.3,1086.6 L594.0,1092.9 L587.7,1097.9 L594.0,1104.2 L600.3,1110.5 L591.5,1109.3 L589.0,1114.3 L592.8,1121.9 L599.1,1125.6 L596.6,1130.7 L591.5,1134.5 L587.7,1140.0"/>
<path d="M640.7,1053.8 L646.9,1052.5 L653.3,1052.5 L660.8,1050.0 L668.4,1046.2 L676.0,1042.4 L677.2,1034.9 L683.5,1033.6 L688.8,1033.9 L693.6,1036.1 L699.4,1037.8 L705.0,1039.9 L710.3,1041.0 L715.0,1043.7 L722.6,1047.5"/>
<path d="M722.6,1047.5 L728.9,1053.8 L736.5,1063.9 L745.3,1072.7 L752.9,1080.3 L759.2,1087.8 L768.0,1092.9 L779.3,1094.8 L790.7,1092.9 L800.0,1089.1"/>
<path d="M653.3,1052.5 L655.8,1061.4 L659.6,1068.9 L662.1,1076.5 L668.4,1072.7 L673.5,1065.1 L679.8,1058.8 L687.3,1057.6 L696.1,1055.0 L701.2,1058.8 L693.6,1062.6 L687.3,1063.9 L683.5,1067.7 L686.1,1075.2 L687.3,1081.5 L696.1,1082.8 L699.9,1080.3 L701.2,1087.8 L702.4,1096.6 L696.1,1090.3 L691.0,1091.8 L686.1,1094.1 L679.6,1095.3 L673.5,1097.9 L667.7,1097.6 L662.1,1099.2 L655.8,1106.7 L648.2,1113.0 L640.7,1116.8 L638.2,1121.9 L645.7,1119.3 L653.3,1123.1 L650.8,1130.7 L647.6,1134.8 L647.0,1140.0"/>
<path d="M721.4,1053.8 L718.8,1067.7 L715.0,1082.8 L712.5,1096.6 L710.0,1108.0 L706.2,1113.0 L716.3,1113.0 L715.0,1125.6 L694.9,1126.9 L694.9,1140.0"/>
<path d="M800.0,952.9 L795.7,965.5 L791.9,978.2 L788.2,990.8 L779.3,990.8 L774.3,1000.8"/>
<path d="M747.8,963.0 L750.3,975.6 L749.1,983.2 L756.6,993.3 L764.2,1000.8 L774.3,1004.6 L784.4,1009.7 L793.2,1014.7 L800.0,1017.2"/>
<path d="M589.4,1132.2 L597.0,1137.3 L601.7,1140.7 L606.9,1143.1 L612.6,1144.2 L617.8,1146.6 L622.3,1149.8 L626.9,1152.9 L629.3,1158.1 L634.7,1158.8 L640.1,1158.0 L645.5,1158.1 L640.0,1160.0 L644.8,1162.2 L650.1,1161.8 L655.0,1163.5 L660.8,1170.4 L657.3,1177.3 L651.8,1178.0 L646.9,1180.8 L650.4,1190.0 L645.8,1198.1 L651.6,1206.2 L656.4,1204.1 L661.9,1205.0 L666.6,1202.7 L667.4,1208.8 L670.0,1214.3 L663.1,1220.1 L662.0,1229.3 L666.6,1233.9 L659.6,1238.6 L664.7,1239.0 L669.6,1240.3 L674.7,1240.9 L680.2,1243.9 L686.7,1244.4 L692.0,1247.8 L685.1,1252.4 L688.5,1261.7 L682.7,1269.8 L677.5,1270.7 L672.4,1272.1 L675.5,1277.5 L680.4,1281.3 L675.7,1283.7 L670.0,1283.2 L665.4,1285.9 L669.2,1289.9 L673.0,1293.9 L678.1,1296.3 L684.5,1296.2 L690.8,1297.5 L694.3,1305.6 L699.7,1304.5 L704.7,1306.7 L709.3,1305.6"/>
<path d="M925.1,952.4 L928.1,956.7 L929.8,961.7 L930.8,968.0 L928.4,974.0 L928.6,980.2 L930.7,986.3 L929.3,992.5 L929.8,998.7 L925.5,1003.7 L920.5,1007.9 L921.7,1015.0 L919.4,1021.8 L923.4,1026.4 L927.5,1031.0 L930.5,1036.4 L929.8,1042.6 L933.1,1047.1 L937.4,1050.8 L939.0,1056.4 L942.3,1063.0 L942.5,1070.3 L936.2,1071.2 L929.8,1071.5 L920.5,1072.6 L918.6,1079.4 L919.4,1086.5 L913.3,1089.1 L906.7,1088.8 L910.0,1092.9 L911.3,1098.0 L915.7,1100.8 L920.5,1102.7 L921.1,1109.1 L925.1,1114.2 L922.5,1119.9 L920.5,1125.8 L918.2,1135.0 L913.6,1142.0 L917.4,1147.5 L920.5,1153.5 L922.4,1160.3 L927.5,1165.1 L934.7,1164.5 L941.3,1167.4 L947.4,1167.7 L952.9,1165.1 L956.0,1169.3 L957.5,1174.3 L963.0,1176.6 L966.7,1181.2 L966.7,1190.5 L962.8,1194.2 L957.5,1195.1 L962.1,1199.7 L956.6,1202.7 L950.6,1204.3 L945.0,1201.9 L939.0,1202.0 L935.0,1205.5 L929.8,1206.7 L920.5,1205.5 L915.9,1213.6 L906.7,1213.6 L899.8,1212.1 L892.8,1211.3 L888.5,1207.4 L883.5,1204.3 L876.6,1206.7 L870.6,1208.7 L864.2,1209.6 L858.1,1211.3 L853.0,1215.2 L846.6,1215.9 L847.2,1222.0 L844.3,1227.5 L848.8,1232.6 L851.2,1239.0 L858.1,1243.6 L863.4,1248.8 L869.7,1252.9 L874.4,1254.9 L879.2,1256.8 L883.5,1259.8 L884.7,1265.3 L886.8,1270.5 L888.2,1276.0 L887.8,1282.2 L884.7,1287.8 L883.9,1293.8 L883.5,1300.0 L883.1,1294.9 L885.0,1290.0 L885.4,1285.0 L887.3,1280.2 L887.3,1275.1 L886.2,1269.9 L889.5,1265.2 L888.2,1260.0"/>
<path d="M906.7,1088.8 L883.5,1081.9 L860.4,1086.5 L851.2,1091.1 L842.0,1105.0 L860.4,1121.2 L865.1,1132.7 L860.4,1146.6 L842.0,1155.8 L830.4,1165.1 L828.1,1183.5 L821.2,1192.8 L825.8,1206.7 L823.5,1225.1 L825.8,1239.0 L835.0,1250.6 L853.5,1252.9 L858.1,1243.6"/>
<path d="M860.4,1146.6 L872.0,1151.2 L883.5,1158.1 L892.8,1167.4 L902.0,1178.9 L913.6,1183.5 L929.8,1192.8 L941.3,1197.4 L952.9,1199.7"/>
<path d="M857.0,909.7 L854.7,929.3 L852.4,950.1 L844.3,966.3 L832.7,980.2 L823.5,994.0 L814.2,1010.2 L811.9,1026.4 L808.4,1044.9 L802.7,1072.6 L791.1,1100.4 L774.9,1130.4 L781.9,1155.8 L791.1,1183.5 L788.8,1202.0 L786.5,1218.2 L781.9,1248.3 L777.2,1276.0 L774.9,1300.0 L779.6,1260.0 L777.2,1283.1 L772.6,1306.2 L768.0,1329.3 L763.4,1347.8 L744.9,1364.0 L731.0,1380.2 L717.2,1391.7 L698.7,1407.9 L689.4,1426.4 L684.8,1438.0"/>
<path d="M800.4,914.3 L802.7,929.3 L811.9,931.6 L811.9,943.2 L802.7,952.4 L798.0,968.6 L793.4,984.8 L788.8,994.0 L774.9,991.7 L772.6,1001.0 L761.1,994.0 L751.8,984.8 L749.5,975.6"/>
<path d="M883.5,929.3 L883.5,940.9 L881.2,957.1 L876.6,970.9 L881.2,977.9 L869.7,984.8 L858.1,987.1 L844.3,984.8 L835.0,977.9"/>
<path d="M858.1,987.1 L869.7,998.7 L892.8,998.7 L915.9,998.7 L925.1,996.4"/>
<path d="M869.7,998.7 L867.4,1021.8 L865.1,1044.9 L862.8,1068.0 L860.4,1086.5"/>
<path d="M787.6,1070.3 L802.7,1072.6 L825.8,1074.9 L851.2,1081.9 L854.7,1085.3"/>
<path d="M721.8,1051.8 L717.2,1068.0 L712.5,1086.5 L709.1,1105.0 L707.9,1111.9 L717.2,1111.9 L714.8,1125.8 L698.7,1125.8 L695.2,1148.9 L680.2,1148.9 L677.9,1153.5 L652.4,1158.1"/>
<path d="M660.8,1170.4 L680.4,1171.6 L704.7,1171.6 L701.2,1168.1 L732.4,1166.4 L755.5,1165.2 L779.8,1164.0"/>
<path d="M709.3,1305.6 L720.9,1313.7 L731.3,1316.0 L733.6,1331.0 L744.0,1325.2 L747.5,1317.1 L762.5,1320.6 L769.4,1316.0 L771.7,1316.0"/>
<path d="M763.6,1187.2 L765.9,1192.4 L735.9,1193.5 L734.7,1206.2 L731.3,1229.3 L726.7,1252.4 L723.2,1266.3 L724.3,1273.2"/>
<path d="M724.3,1273.2 L720.9,1266.3 L715.3,1268.3 L709.3,1268.6 L708.5,1275.1 L710.5,1281.3 L713.9,1287.1 L708.2,1290.6 L709.3,1295.2 L704.7,1298.6 L708.2,1304.4 L709.3,1305.6"/>
<path d="M763.6,1187.2 L776.3,1188.3 L790.2,1193.5 L801.8,1201.6 L813.3,1213.1 L824.9,1217.8"/>
<path d="M640.0,1314.8 L651.6,1309.0 L668.9,1308.5 L678.1,1311.4 L688.5,1319.4 L697.8,1316.0 L694.3,1310.2 L704.7,1306.7"/>
</g>
<g fill="none" stroke="#000" stroke-width="1.8" stroke-linecap="round">
<path d="M1544.2,445.5 L1559.3,462.4 L1576.1,465.7 L1592.9,479.2"/>
<path d="M1519.0,506.1 L1527.4,519.5"/>
<path d="M1530.8,538.0 L1542.5,556.5 L1554.3,571.6"/>
</g>
<g stroke="#adadad" stroke-width="1.4" stroke-dasharray="6.5,3.2" fill="none">
<path d="M350.0,103.5 V2188.5"/>
<path d="M703.3,103.5 V2188.5"/>
<path d="M1056.6,103.5 V2188.5"/>
<path d="M1409.9,103.5 V2188.5"/>
<path d="M1763.1,103.5 V2188.5"/>
<path d="M2116.2,103.5 V2188.5"/>
<path d="M194.5,240.3 H2129"/>
<path d="M194.5,595.4 H2129"/>
<path d="M194.5,950.6 H2129"/>
<path d="M194.5,1306.0 H2129"/>
<path d="M194.5,1661.6 H2129"/>
<path d="M194.5,2017.0 H2129"/>
</g>
<circle cx="1120.3" cy="602.0" r="10.6" fill="#0000fa" stroke="#fff" stroke-width="1.3"/>
<circle cx="1276.0" cy="698.2" r="10.6" fill="#0000fa" stroke="#fff" stroke-width="1.3"/>
<circle cx="1069.9" cy="758.3" r="10.6" fill="#0000fa" stroke="#fff" stroke-width="1.3"/>
<circle cx="1012.8" cy="789.6" r="10.6" fill="#0000fa" stroke="#fff" stroke-width="1.3"/>
<circle cx="1021.8" cy="799.7" r="10.6" fill="#0000fa" stroke="#fff" stroke-width="1.3"/>
<circle cx="1016.1" cy="781.2" r="10.6" fill="#0000fa" stroke="#fff" stroke-width="1.3"/>
<circle cx="1381.8" cy="549.9" r="10.6" fill="#0000fa" stroke="#fff" stroke-width="1.3"/>
<circle cx="1397.6" cy="541.8" r="10.6" fill="#0000fa" stroke="#fff" stroke-width="1.3"/>
<circle cx="1434.6" cy="550.3" r="10.6" fill="#0000fa" stroke="#fff" stroke-width="1.3"/>
<circle cx="1382.5" cy="550.4" r="10.6" fill="#0000fa" stroke="#fff" stroke-width="1.3"/>
<circle cx="1397.3" cy="542.0" r="10.6" fill="#0000fa" stroke="#fff" stroke-width="1.3"/>
<circle cx="1434.3" cy="550.4" r="10.6" fill="#0000fa" stroke="#fff" stroke-width="1.3"/>
<circle cx="1554.3" cy="522.2" r="10.6" fill="#0000fa" stroke="#fff" stroke-width="1.3"/>
<circle cx="1665.5" cy="479.2" r="10.6" fill="#0000fa" stroke="#fff" stroke-width="1.3"/>
<circle cx="517.1" cy="1047.4" r="10.6" fill="#0000fa" stroke="#fff" stroke-width="1.3"/>
<circle cx="836.5" cy="795.3" r="10.6" fill="#0000fa" stroke="#fff" stroke-width="1.3"/>
<circle cx="840.8" cy="796.3" r="10.6" fill="#0000fa" stroke="#fff" stroke-width="1.3"/>
<circle cx="792.1" cy="817.1" r="10.6" fill="#0000fa" stroke="#fff" stroke-width="1.3"/>
<circle cx="764.5" cy="840.7" r="10.6" fill="#0000fa" stroke="#fff" stroke-width="1.3"/>
<circle cx="823.4" cy="835.6" r="10.6" fill="#0000fa" stroke="#fff" stroke-width="1.3"/>
<circle cx="775.3" cy="894.8" r="10.6" fill="#0000fa" stroke="#fff" stroke-width="1.3"/>
<circle cx="797.8" cy="910.6" r="10.6" fill="#0000fa" stroke="#fff" stroke-width="1.3"/>
<circle cx="802.9" cy="911.6" r="10.6" fill="#0000fa" stroke="#fff" stroke-width="1.3"/>
<circle cx="599.8" cy="1184.7" r="10.6" fill="#0000fa" stroke="#fff" stroke-width="1.3"/>
<circle cx="610.4" cy="1185.9" r="10.6" fill="#0000fa" stroke="#fff" stroke-width="1.3"/>
<circle cx="631.2" cy="1175.5" r="10.6" fill="#0000fa" stroke="#fff" stroke-width="1.3"/>
<circle cx="659.8" cy="1183.1" r="10.6" fill="#0000fa" stroke="#fff" stroke-width="1.3"/>
<circle cx="638.6" cy="1045.6" r="10.6" fill="#0000fa" stroke="#fff" stroke-width="1.3"/>
<circle cx="695.2" cy="1042.6" r="10.6" fill="#0000fa" stroke="#fff" stroke-width="1.3"/>
<circle cx="712.5" cy="1044.9" r="10.6" fill="#0000fa" stroke="#fff" stroke-width="1.3"/>
<circle cx="716.7" cy="972.5" r="10.6" fill="#0000fa" stroke="#fff" stroke-width="1.3"/>
<circle cx="731.0" cy="984.8" r="10.6" fill="#0000fa" stroke="#fff" stroke-width="1.3"/>
<circle cx="759.9" cy="974.4" r="10.6" fill="#0000fa" stroke="#fff" stroke-width="1.3"/>
<circle cx="769.6" cy="1093.4" r="10.6" fill="#0000fa" stroke="#fff" stroke-width="1.3"/>
<circle cx="878.5" cy="1111.9" r="10.6" fill="#0000fa" stroke="#fff" stroke-width="1.3"/>
<circle cx="901.6" cy="1115.4" r="10.6" fill="#0000fa" stroke="#fff" stroke-width="1.3"/>
<circle cx="912.4" cy="1124.6" r="10.6" fill="#0000fa" stroke="#fff" stroke-width="1.3"/>
<circle cx="910.1" cy="1182.4" r="10.6" fill="#0000fa" stroke="#fff" stroke-width="1.3"/>
<circle cx="929.8" cy="1192.8" r="10.6" fill="#0000fa" stroke="#fff" stroke-width="1.3"/>
<circle cx="944.8" cy="1196.3" r="10.6" fill="#0000fa" stroke="#fff" stroke-width="1.3"/>
<circle cx="467.7" cy="1291.3" r="10.6" fill="#0000fa" stroke="#fff" stroke-width="1.3"/>
<circle cx="488.6" cy="1325.2" r="10.6" fill="#0000fa" stroke="#fff" stroke-width="1.3"/>
<circle cx="521.5" cy="1340.0" r="10.6" fill="#0000fa" stroke="#fff" stroke-width="1.3"/>
<circle cx="689.6" cy="1363.2" r="10.6" fill="#0000fa" stroke="#fff" stroke-width="1.3"/>
<circle cx="587.7" cy="1394.5" r="10.6" fill="#0000fa" stroke="#fff" stroke-width="1.3"/>
<circle cx="605.5" cy="1401.2" r="10.6" fill="#0000fa" stroke="#fff" stroke-width="1.3"/>
<circle cx="519.8" cy="1474.5" r="10.6" fill="#0000fa" stroke="#fff" stroke-width="1.3"/>
<circle cx="628.7" cy="1476.8" r="10.6" fill="#0000fa" stroke="#fff" stroke-width="1.3"/>
<circle cx="584.4" cy="1531.3" r="10.6" fill="#0000fa" stroke="#fff" stroke-width="1.3"/>
<circle cx="664.4" cy="1529.9" r="10.6" fill="#0000fa" stroke="#fff" stroke-width="1.3"/>
<circle cx="787.1" cy="1490.3" r="10.6" fill="#0000fa" stroke="#fff" stroke-width="1.3"/>
<circle cx="814.6" cy="1526.2" r="10.6" fill="#0000fa" stroke="#fff" stroke-width="1.3"/>
<circle cx="573.3" cy="1616.3" r="10.6" fill="#0000fa" stroke="#fff" stroke-width="1.3"/>
<circle cx="552.8" cy="1691.9" r="10.6" fill="#0000fa" stroke="#fff" stroke-width="1.3"/>
<circle cx="611.0" cy="1688.4" r="10.6" fill="#0000fa" stroke="#fff" stroke-width="1.3"/>
<circle cx="603.7" cy="1683.6" r="10.6" fill="#0000fa" stroke="#fff" stroke-width="1.3"/>
<circle cx="570.8" cy="1731.8" r="10.6" fill="#0000fa" stroke="#fff" stroke-width="1.3"/>
<circle cx="573.5" cy="1713.9" r="10.6" fill="#0000fa" stroke="#fff" stroke-width="1.3"/>
<path d="M1411.6,237.0 L1651.0,435.7 M1630.7,430.4 L1651.0,435.7 L1642.0,416.7" fill="none" stroke="#6b6b6b" stroke-width="3.6" stroke-linecap="round" stroke-linejoin="round"/>
<path d="M1081.0,450.4 L1231.8,656.3 M1213.4,646.2 L1231.8,656.3 L1227.7,635.7" fill="none" stroke="#6b6b6b" stroke-width="3.6" stroke-linecap="round" stroke-linejoin="round"/>
<path d="M554.0,521.7 L732.3,737.5 M713.3,728.5 L732.3,737.5 L727.0,717.2" fill="none" stroke="#6b6b6b" stroke-width="3.6" stroke-linecap="round" stroke-linejoin="round"/>
<path d="M1296.3,953.4 L1063.2,774.0 M1083.7,778.6 L1063.2,774.0 L1072.9,792.6" fill="none" stroke="#6b6b6b" stroke-width="3.6" stroke-linecap="round" stroke-linejoin="round"/>
<path d="M1274.8,1155.4 L675.0,1101.0 M694.8,1093.9 L675.0,1101.0 L693.2,1111.6" fill="none" stroke="#6b6b6b" stroke-width="3.6" stroke-linecap="round" stroke-linejoin="round"/>
<path d="M347.0,1377.6 L638.7,1381.6 M619.5,1390.2 L638.7,1381.6 L619.8,1372.5" fill="none" stroke="#6b6b6b" stroke-width="3.6" stroke-linecap="round" stroke-linejoin="round"/>
<path d="M427.9,1526.3 L515.5,1531.6 M496.0,1539.3 L515.5,1531.6 L497.0,1521.6" fill="none" stroke="#6b6b6b" stroke-width="3.6" stroke-linecap="round" stroke-linejoin="round"/>
<path d="M1038.7,1557.6 L900.8,1474.6 M921.7,1476.8 L900.8,1474.6 L912.5,1492.0" fill="none" stroke="#6b6b6b" stroke-width="3.6" stroke-linecap="round" stroke-linejoin="round"/>
<path d="M926.0,1664.5 L678.0,1530.0 M699.0,1531.3 L678.0,1530.0 L690.5,1546.9" fill="none" stroke="#6b6b6b" stroke-width="3.6" stroke-linecap="round" stroke-linejoin="round"/>
<path d="M836.6,1835.0 L620.8,1823.2 M640.3,1815.4 L620.8,1823.2 L639.3,1833.1" fill="none" stroke="#6b6b6b" stroke-width="3.6" stroke-linecap="round" stroke-linejoin="round"/>
<rect x="1282.9" y="173.4" width="183.0" height="62.0" rx="7" ry="7" fill="#fff" fill-opacity="0.9" stroke="#969696" stroke-width="3.2"/>
<text x="1295.0" y="217.2" font-family="'Liberation Sans', sans-serif" font-size="44" fill="#555" textLength="160.7" lengthAdjust="spacingAndGlyphs">Barbosa</text>
<rect x="951.0" y="386.9" width="211.1" height="61.9" rx="7" ry="7" fill="#fff" fill-opacity="0.9" stroke="#969696" stroke-width="3.2"/>
<text x="960.8" y="429.4" font-family="'Liberation Sans', sans-serif" font-size="44" fill="#555" textLength="190.2" lengthAdjust="spacingAndGlyphs">Girardota</text>
<rect x="466.6" y="457.4" width="120.2" height="62.7" rx="7" ry="7" fill="#fff" fill-opacity="0.9" stroke="#969696" stroke-width="3.2"/>
<text x="478.5" y="501.2" font-family="'Liberation Sans', sans-serif" font-size="44" fill="#555" textLength="97.5" lengthAdjust="spacingAndGlyphs">Bello</text>
<rect x="1201.4" y="955.0" width="275.6" height="62.9" rx="7" ry="7" fill="#fff" fill-opacity="0.9" stroke="#969696" stroke-width="3.2"/>
<text x="1211.7" y="997.6" font-family="'Liberation Sans', sans-serif" font-size="44" fill="#555" textLength="253.8" lengthAdjust="spacingAndGlyphs">Copacabana</text>
<rect x="1276.4" y="1133.0" width="196.3" height="62.0" rx="7" ry="7" fill="#fff" fill-opacity="0.9" stroke="#969696" stroke-width="3.2"/>
<text x="1287.5" y="1176.9" font-family="'Liberation Sans', sans-serif" font-size="44" fill="#555" textLength="171.7" lengthAdjust="spacingAndGlyphs">Medellín</text>
<rect x="213.0" y="1346.2" width="132.4" height="61.9" rx="7" ry="7" fill="#fff" fill-opacity="0.9" stroke="#969696" stroke-width="3.2"/>
<text x="224.8" y="1389.1" font-family="'Liberation Sans', sans-serif" font-size="44" fill="#555" textLength="109.9" lengthAdjust="spacingAndGlyphs">Itagüí</text>
<rect x="202.9" y="1488.2" width="223.4" height="61.9" rx="7" ry="7" fill="#fff" fill-opacity="0.9" stroke="#969696" stroke-width="3.2"/>
<text x="214.6" y="1531.6" font-family="'Liberation Sans', sans-serif" font-size="44" fill="#555" textLength="201.8" lengthAdjust="spacingAndGlyphs">La Estrella</text>
<rect x="987.5" y="1559.2" width="208.5" height="62.4" rx="7" ry="7" fill="#fff" fill-opacity="0.9" stroke="#969696" stroke-width="3.2"/>
<text x="998.3" y="1603.0" font-family="'Liberation Sans', sans-serif" font-size="44" fill="#555" textLength="186.6" lengthAdjust="spacingAndGlyphs">Envigado</text>
<rect x="882.3" y="1666.1" width="207.5" height="61.3" rx="7" ry="7" fill="#fff" fill-opacity="0.9" stroke="#969696" stroke-width="3.2"/>
<text x="893.1" y="1709.6" font-family="'Liberation Sans', sans-serif" font-size="44" fill="#555" textLength="184.9" lengthAdjust="spacingAndGlyphs">Sabaneta</text>
<rect x="838.2" y="1808.0" width="154.2" height="61.7" rx="7" ry="7" fill="#fff" fill-opacity="0.9" stroke="#969696" stroke-width="3.2"/>
<text x="848.0" y="1850.8" font-family="'Liberation Sans', sans-serif" font-size="44" fill="#555" textLength="133.5" lengthAdjust="spacingAndGlyphs">Caldas</text>
<rect x="206" y="2104" width="506" height="46" fill="#fff" fill-opacity="0.7"/>
<text x="213.5" y="2139.5" font-family="'Liberation Sans', sans-serif" font-size="35" fill="#6e6e6e" textLength="491" lengthAdjust="spacingAndGlyphs">Actualizado: 19-05-2025 23:16</text>
<rect x="194.5" y="103.5" width="1934.5" height="2085.0" fill="none" stroke="#4d4d4d" stroke-width="3"/>
<g stroke="#4d4d4d" stroke-width="3">
<path d="M350.0,2188.5 v-15"/>
<path d="M703.3,2188.5 v-15"/>
<path d="M1056.6,2188.5 v-15"/>
<path d="M1409.9,2188.5 v-15"/>
<path d="M1763.1,2188.5 v-15"/>
<path d="M2116.2,2188.5 v-15"/>
<path d="M194.5,240.3 h15"/>
<path d="M194.5,595.4 h15"/>
<path d="M194.5,950.6 h15"/>
<path d="M194.5,1306.0 h15"/>
<path d="M194.5,1661.6 h15"/>
<path d="M194.5,2017.0 h15"/>
</g>
<g font-family="'Liberation Sans', sans-serif" fill="#555">
<text x="1163" y="79.5" font-size="64" text-anchor="middle" textLength="1808" lengthAdjust="spacing">Probabilidad de ocurrencia de Movimientos en Masa (2025-05-19)</text>
<text x="350.0" y="2240" font-size="45" text-anchor="middle" textLength="177" lengthAdjust="spacingAndGlyphs">75.70° W</text>
<text x="703.3" y="2240" font-size="45" text-anchor="middle" textLength="177" lengthAdjust="spacingAndGlyphs">75.60° W</text>
<text x="1056.6" y="2240" font-size="45" text-anchor="middle" textLength="177" lengthAdjust="spacingAndGlyphs">75.50° W</text>
<text x="1409.9" y="2240" font-size="45" text-anchor="middle" textLength="177" lengthAdjust="spacingAndGlyphs">75.40° W</text>
<text x="1763.1" y="2240" font-size="45" text-anchor="middle" textLength="177" lengthAdjust="spacingAndGlyphs">75.30° W</text>
<text x="2116.2" y="2240" font-size="45" text-anchor="middle" textLength="177" lengthAdjust="spacingAndGlyphs">75.20° W</text>
<text x="176" y="256.8" font-size="45" text-anchor="end" textLength="145" lengthAdjust="spacingAndGlyphs">6.50° N</text>
<text x="176" y="611.9" font-size="45" text-anchor="end" textLength="145" lengthAdjust="spacingAndGlyphs">6.40° N</text>
<text x="176" y="967.1" font-size="45" text-anchor="end" textLength="145" lengthAdjust="spacingAndGlyphs">6.30° N</text>
<text x="176" y="1322.5" font-size="45" text-anchor="end" textLength="145" lengthAdjust="spacingAndGlyphs">6.20° N</text>
<text x="176" y="1678.1" font-size="45" text-anchor="end" textLength="145" lengthAdjust="spacingAndGlyphs">6.10° N</text>
<text x="176" y="2033.5" font-size="45" text-anchor="end" textLength="145" lengthAdjust="spacingAndGlyphs">6.00° N</text>
</g>
<rect x="1670.7" y="1630.5" width="430" height="529.5" rx="9" ry="9" fill="#fff" fill-opacity="1" stroke="#cccccc" stroke-width="3.5"/>
<g font-family="'Liberation Sans', sans-serif" fill="#505050">
<text x="1735.8" y="1712.8" font-size="84" textLength="301" lengthAdjust="spacingAndGlyphs">Leyenda</text>
<rect x="1690.8" y="1763.2" width="108" height="37.8" fill="#4bc87a" stroke="#808080" stroke-width="3.5"/>
<text x="1845.5" y="1801.0" font-size="54" textLength="102" lengthAdjust="spacingAndGlyphs">Bajo</text>
<rect x="1690.8" y="1844.7" width="108" height="37.8" fill="#fde12d" stroke="#808080" stroke-width="3.5"/>
<text x="1845.5" y="1882.3" font-size="54" textLength="151" lengthAdjust="spacingAndGlyphs">Medio</text>
<rect x="1690.8" y="1926.7" width="108" height="37.8" fill="#ff0033" stroke="#808080" stroke-width="3.5"/>
<text x="1845.5" y="1964.3" font-size="54" textLength="95" lengthAdjust="spacingAndGlyphs">Alto</text>
<rect x="1690.8" y="2008.0" width="108" height="37.8" fill="#d3d3d3" stroke="#808080" stroke-width="3.5"/>
<text x="1845.5" y="2046.6" font-size="54" textLength="233" lengthAdjust="spacingAndGlyphs">No Aplica</text>
<circle cx="1745.3" cy="2109" r="14.7" fill="#0000fa"/>
<text x="1845.5" y="2127.8" font-size="54" textLength="132" lengthAdjust="spacingAndGlyphs">SATC</text>
</g>
</svg></body></html>
